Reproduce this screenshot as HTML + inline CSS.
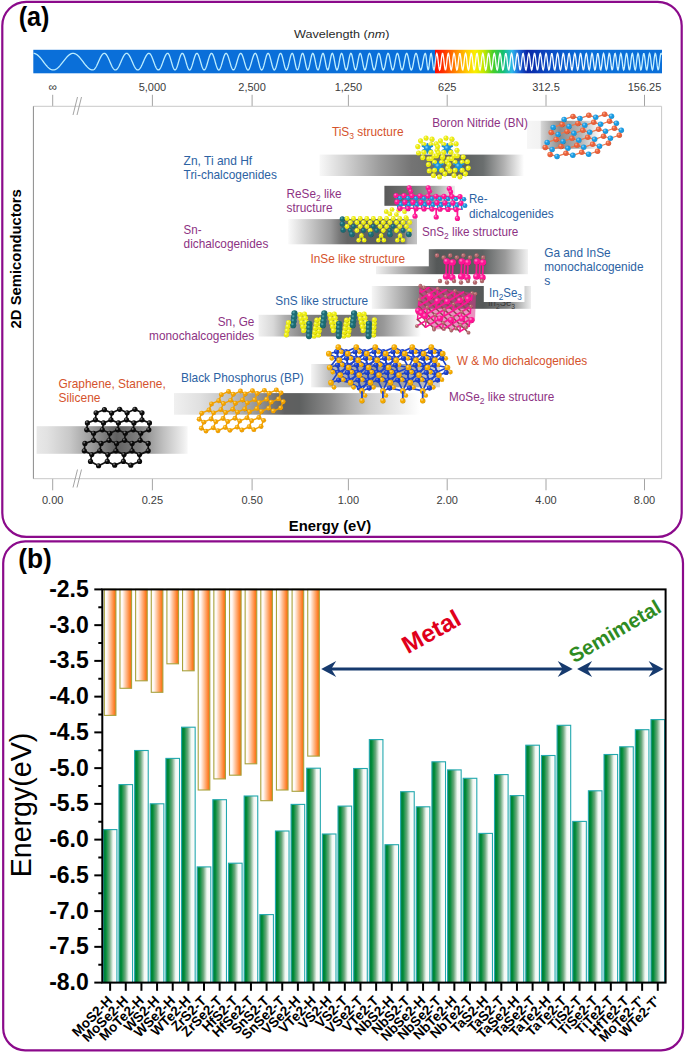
<!DOCTYPE html>
<html><head><meta charset="utf-8"><title>2D semiconductors</title>
<style>
html,body{margin:0;padding:0;background:#fff;}
body{width:685px;height:1053px;overflow:hidden;font-family:"Liberation Sans",sans-serif;}
svg{display:block;}
</style></head><body>
<svg width="685" height="1053" viewBox="0 0 685 1053" font-family="&quot;Liberation Sans&quot;, sans-serif"><defs><linearGradient id="spec" x1="33.3" y1="0" x2="662" y2="0" gradientUnits="userSpaceOnUse"><stop offset="0.0000" stop-color="#0a6fd9"/><stop offset="0.6388" stop-color="#0a6fd9"/><stop offset="0.6389" stop-color="#ff0800"/><stop offset="0.6548" stop-color="#ff3c00"/><stop offset="0.6755" stop-color="#ff9600"/><stop offset="0.6898" stop-color="#ffcc00"/><stop offset="0.7026" stop-color="#fbee00"/><stop offset="0.7169" stop-color="#c4e800"/><stop offset="0.7312" stop-color="#48d028"/><stop offset="0.7471" stop-color="#14c070"/><stop offset="0.7614" stop-color="#2cb8ea"/><stop offset="0.7725" stop-color="#1a64d8"/><stop offset="0.7853" stop-color="#0a26a6"/><stop offset="0.8059" stop-color="#0a3cb8"/><stop offset="0.8298" stop-color="#0a52c8"/><stop offset="0.8616" stop-color="#0a66d4"/><stop offset="0.8887" stop-color="#0a6fd9"/><stop offset="1.0000" stop-color="#0a6fd9"/></linearGradient><linearGradient id="wv" x1="33.3" y1="0" x2="662" y2="0" gradientUnits="userSpaceOnUse"><stop offset="0" stop-color="#b8ecff"/><stop offset="0.6400" stop-color="#c0eeff"/><stop offset="0.6410" stop-color="#ffffff"/><stop offset="0.86" stop-color="#f4fbff"/><stop offset="0.95" stop-color="#c8f0ff"/><stop offset="1" stop-color="#c0eeff"/></linearGradient><linearGradient id="bBN" x1="0" y1="0" x2="1" y2="0"><stop offset="0" stop-color="#f6f6f6"/><stop offset="0.18" stop-color="#f2f2f2"/><stop offset="0.2" stop-color="#d4d4d4"/><stop offset="0.45" stop-color="#8c8c8c"/><stop offset="0.75" stop-color="#b8b8b8"/><stop offset="1" stop-color="#ffffff"/></linearGradient><linearGradient id="bTi" x1="0" y1="0" x2="1" y2="0"><stop offset="0" stop-color="#f8f8f8"/><stop offset="0.12" stop-color="#d4d4d4"/><stop offset="0.3" stop-color="#9a9a9a"/><stop offset="0.45" stop-color="#747474"/><stop offset="0.72" stop-color="#5e6262"/><stop offset="0.8" stop-color="#6a6e6e"/><stop offset="0.9" stop-color="#b0b0b0"/><stop offset="1" stop-color="#ffffff"/></linearGradient><linearGradient id="bRe" x1="0" y1="0" x2="1" y2="0"><stop offset="0" stop-color="#5a5a5a"/><stop offset="0.35" stop-color="#707070"/><stop offset="0.7" stop-color="#a0a0a0"/><stop offset="1" stop-color="#eeeeee"/></linearGradient><linearGradient id="bSn2" x1="0" y1="0" x2="1" y2="0"><stop offset="0" stop-color="#fafafa"/><stop offset="0.09" stop-color="#e0e0e0"/><stop offset="0.2" stop-color="#c0c0c0"/><stop offset="0.33" stop-color="#9a9a9a"/><stop offset="0.4" stop-color="#777777"/><stop offset="0.46" stop-color="#666666"/><stop offset="0.7" stop-color="#5a5e5e"/><stop offset="0.9" stop-color="#6e7272"/><stop offset="0.93" stop-color="#a8a8a8"/><stop offset="1" stop-color="#c4c4c4"/></linearGradient><linearGradient id="bInSe" x1="0" y1="0" x2="1" y2="0"><stop offset="0" stop-color="#f0f0f0"/><stop offset="0.3" stop-color="#808080"/><stop offset="0.4" stop-color="#555858"/><stop offset="0.7" stop-color="#5e6262"/><stop offset="0.85" stop-color="#9a9a9a"/><stop offset="1" stop-color="#f2f2f2"/></linearGradient><linearGradient id="bIn2" x1="0" y1="0" x2="1" y2="0"><stop offset="0" stop-color="#f6f6f6"/><stop offset="0.2" stop-color="#a8a8a8"/><stop offset="0.35" stop-color="#6a6a6a"/><stop offset="0.7" stop-color="#555858"/><stop offset="0.85" stop-color="#7a7c7c"/><stop offset="1" stop-color="#eeeeee"/></linearGradient><linearGradient id="bSnS" x1="0" y1="0" x2="1" y2="0"><stop offset="0" stop-color="#f0f0f0"/><stop offset="0.09" stop-color="#d8d8d8"/><stop offset="0.16" stop-color="#b0b0b0"/><stop offset="0.27" stop-color="#888888"/><stop offset="0.38" stop-color="#777777"/><stop offset="0.63" stop-color="#747474"/><stop offset="0.77" stop-color="#999999"/><stop offset="0.88" stop-color="#c8c8c8"/><stop offset="0.95" stop-color="#e8e8e8"/><stop offset="1" stop-color="#ffffff"/></linearGradient><linearGradient id="bMo" x1="0" y1="0" x2="1" y2="0"><stop offset="0" stop-color="#f4f4f4"/><stop offset="0.15" stop-color="#bbbbbb"/><stop offset="0.5" stop-color="#959595"/><stop offset="0.8" stop-color="#aaaaaa"/><stop offset="1" stop-color="#d8d8d8"/></linearGradient><linearGradient id="bBP" x1="0" y1="0" x2="1" y2="0"><stop offset="0" stop-color="#f0f0f0"/><stop offset="0.106" stop-color="#e0e0e0"/><stop offset="0.23" stop-color="#c0c0c0"/><stop offset="0.35" stop-color="#909090"/><stop offset="0.45" stop-color="#606060"/><stop offset="0.51" stop-color="#5e6060"/><stop offset="0.634" stop-color="#8a8a8a"/><stop offset="0.715" stop-color="#b0b0b0"/><stop offset="0.8" stop-color="#d0d0d0"/><stop offset="0.88" stop-color="#e4e4e4"/><stop offset="1" stop-color="#ffffff"/></linearGradient><linearGradient id="bGr" x1="0" y1="0" x2="1" y2="0"><stop offset="0" stop-color="#e8e8e8"/><stop offset="0.07" stop-color="#e2e2e2"/><stop offset="0.22" stop-color="#c8c8c8"/><stop offset="0.37" stop-color="#999999"/><stop offset="0.53" stop-color="#606060"/><stop offset="0.68" stop-color="#808080"/><stop offset="0.84" stop-color="#c0c0c0"/><stop offset="0.97" stop-color="#ececec"/><stop offset="1" stop-color="#f8f8f8"/></linearGradient><radialGradient id="sp0" cx="0.36" cy="0.33" r="0.72"><stop offset="0" stop-color="#8a8a8a"/><stop offset="0.4" stop-color="#0a0a0a"/><stop offset="0.85" stop-color="#0a0a0a"/><stop offset="1" stop-color="#070707"/></radialGradient><radialGradient id="sp1" cx="0.36" cy="0.33" r="0.72"><stop offset="0" stop-color="#ffe070"/><stop offset="0.4" stop-color="#f2a000"/><stop offset="0.85" stop-color="#f2a000"/><stop offset="1" stop-color="#ae7300"/></radialGradient><radialGradient id="sp2" cx="0.36" cy="0.33" r="0.72"><stop offset="0" stop-color="#6a8af0"/><stop offset="0.4" stop-color="#1c3fc8"/><stop offset="0.85" stop-color="#1c3fc8"/><stop offset="1" stop-color="#142d90"/></radialGradient><radialGradient id="sp3" cx="0.36" cy="0.33" r="0.72"><stop offset="0" stop-color="#ffe080"/><stop offset="0.4" stop-color="#f2a800"/><stop offset="0.85" stop-color="#f2a800"/><stop offset="1" stop-color="#ae7800"/></radialGradient><radialGradient id="sp4" cx="0.36" cy="0.33" r="0.72"><stop offset="0" stop-color="#ffff9a"/><stop offset="0.4" stop-color="#eaea10"/><stop offset="0.85" stop-color="#eaea10"/><stop offset="1" stop-color="#a8a80b"/></radialGradient><radialGradient id="sp5" cx="0.36" cy="0.33" r="0.72"><stop offset="0" stop-color="#5fb0b8"/><stop offset="0.4" stop-color="#1c6a72"/><stop offset="0.85" stop-color="#1c6a72"/><stop offset="1" stop-color="#144c52"/></radialGradient><radialGradient id="sp6" cx="0.36" cy="0.33" r="0.72"><stop offset="0" stop-color="#e0a8a8"/><stop offset="0.4" stop-color="#b0646a"/><stop offset="0.85" stop-color="#b0646a"/><stop offset="1" stop-color="#7e484c"/></radialGradient><radialGradient id="sp7" cx="0.36" cy="0.33" r="0.72"><stop offset="0" stop-color="#ff9ad0"/><stop offset="0.4" stop-color="#ff1493"/><stop offset="0.85" stop-color="#ff1493"/><stop offset="1" stop-color="#b70e69"/></radialGradient><radialGradient id="sp8" cx="0.36" cy="0.33" r="0.72"><stop offset="0" stop-color="#80d0ff"/><stop offset="0.4" stop-color="#1a90d8"/><stop offset="0.85" stop-color="#1a90d8"/><stop offset="1" stop-color="#12679b"/></radialGradient><radialGradient id="sp9" cx="0.36" cy="0.33" r="0.72"><stop offset="0" stop-color="#ffb090"/><stop offset="0.4" stop-color="#e8603a"/><stop offset="0.85" stop-color="#e8603a"/><stop offset="1" stop-color="#a74529"/></radialGradient><radialGradient id="sp10" cx="0.36" cy="0.33" r="0.72"><stop offset="0" stop-color="#90d8ff"/><stop offset="0.4" stop-color="#1a9ae0"/><stop offset="0.85" stop-color="#1a9ae0"/><stop offset="1" stop-color="#126ea1"/></radialGradient><linearGradient id="wbx" x1="0" y1="0" x2="1" y2="0"><stop offset="0" stop-color="#fff"/><stop offset="0.8" stop-color="#fff"/><stop offset="1" stop-color="#fff" stop-opacity="0"/></linearGradient><linearGradient id="gOr" x1="0" y1="0" x2="1" y2="0">
<stop offset="0" stop-color="#ffffff"/><stop offset="0.22" stop-color="#fff8f4"/>
<stop offset="0.55" stop-color="#ffb889"/><stop offset="0.85" stop-color="#ff7f2a"/><stop offset="1" stop-color="#f07010"/></linearGradient><linearGradient id="gGr" x1="0" y1="0" x2="1" y2="0">
<stop offset="0" stop-color="#007a3a"/><stop offset="0.18" stop-color="#008c38"/>
<stop offset="0.45" stop-color="#6aa87c"/><stop offset="0.72" stop-color="#f2f8f4"/><stop offset="1" stop-color="#ffffff"/></linearGradient></defs><rect x="2.3" y="1.8" width="679.4" height="535.1" rx="24" ry="24" fill="none" stroke="#8b0a8b" stroke-width="2.2"/>
<text x="18.70" y="25.90" font-size="28" fill="#000" font-weight="bold" textLength="30.80" lengthAdjust="spacingAndGlyphs">(a)</text>
<text x="294.00" y="38.40" font-size="11.8" fill="#2a2a2a" textLength="95.50" lengthAdjust="spacingAndGlyphs">Wavelength (<tspan font-style="italic">nm</tspan>)</text>
<rect x="33.3" y="49.8" width="628.7" height="23.5" fill="url(#spec)"/>
<path d="M33.60,53.35 L34.00,53.39 L34.40,53.45 L34.80,53.55 L35.20,53.68 L35.60,53.85 L36.00,54.04 L36.40,54.27 L36.80,54.52 L37.20,54.81 L37.60,55.12 L38.00,55.45 L38.40,55.82 L38.80,56.20 L39.20,56.61 L39.60,57.04 L40.00,57.48 L40.40,57.94 L40.80,58.42 L41.20,58.91 L41.60,59.41 L42.00,59.92 L42.40,60.44 L42.80,60.96 L43.20,61.49 L43.60,62.01 L44.00,62.54 L44.40,63.06 L44.80,63.57 L45.20,64.08 L45.60,64.57 L46.00,65.06 L46.40,65.53 L46.80,65.99 L47.20,66.43 L47.60,66.85 L48.00,67.25 L48.40,67.62 L48.80,67.98 L49.20,68.30 L49.60,68.60 L50.00,68.88 L50.40,69.12 L50.80,69.33 L51.20,69.52 L51.60,69.67 L52.00,69.79 L52.40,69.88 L52.80,69.93 L53.20,69.95 L53.60,69.94 L54.00,69.89 L54.40,69.81 L54.80,69.70 L55.20,69.56 L55.60,69.38 L56.00,69.18 L56.40,68.94 L56.80,68.67 L57.20,68.38 L57.60,68.06 L58.00,67.71 L58.40,67.34 L58.80,66.95 L59.20,66.53 L59.60,66.10 L60.00,65.65 L60.40,65.18 L60.80,64.70 L61.20,64.20 L61.60,63.70 L62.00,63.18 L62.40,62.67 L62.80,62.14 L63.20,61.62 L63.60,61.09 L64.00,60.57 L64.40,60.05 L64.80,59.54 L65.20,59.04 L65.60,58.54 L66.00,58.06 L66.40,57.60 L66.80,57.15 L67.20,56.71 L67.60,56.30 L68.00,55.91 L68.40,55.54 L68.80,55.20 L69.20,54.88 L69.60,54.59 L70.00,54.33 L70.40,54.10 L70.80,53.89 L71.20,53.72 L71.60,53.58 L72.00,53.48 L72.40,53.40 L72.80,53.36 L73.20,53.35 L73.60,53.38 L74.00,53.44 L74.40,53.53 L74.80,53.65 L75.20,53.81 L75.60,54.00 L76.00,54.22 L76.40,54.47 L76.80,54.75 L77.20,55.06 L77.60,55.40 L78.00,55.76 L78.40,56.14 L78.80,56.55 L79.20,56.98 L79.60,57.42 L80.00,57.89 L80.40,58.37 L80.80,58.86 L81.20,59.36 L81.60,59.88 L82.00,60.40 L82.40,60.92 L82.80,61.45 L83.20,61.98 L83.60,62.51 L84.00,63.03 L84.40,63.55 L84.80,64.06 L85.20,64.56 L85.60,65.05 L86.00,65.53 L86.40,65.99 L86.80,66.43 L87.20,66.85 L87.60,67.26 L88.00,67.63 L88.40,67.99 L88.80,68.32 L89.20,68.62 L89.60,68.89 L90.00,69.14 L90.40,69.35 L90.80,69.53 L91.20,69.68 L91.60,69.80 L92.00,69.88 L92.40,69.93 L92.80,69.95 L93.20,69.90 L93.60,69.75 L94.00,69.51 L94.40,69.17 L94.80,68.74 L95.20,68.23 L95.60,67.64 L96.00,66.98 L96.40,66.25 L96.80,65.47 L97.20,64.64 L97.60,63.78 L98.00,62.89 L98.40,61.99 L98.80,61.08 L99.20,60.18 L99.60,59.30 L100.00,58.45 L100.40,57.63 L100.80,56.86 L101.20,56.15 L101.60,55.51 L102.00,54.94 L102.40,54.44 L102.80,54.04 L103.20,53.72 L103.60,53.50 L104.00,53.38 L104.40,53.35 L104.80,53.43 L105.20,53.62 L105.60,53.90 L106.00,54.28 L106.40,54.76 L106.80,55.33 L107.20,55.97 L107.60,56.69 L108.00,57.47 L108.40,58.30 L108.80,59.17 L109.20,60.08 L109.60,61.01 L110.00,61.94 L110.40,62.87 L110.80,63.79 L111.20,64.68 L111.60,65.53 L112.00,66.33 L112.40,67.07 L112.80,67.74 L113.20,68.34 L113.60,68.85 L114.00,69.27 L114.40,69.59 L114.80,69.81 L115.20,69.93 L115.60,69.94 L116.00,69.85 L116.40,69.65 L116.80,69.36 L117.20,68.96 L117.60,68.47 L118.00,67.90 L118.40,67.24 L118.80,66.52 L119.20,65.73 L119.60,64.89 L120.00,64.01 L120.40,63.10 L120.80,62.18 L121.20,61.24 L121.60,60.31 L122.00,59.40 L122.40,58.51 L122.80,57.67 L123.20,56.88 L123.60,56.14 L124.00,55.48 L124.40,54.89 L124.80,54.39 L125.20,53.99 L125.60,53.68 L126.00,53.47 L126.40,53.36 L126.80,53.36 L127.20,53.47 L127.60,53.67 L128.00,53.98 L128.40,54.39 L128.80,54.88 L129.20,55.46 L129.60,56.12 L130.00,56.85 L130.40,57.64 L130.80,58.47 L131.20,59.35 L131.60,60.26 L132.00,61.18 L132.40,62.12 L132.80,63.04 L133.20,63.95 L133.60,64.83 L134.00,65.66 L134.40,66.45 L134.80,67.18 L135.20,67.84 L135.60,68.42 L136.00,68.91 L136.40,69.32 L136.80,69.63 L137.20,69.83 L137.60,69.94 L138.00,69.94 L138.40,69.83 L138.80,69.63 L139.20,69.32 L139.60,68.91 L140.00,68.42 L140.40,67.84 L140.80,67.18 L141.20,66.45 L141.60,65.66 L142.00,64.83 L142.40,63.95 L142.80,63.04 L143.20,62.12 L143.60,61.18 L144.00,60.26 L144.40,59.35 L144.80,58.47 L145.20,57.64 L145.60,56.85 L146.00,56.12 L146.40,55.46 L146.80,54.88 L147.20,54.39 L147.60,53.98 L148.00,53.67 L148.40,53.47 L148.80,53.36 L149.20,53.37 L149.60,53.52 L150.00,53.81 L150.40,54.25 L150.80,54.82 L151.20,55.52 L151.60,56.32 L152.00,57.22 L152.40,58.20 L152.80,59.24 L153.20,60.33 L153.60,61.44 L154.00,62.55 L154.40,63.65 L154.80,64.71 L155.20,65.72 L155.60,66.65 L156.00,67.49 L156.40,68.23 L156.80,68.85 L157.20,69.34 L157.60,69.69 L158.00,69.89 L158.40,69.95 L158.80,69.86 L159.20,69.61 L159.60,69.23 L160.00,68.71 L160.40,68.06 L160.80,67.29 L161.20,66.43 L161.60,65.47 L162.00,64.45 L162.40,63.38 L162.80,62.28 L163.20,61.16 L163.60,60.06 L164.00,58.98 L164.40,57.95 L164.80,56.99 L165.20,56.11 L165.60,55.33 L166.00,54.67 L166.40,54.13 L166.80,53.73 L167.20,53.47 L167.60,53.35 L168.00,53.42 L168.40,53.72 L168.80,54.26 L169.20,55.02 L169.60,55.97 L170.00,57.09 L170.40,58.35 L170.80,59.70 L171.20,61.11 L171.60,62.54 L172.00,63.94 L172.40,65.27 L172.80,66.50 L173.20,67.58 L173.60,68.49 L174.00,69.19 L174.40,69.67 L174.80,69.92 L175.20,69.92 L175.60,69.67 L176.00,69.19 L176.40,68.49 L176.80,67.58 L177.20,66.50 L177.60,65.27 L178.00,63.94 L178.40,62.54 L178.80,61.11 L179.20,59.70 L179.60,58.35 L180.00,57.09 L180.40,55.97 L180.80,55.02 L181.20,54.26 L181.60,53.72 L182.00,53.42 L182.40,53.36 L182.80,53.54 L183.20,53.96 L183.60,54.62 L184.00,55.47 L184.40,56.52 L184.80,57.71 L185.20,59.02 L185.60,60.40 L186.00,61.83 L186.40,63.25 L186.80,64.62 L187.20,65.90 L187.60,67.06 L188.00,68.06 L188.40,68.87 L188.80,69.46 L189.20,69.83 L189.60,69.95 L190.00,69.83 L190.40,69.46 L190.80,68.87 L191.20,68.06 L191.60,67.06 L192.00,65.90 L192.40,64.62 L192.80,63.25 L193.20,61.83 L193.60,60.40 L194.00,59.02 L194.40,57.71 L194.80,56.52 L195.20,55.47 L195.60,54.62 L196.00,53.96 L196.40,53.54 L196.80,53.36 L197.20,53.42 L197.60,53.72 L198.00,54.26 L198.40,55.02 L198.80,55.97 L199.20,57.09 L199.60,58.35 L200.00,59.70 L200.40,61.11 L200.80,62.54 L201.20,63.94 L201.60,65.27 L202.00,66.50 L202.40,67.58 L202.80,68.49 L203.20,69.19 L203.60,69.67 L204.00,69.92 L204.40,69.92 L204.80,69.67 L205.20,69.19 L205.60,68.49 L206.00,67.58 L206.40,66.50 L206.80,65.27 L207.20,63.94 L207.60,62.54 L208.00,61.11 L208.40,59.70 L208.80,58.35 L209.20,57.09 L209.60,55.97 L210.00,55.02 L210.40,54.26 L210.80,53.72 L211.20,53.42 L211.60,53.36 L212.00,53.54 L212.40,53.96 L212.80,54.62 L213.20,55.47 L213.60,56.52 L214.00,57.71 L214.40,59.02 L214.80,60.40 L215.20,61.83 L215.60,63.25 L216.00,64.62 L216.40,65.90 L216.80,67.06 L217.20,68.06 L217.60,68.87 L218.00,69.46 L218.40,69.83 L218.80,69.95 L219.20,69.83 L219.60,69.46 L220.00,68.87 L220.40,68.06 L220.80,67.06 L221.20,65.90 L221.60,64.62 L222.00,63.25 L222.40,61.83 L222.80,60.40 L223.20,59.02 L223.60,57.71 L224.00,56.52 L224.40,55.47 L224.80,54.62 L225.20,53.96 L225.60,53.54 L226.00,53.36 L226.40,53.42 L226.80,53.72 L227.20,54.26 L227.60,55.02 L228.00,55.97 L228.40,57.09 L228.80,58.35 L229.20,59.70 L229.60,61.11 L230.00,62.54 L230.40,63.94 L230.80,65.27 L231.20,66.50 L231.60,67.58 L232.00,68.49 L232.40,69.19 L232.80,69.67 L233.20,69.92 L233.60,69.92 L234.00,69.67 L234.40,69.19 L234.80,68.49 L235.20,67.58 L235.60,66.50 L236.00,65.27 L236.40,63.94 L236.80,62.54 L237.20,61.11 L237.60,59.70 L238.00,58.35 L238.40,57.09 L238.80,55.97 L239.20,55.02 L239.60,54.26 L240.00,53.72 L240.40,53.42 L240.80,53.36 L241.20,53.54 L241.60,53.96 L242.00,54.62 L242.40,55.47 L242.80,56.52 L243.20,57.71 L243.60,59.02 L244.00,60.40 L244.40,61.83 L244.80,63.25 L245.20,64.62 L245.60,65.90 L246.00,67.06 L246.40,68.06 L246.80,68.87 L247.20,69.46 L247.60,69.83 L248.00,69.95 L248.40,69.83 L248.80,69.46 L249.20,68.87 L249.60,68.06 L250.00,67.06 L250.40,65.90 L250.80,64.62 L251.20,63.25 L251.60,61.83 L252.00,60.40 L252.40,59.02 L252.80,57.71 L253.20,56.52 L253.60,55.47 L254.00,54.62 L254.40,53.96 L254.80,53.54 L255.20,53.36 L255.60,53.44 L256.00,53.84 L256.40,54.53 L256.80,55.50 L257.20,56.71 L257.60,58.10 L258.00,59.63 L258.40,61.24 L258.80,62.87 L259.20,64.45 L259.60,65.92 L260.00,67.22 L260.40,68.32 L260.80,69.15 L261.20,69.70 L261.60,69.94 L262.00,69.86 L262.40,69.46 L262.80,68.77 L263.20,67.80 L263.60,66.59 L264.00,65.20 L264.40,63.67 L264.80,62.06 L265.20,60.43 L265.60,58.85 L266.00,57.38 L266.40,56.08 L266.80,54.98 L267.20,54.15 L267.60,53.60 L268.00,53.36 L268.40,53.44 L268.80,53.86 L269.20,54.59 L269.60,55.60 L270.00,56.86 L270.40,58.31 L270.80,59.89 L271.20,61.55 L271.60,63.21 L272.00,64.80 L272.40,66.27 L272.80,67.56 L273.20,68.60 L273.60,69.37 L274.00,69.82 L274.40,69.95 L274.80,69.74 L275.20,69.20 L275.60,68.36 L276.00,67.26 L276.40,65.92 L276.80,64.41 L277.20,62.79 L277.60,61.13 L278.00,59.49 L278.40,57.93 L278.80,56.52 L279.20,55.32 L279.60,54.38 L280.00,53.72 L280.40,53.39 L280.80,53.40 L281.20,53.78 L281.60,54.54 L282.00,55.62 L282.40,56.99 L282.80,58.58 L283.20,60.31 L283.60,62.10 L284.00,63.87 L284.40,65.54 L284.80,67.02 L285.20,68.26 L285.60,69.18 L286.00,69.76 L286.40,69.95 L286.80,69.76 L287.20,69.18 L287.60,68.26 L288.00,67.02 L288.40,65.54 L288.80,63.87 L289.20,62.10 L289.60,60.31 L290.00,58.58 L290.40,56.99 L290.80,55.62 L291.20,54.54 L291.60,53.78 L292.00,53.40 L292.40,53.41 L292.80,53.89 L293.20,54.82 L293.60,56.15 L294.00,57.79 L294.40,59.66 L294.80,61.65 L295.20,63.64 L295.60,65.51 L296.00,67.15 L296.40,68.48 L296.80,69.41 L297.20,69.89 L297.60,69.89 L298.00,69.41 L298.40,68.48 L298.80,67.15 L299.20,65.51 L299.60,63.64 L300.00,61.65 L300.40,59.66 L300.80,57.79 L301.20,56.15 L301.60,54.82 L302.00,53.89 L302.40,53.41 L302.80,53.41 L303.20,53.91 L303.60,54.88 L304.00,56.25 L304.40,57.95 L304.80,59.87 L305.20,61.91 L305.60,63.92 L306.00,65.80 L306.40,67.43 L306.80,68.71 L307.20,69.56 L307.60,69.93 L308.00,69.81 L308.40,69.19 L308.80,68.12 L309.20,66.65 L309.60,64.89 L310.00,62.92 L310.40,60.88 L310.80,58.89 L311.20,57.07 L311.60,55.52 L312.00,54.34 L312.40,53.60 L312.80,53.35 L313.20,53.60 L313.60,54.34 L314.00,55.52 L314.40,57.07 L314.80,58.89 L315.20,60.88 L315.60,62.92 L316.00,64.89 L316.40,66.65 L316.80,68.12 L317.20,69.19 L317.60,69.81 L318.00,69.93 L318.40,69.56 L318.80,68.71 L319.20,67.43 L319.60,65.80 L320.00,63.92 L320.40,61.91 L320.80,59.87 L321.20,57.95 L321.60,56.25 L322.00,54.88 L322.40,53.91 L322.80,53.41 L323.20,53.43 L323.60,54.02 L324.00,55.17 L324.40,56.79 L324.80,58.77 L325.20,60.95 L325.60,63.18 L326.00,65.31 L326.40,67.16 L326.80,68.62 L327.20,69.57 L327.60,69.95 L328.00,69.72 L328.40,68.91 L328.80,67.57 L329.20,65.80 L329.60,63.73 L330.00,61.51 L330.40,59.30 L330.80,57.26 L331.20,55.54 L331.60,54.26 L332.00,53.52 L332.40,53.37 L332.80,53.82 L333.20,54.84 L333.60,56.35 L334.00,58.25 L334.40,60.39 L334.80,62.63 L335.20,64.79 L335.60,66.73 L336.00,68.30 L336.40,69.38 L336.80,69.91 L337.20,69.83 L337.60,69.16 L338.00,67.95 L338.40,66.28 L338.80,64.27 L339.20,62.07 L339.60,59.84 L340.00,57.75 L340.40,55.93 L340.80,54.53 L341.20,53.65 L341.60,53.35 L342.00,53.65 L342.40,54.53 L342.80,55.93 L343.20,57.75 L343.60,59.84 L344.00,62.07 L344.40,64.27 L344.80,66.28 L345.20,67.95 L345.60,69.16 L346.00,69.83 L346.40,69.91 L346.80,69.38 L347.20,68.30 L347.60,66.73 L348.00,64.79 L348.40,62.63 L348.80,60.39 L349.20,58.25 L349.60,56.35 L350.00,54.84 L350.40,53.82 L350.80,53.37 L351.20,53.52 L351.60,54.26 L352.00,55.54 L352.40,57.26 L352.80,59.30 L353.20,61.51 L353.60,63.73 L354.00,65.80 L354.40,67.57 L354.80,68.91 L355.20,69.72 L355.60,69.95 L356.00,69.57 L356.40,68.62 L356.80,67.16 L357.20,65.31 L357.60,63.18 L358.00,60.95 L358.40,58.77 L358.80,56.79 L359.20,55.17 L359.60,54.02 L360.00,53.43 L360.40,53.43 L360.80,54.02 L361.20,55.17 L361.60,56.79 L362.00,58.77 L362.40,60.95 L362.80,63.18 L363.20,65.31 L363.60,67.16 L364.00,68.62 L364.40,69.57 L364.80,69.95 L365.20,69.72 L365.60,68.91 L366.00,67.57 L366.40,65.80 L366.80,63.73 L367.20,61.51 L367.60,59.30 L368.00,57.26 L368.40,55.54 L368.80,54.26 L369.20,53.52 L369.60,53.37 L370.00,53.82 L370.40,54.84 L370.80,56.35 L371.20,58.25 L371.60,60.39 L372.00,62.63 L372.40,64.79 L372.80,66.73 L373.20,68.30 L373.60,69.38 L374.00,69.91 L374.40,69.83 L374.80,69.16 L375.20,67.95 L375.60,66.28 L376.00,64.27 L376.40,62.07 L376.80,59.84 L377.20,57.75 L377.60,55.93 L378.00,54.53 L378.40,53.65 L378.80,53.35 L379.20,53.65 L379.60,54.53 L380.00,55.93 L380.40,57.75 L380.80,59.84 L381.20,62.07 L381.60,64.27 L382.00,66.28 L382.40,67.95 L382.80,69.16 L383.20,69.83 L383.60,69.91 L384.00,69.38 L384.40,68.30 L384.80,66.73 L385.20,64.79 L385.60,62.63 L386.00,60.39 L386.40,58.25 L386.80,56.35 L387.20,54.84 L387.60,53.82 L388.00,53.37 L388.40,53.52 L388.80,54.26 L389.20,55.54 L389.60,57.26 L390.00,59.30 L390.40,61.51 L390.80,63.73 L391.20,65.80 L391.60,67.57 L392.00,68.91 L392.40,69.72 L392.80,69.95 L393.20,69.57 L393.60,68.62 L394.00,67.16 L394.40,65.31 L394.80,63.18 L395.20,60.95 L395.60,58.77 L396.00,56.79 L396.40,55.17 L396.80,54.02 L397.20,53.43 L397.60,53.43 L398.00,54.02 L398.40,55.17 L398.80,56.79 L399.20,58.77 L399.60,60.95 L400.00,63.18 L400.40,65.31 L400.80,67.16 L401.20,68.62 L401.60,69.57 L402.00,69.95 L402.40,69.72 L402.80,68.91 L403.20,67.57 L403.60,65.80 L404.00,63.73 L404.40,61.51 L404.80,59.30 L405.20,57.26 L405.60,55.54 L406.00,54.26 L406.40,53.52 L406.80,53.37 L407.20,53.82 L407.60,54.84 L408.00,56.35 L408.40,58.25 L408.80,60.39 L409.20,62.63 L409.60,64.79 L410.00,66.73 L410.40,68.30 L410.80,69.38 L411.20,69.91 L411.60,69.83 L412.00,69.16 L412.40,67.95 L412.80,66.28 L413.20,64.27 L413.60,62.07 L414.00,59.84 L414.40,57.75 L414.80,55.93 L415.20,54.53 L415.60,53.65 L416.00,53.35 L416.40,53.65 L416.80,54.53 L417.20,55.93 L417.60,57.75 L418.00,59.84 L418.40,62.07 L418.80,64.27 L419.20,66.28 L419.60,67.95 L420.00,69.16 L420.40,69.83 L420.80,69.91 L421.20,69.38 L421.60,68.30 L422.00,66.73 L422.40,64.79 L422.80,62.63 L423.20,60.39 L423.60,58.25 L424.00,56.35 L424.40,54.84 L424.80,53.82 L425.20,53.37 L425.60,53.79 L426.00,55.66 L426.40,58.66 L426.80,62.22 L427.20,65.67 L427.60,68.36 L428.00,69.80 L428.40,69.70 L428.80,68.09 L429.20,65.27 L429.60,61.76 L430.00,58.24 L430.40,55.36 L430.80,53.66 L431.20,53.46 L431.60,54.80 L432.00,57.43 L432.40,60.86 L432.80,64.43 L433.20,67.48 L433.60,69.43 L434.00,69.92 L434.40,68.86 L434.80,66.44 L435.20,63.12 L435.60,59.52 L436.00,56.32 L436.40,54.13 L436.80,53.35 L437.20,54.13 L437.60,56.32 L438.00,59.52 L438.40,63.12 L438.80,66.44 L439.20,68.86 L439.60,69.92 L440.00,69.43 L440.40,67.48 L440.80,64.43 L441.20,60.86 L441.60,57.43 L442.00,54.80 L442.40,53.46 L442.80,53.66 L443.20,55.36 L443.60,58.24 L444.00,61.76 L444.40,65.27 L444.80,68.09 L445.20,69.70 L445.60,69.80 L446.00,68.36 L446.40,65.67 L446.80,62.22 L447.20,58.66 L447.60,55.66 L448.00,53.79 L448.40,53.40 L448.80,54.56 L449.20,57.05 L449.60,60.41 L450.00,64.00 L450.40,67.15 L450.80,69.26 L451.20,69.95 L451.60,69.07 L452.00,66.80 L452.40,63.56 L452.80,59.96 L453.20,56.68 L453.60,54.33 L454.00,53.36 L454.40,53.95 L454.80,55.98 L455.20,59.09 L455.60,62.67 L456.00,66.06 L456.40,68.62 L456.80,69.87 L457.20,69.58 L457.60,67.79 L458.00,64.85 L458.40,61.31 L458.80,57.83 L459.20,55.07 L459.60,53.55 L460.00,53.55 L460.40,55.07 L460.80,57.83 L461.20,61.31 L461.60,64.85 L462.00,67.79 L462.40,69.58 L462.80,69.87 L463.20,68.62 L463.60,66.06 L464.00,62.67 L464.40,59.09 L464.80,55.98 L465.20,53.95 L465.60,53.36 L466.00,54.33 L466.40,56.68 L466.80,59.96 L467.20,63.56 L467.60,66.80 L468.00,69.07 L468.40,69.95 L468.80,69.26 L469.20,67.15 L469.60,64.00 L470.00,60.41 L470.40,57.05 L470.80,54.56 L471.20,53.40 L471.60,53.79 L472.00,55.66 L472.40,58.66 L472.80,62.22 L473.20,65.67 L473.60,68.36 L474.00,69.80 L474.40,69.70 L474.80,68.09 L475.20,65.27 L475.60,61.76 L476.00,58.24 L476.40,55.36 L476.80,53.66 L477.20,53.46 L477.60,54.80 L478.00,57.43 L478.40,60.86 L478.80,64.43 L479.20,67.48 L479.60,69.43 L480.00,69.92 L480.40,68.86 L480.80,66.44 L481.20,63.12 L481.60,59.52 L482.00,56.32 L482.40,54.13 L482.80,53.35 L483.20,54.13 L483.60,56.32 L484.00,59.52 L484.40,63.12 L484.80,66.44 L485.20,68.86 L485.60,69.92 L486.00,69.43 L486.40,67.48 L486.80,64.43 L487.20,60.86 L487.60,57.43 L488.00,54.80 L488.40,53.46 L488.80,53.66 L489.20,55.36 L489.60,58.24 L490.00,61.76 L490.40,65.27 L490.80,68.09 L491.20,69.70 L491.60,69.80 L492.00,68.36 L492.40,65.67 L492.80,62.22 L493.20,58.66 L493.60,55.66 L494.00,53.79 L494.40,53.40 L494.80,54.56 L495.20,57.05 L495.60,60.41 L496.00,64.00 L496.40,67.15 L496.80,69.26 L497.20,69.95 L497.60,69.07 L498.00,66.80 L498.40,63.56 L498.80,59.96 L499.20,56.68 L499.60,54.33 L500.00,53.36 L500.40,53.95 L500.80,55.98 L501.20,59.09 L501.60,62.67 L502.00,66.06 L502.40,68.62 L502.80,69.87 L503.20,69.58 L503.60,67.79 L504.00,64.85 L504.40,61.31 L504.80,57.83 L505.20,55.07 L505.60,53.55 L506.00,53.55 L506.40,55.07 L506.80,57.83 L507.20,61.31 L507.60,64.85 L508.00,67.79 L508.40,69.58 L508.80,69.87 L509.20,68.62 L509.60,66.06 L510.00,62.67 L510.40,59.09 L510.80,55.98 L511.20,53.95 L511.60,53.36 L512.00,54.33 L512.40,56.68 L512.80,59.96 L513.20,63.56 L513.60,66.80 L514.00,69.07 L514.40,69.95 L514.80,69.26 L515.20,67.15 L515.60,64.00 L516.00,60.41 L516.40,57.05 L516.80,54.56 L517.20,53.40 L517.60,53.79 L518.00,55.66 L518.40,58.66 L518.80,62.22 L519.20,65.67 L519.60,68.36 L520.00,69.80 L520.40,69.70 L520.80,68.09 L521.20,65.27 L521.60,61.76 L522.00,58.24 L522.40,55.36 L522.80,53.66 L523.20,53.46 L523.60,54.80 L524.00,57.43 L524.40,60.86 L524.80,64.43 L525.20,67.48 L525.60,69.43 L526.00,69.92 L526.40,68.86 L526.80,66.44 L527.20,63.12 L527.60,59.52 L528.00,56.32 L528.40,54.13 L528.80,53.35 L529.20,54.13 L529.60,56.32 L530.00,59.52 L530.40,63.12 L530.80,66.44 L531.20,68.86 L531.60,69.92 L532.00,69.43 L532.40,67.48 L532.80,64.43 L533.20,60.86 L533.60,57.43 L534.00,54.80 L534.40,53.46 L534.80,53.66 L535.20,55.36 L535.60,58.24 L536.00,61.76 L536.40,65.27 L536.80,68.09 L537.20,69.70 L537.60,69.80 L538.00,68.36 L538.40,65.67 L538.80,62.22 L539.20,58.66 L539.60,55.66 L540.00,53.79 L540.40,53.40 L540.80,54.56 L541.20,57.05 L541.60,60.41 L542.00,64.00 L542.40,67.15 L542.80,69.26 L543.20,69.95 L543.60,69.07 L544.00,66.80 L544.40,63.56 L544.80,59.96 L545.20,56.68 L545.60,54.33 L546.00,53.36 L546.40,53.95 L546.80,55.98 L547.20,59.09 L547.60,62.67 L548.00,66.06 L548.40,68.62 L548.80,69.87 L549.20,69.58 L549.60,67.79 L550.00,64.85 L550.40,61.31 L550.80,57.83 L551.20,55.07 L551.60,53.55 L552.00,53.55 L552.40,55.07 L552.80,57.83 L553.20,61.31 L553.60,64.85 L554.00,67.79 L554.40,69.58 L554.80,69.87 L555.20,68.62 L555.60,66.06 L556.00,62.67 L556.40,59.09 L556.80,55.98 L557.20,53.95 L557.60,53.36 L558.00,54.33 L558.40,56.68 L558.80,59.96 L559.20,63.56 L559.60,66.80 L560.00,69.07 L560.40,69.95 L560.80,69.26 L561.20,67.15 L561.60,64.00 L562.00,60.41 L562.40,57.05 L562.80,54.56 L563.20,53.40 L563.60,53.79 L564.00,55.66 L564.40,58.66 L564.80,62.22 L565.20,65.67 L565.60,68.36 L566.00,69.80 L566.40,69.70 L566.80,68.09 L567.20,65.27 L567.60,61.76 L568.00,58.24 L568.40,55.36 L568.80,53.66 L569.20,53.46 L569.60,54.80 L570.00,57.43 L570.40,60.86 L570.80,64.43 L571.20,67.48 L571.60,69.43 L572.00,69.92 L572.40,68.86 L572.80,66.44 L573.20,63.12 L573.60,59.52 L574.00,56.32 L574.40,54.13 L574.80,53.35 L575.20,54.13 L575.60,56.32 L576.00,59.52 L576.40,63.12 L576.80,66.44 L577.20,68.86 L577.60,69.92 L578.00,69.43 L578.40,67.48 L578.80,64.43 L579.20,60.86 L579.60,57.43 L580.00,54.80 L580.40,53.46 L580.80,53.66 L581.20,55.36 L581.60,58.24 L582.00,61.76 L582.40,65.27 L582.80,68.09 L583.20,69.70 L583.60,69.80 L584.00,68.36 L584.40,65.67 L584.80,62.22 L585.20,58.66 L585.60,55.66 L586.00,53.79 L586.40,53.40 L586.80,54.56 L587.20,57.05 L587.60,60.41 L588.00,64.00 L588.40,67.15 L588.80,69.26 L589.20,69.95 L589.60,69.07 L590.00,66.80 L590.40,63.56 L590.80,59.96 L591.20,56.68 L591.60,54.33 L592.00,53.36 L592.40,53.95 L592.80,55.98 L593.20,59.09 L593.60,62.67 L594.00,66.06 L594.40,68.62 L594.80,69.87 L595.20,69.58 L595.60,67.79 L596.00,64.85 L596.40,61.31 L596.80,57.83 L597.20,55.07 L597.60,53.55 L598.00,53.55 L598.40,55.07 L598.80,57.83 L599.20,61.31 L599.60,64.85 L600.00,67.79 L600.40,69.58 L600.80,69.87 L601.20,68.62 L601.60,66.06 L602.00,62.67 L602.40,59.09 L602.80,55.98 L603.20,53.95 L603.60,53.36 L604.00,54.33 L604.40,56.68 L604.80,59.96 L605.20,63.56 L605.60,66.80 L606.00,69.07 L606.40,69.95 L606.80,69.26 L607.20,67.15 L607.60,64.00 L608.00,60.41 L608.40,57.05 L608.80,54.56 L609.20,53.40 L609.60,53.79 L610.00,55.66 L610.40,58.66 L610.80,62.22 L611.20,65.67 L611.60,68.36 L612.00,69.80 L612.40,69.70 L612.80,68.09 L613.20,65.27 L613.60,61.76 L614.00,58.24 L614.40,55.36 L614.80,53.66 L615.20,53.46 L615.60,54.80 L616.00,57.43 L616.40,60.86 L616.80,64.43 L617.20,67.48 L617.60,69.43 L618.00,69.92 L618.40,68.86 L618.80,66.44 L619.20,63.12 L619.60,59.52 L620.00,56.32 L620.40,54.13 L620.80,53.35 L621.20,54.13 L621.60,56.32 L622.00,59.52 L622.40,63.12 L622.80,66.44 L623.20,68.86 L623.60,69.92 L624.00,69.43 L624.40,67.48 L624.80,64.43 L625.20,60.86 L625.60,57.43 L626.00,54.80 L626.40,53.46 L626.80,53.66 L627.20,55.36 L627.60,58.24 L628.00,61.76 L628.40,65.27 L628.80,68.09 L629.20,69.70 L629.60,69.80 L630.00,68.36 L630.40,65.67 L630.80,62.22 L631.20,58.66 L631.60,55.66 L632.00,53.79 L632.40,53.40 L632.80,54.56 L633.20,57.05 L633.60,60.41 L634.00,64.00 L634.40,67.15 L634.80,69.26 L635.20,69.95 L635.60,69.07 L636.00,66.80 L636.40,63.56 L636.80,59.96 L637.20,56.68 L637.60,54.33 L638.00,53.36 L638.40,53.95 L638.80,55.98 L639.20,59.09 L639.60,62.67 L640.00,66.06 L640.40,68.62 L640.80,69.87 L641.20,69.58 L641.60,67.79 L642.00,64.85 L642.40,61.31 L642.80,57.83 L643.20,55.07 L643.60,53.55 L644.00,53.55 L644.40,55.07 L644.80,57.83 L645.20,61.31 L645.60,64.85 L646.00,67.79 L646.40,69.58 L646.80,69.87 L647.20,68.62 L647.60,66.06 L648.00,62.67 L648.40,59.09 L648.80,55.98 L649.20,53.95 L649.60,53.36 L650.00,54.33 L650.40,56.68 L650.80,59.96 L651.20,63.56 L651.60,66.80 L652.00,69.07 L652.40,69.95 L652.80,69.26 L653.20,67.15 L653.60,64.00 L654.00,60.41 L654.40,57.05 L654.80,54.56 L655.20,53.40 L655.60,53.79 L656.00,55.66 L656.40,58.66 L656.80,62.22 L657.20,65.67 L657.60,68.36 L658.00,69.80 L658.40,69.70 L658.80,68.09 L659.20,65.27 L659.60,61.76 L660.00,58.24 L660.40,55.36 L660.80,53.66 L661.20,53.46 L661.60,54.80" fill="none" stroke="url(#wv)" stroke-width="1.3"/>
<line x1="52.7" y1="94.8" x2="52.7" y2="106.3" stroke="#9a9a9a" stroke-width="0.9"/>
<line x1="52.7" y1="478.7" x2="52.7" y2="490.3" stroke="#9a9a9a" stroke-width="0.9"/>
<text x="52.70" y="91.00" font-size="12" fill="#3c3c3c" text-anchor="middle">&#8734;</text>
<text x="52.70" y="504.00" font-size="11" fill="#3c3c3c" text-anchor="middle">0.00</text>
<line x1="152.4" y1="94.8" x2="152.4" y2="106.3" stroke="#9a9a9a" stroke-width="0.9"/>
<line x1="152.4" y1="478.7" x2="152.4" y2="490.3" stroke="#9a9a9a" stroke-width="0.9"/>
<text x="152.40" y="91.00" font-size="11" fill="#3c3c3c" text-anchor="middle">5,000</text>
<text x="152.40" y="504.00" font-size="11" fill="#3c3c3c" text-anchor="middle">0.25</text>
<line x1="252.1" y1="94.8" x2="252.1" y2="106.3" stroke="#9a9a9a" stroke-width="0.9"/>
<line x1="252.1" y1="478.7" x2="252.1" y2="490.3" stroke="#9a9a9a" stroke-width="0.9"/>
<text x="252.10" y="91.00" font-size="11" fill="#3c3c3c" text-anchor="middle">2,500</text>
<text x="252.10" y="504.00" font-size="11" fill="#3c3c3c" text-anchor="middle">0.50</text>
<line x1="348.4" y1="94.8" x2="348.4" y2="106.3" stroke="#9a9a9a" stroke-width="0.9"/>
<line x1="348.4" y1="478.7" x2="348.4" y2="490.3" stroke="#9a9a9a" stroke-width="0.9"/>
<text x="348.40" y="91.00" font-size="11" fill="#3c3c3c" text-anchor="middle">1,250</text>
<text x="348.40" y="504.00" font-size="11" fill="#3c3c3c" text-anchor="middle">1.00</text>
<line x1="447.2" y1="94.8" x2="447.2" y2="106.3" stroke="#9a9a9a" stroke-width="0.9"/>
<line x1="447.2" y1="478.7" x2="447.2" y2="490.3" stroke="#9a9a9a" stroke-width="0.9"/>
<text x="447.20" y="91.00" font-size="11" fill="#3c3c3c" text-anchor="middle">625</text>
<text x="447.20" y="504.00" font-size="11" fill="#3c3c3c" text-anchor="middle">2.00</text>
<line x1="546.0" y1="94.8" x2="546.0" y2="106.3" stroke="#9a9a9a" stroke-width="0.9"/>
<line x1="546.0" y1="478.7" x2="546.0" y2="490.3" stroke="#9a9a9a" stroke-width="0.9"/>
<text x="546.00" y="91.00" font-size="11" fill="#3c3c3c" text-anchor="middle">312.5</text>
<text x="546.00" y="504.00" font-size="11" fill="#3c3c3c" text-anchor="middle">4.00</text>
<line x1="644.5" y1="94.8" x2="644.5" y2="106.3" stroke="#9a9a9a" stroke-width="0.9"/>
<line x1="644.5" y1="478.7" x2="644.5" y2="490.3" stroke="#9a9a9a" stroke-width="0.9"/>
<text x="644.50" y="91.00" font-size="11" fill="#3c3c3c" text-anchor="middle">156.25</text>
<text x="644.50" y="504.00" font-size="11" fill="#3c3c3c" text-anchor="middle">8.00</text>
<line x1="33.4" y1="106.3" x2="661.6" y2="106.3" stroke="#c8c8c8" stroke-width="1"/>
<line x1="661.6" y1="106.3" x2="661.6" y2="478.7" stroke="#c8c8c8" stroke-width="1"/>
<line x1="33.4" y1="478.7" x2="661.6" y2="478.7" stroke="#c8c8c8" stroke-width="1"/>
<line x1="33.4" y1="106.3" x2="33.4" y2="478.7" stroke="#8a8a8a" stroke-width="1"/>
<line x1="73" y1="115" x2="77.5" y2="97" stroke="#9a9a9a" stroke-width="0.9"/>
<line x1="77" y1="115" x2="81.5" y2="97" stroke="#9a9a9a" stroke-width="0.9"/>
<line x1="73" y1="487.5" x2="77.5" y2="469.5" stroke="#9a9a9a" stroke-width="0.9"/>
<line x1="77" y1="487.5" x2="81.5" y2="469.5" stroke="#9a9a9a" stroke-width="0.9"/>
<text x="0" y="0" font-size="14.6" font-weight="bold" text-anchor="middle" transform="translate(20.6 258.8) rotate(-90)" textLength="139.3" lengthAdjust="spacingAndGlyphs">2D Semiconductors</text>
<text x="330.00" y="530.60" font-size="14.6" fill="#000" font-weight="bold" text-anchor="middle" textLength="82.30" lengthAdjust="spacingAndGlyphs">Energy (eV)</text>
<rect x="527" y="120.8" width="73" height="28.000000000000014" fill="url(#bBN)"/>
<rect x="319.6" y="154.6" width="204.39999999999998" height="21.400000000000006" fill="url(#bTi)"/>
<rect x="384.4" y="185.8" width="70.60000000000002" height="20.0" fill="url(#bRe)"/>
<rect x="288.2" y="219.1" width="128.8" height="25.200000000000017" fill="url(#bSn2)"/>
<rect x="376" y="249.2" width="152" height="25.0" fill="url(#bInSe)"/>
<rect x="300" y="245" width="128.8" height="21.3" fill="#fff"/>
<rect x="371.8" y="286.0" width="159.2" height="22.80000000000001" fill="url(#bIn2)"/>
<rect x="258.6" y="314.8" width="162.39999999999998" height="21.69999999999999" fill="url(#bSnS)"/>
<rect x="311.1" y="364.0" width="128.89999999999998" height="23.30000000000001" fill="url(#bMo)"/>
<rect x="174.0" y="393.1" width="246.0" height="21.599999999999966" fill="url(#bBP)"/>
<rect x="36.6" y="426.2" width="151.1" height="27.600000000000023" fill="url(#bGr)"/>
<line x1="96.09" y1="412.78" x2="104.41" y2="409.68" stroke="#111" stroke-width="1.7" stroke-linecap="round"/>
<line x1="96.09" y1="412.78" x2="95.47" y2="419.85" stroke="#111" stroke-width="1.7" stroke-linecap="round"/>
<line x1="104.41" y1="409.68" x2="111.61" y2="413.03" stroke="#111" stroke-width="1.7" stroke-linecap="round"/>
<line x1="111.61" y1="413.03" x2="119.67" y2="409.31" stroke="#111" stroke-width="1.7" stroke-linecap="round"/>
<line x1="111.61" y1="413.03" x2="110.98" y2="419.85" stroke="#111" stroke-width="1.7" stroke-linecap="round"/>
<line x1="119.67" y1="409.31" x2="127.12" y2="412.78" stroke="#111" stroke-width="1.7" stroke-linecap="round"/>
<line x1="127.12" y1="412.78" x2="134.93" y2="409.31" stroke="#111" stroke-width="1.7" stroke-linecap="round"/>
<line x1="127.12" y1="412.78" x2="126.50" y2="419.85" stroke="#111" stroke-width="1.7" stroke-linecap="round"/>
<line x1="134.93" y1="409.31" x2="142.01" y2="412.78" stroke="#111" stroke-width="1.7" stroke-linecap="round"/>
<line x1="142.01" y1="412.78" x2="142.01" y2="419.85" stroke="#111" stroke-width="1.7" stroke-linecap="round"/>
<line x1="87.41" y1="422.96" x2="95.47" y2="419.85" stroke="#111" stroke-width="1.7" stroke-linecap="round"/>
<line x1="87.41" y1="422.96" x2="86.79" y2="429.78" stroke="#111" stroke-width="1.7" stroke-linecap="round"/>
<line x1="95.47" y1="419.85" x2="103.54" y2="422.96" stroke="#111" stroke-width="1.7" stroke-linecap="round"/>
<line x1="103.54" y1="422.96" x2="110.98" y2="419.85" stroke="#111" stroke-width="1.7" stroke-linecap="round"/>
<line x1="103.54" y1="422.96" x2="102.30" y2="429.78" stroke="#111" stroke-width="1.7" stroke-linecap="round"/>
<line x1="110.98" y1="419.85" x2="118.43" y2="422.96" stroke="#111" stroke-width="1.7" stroke-linecap="round"/>
<line x1="118.43" y1="422.96" x2="126.50" y2="419.85" stroke="#111" stroke-width="1.7" stroke-linecap="round"/>
<line x1="118.43" y1="422.96" x2="117.81" y2="429.78" stroke="#111" stroke-width="1.7" stroke-linecap="round"/>
<line x1="126.50" y1="419.85" x2="133.94" y2="422.96" stroke="#111" stroke-width="1.7" stroke-linecap="round"/>
<line x1="133.94" y1="422.96" x2="142.01" y2="419.85" stroke="#111" stroke-width="1.7" stroke-linecap="round"/>
<line x1="133.94" y1="422.96" x2="133.32" y2="429.78" stroke="#111" stroke-width="1.7" stroke-linecap="round"/>
<line x1="142.01" y1="419.85" x2="149.45" y2="422.96" stroke="#111" stroke-width="1.7" stroke-linecap="round"/>
<line x1="149.45" y1="422.96" x2="148.83" y2="429.78" stroke="#111" stroke-width="1.7" stroke-linecap="round"/>
<line x1="86.79" y1="429.78" x2="93.61" y2="433.25" stroke="#111" stroke-width="1.7" stroke-linecap="round"/>
<line x1="93.61" y1="433.25" x2="102.30" y2="429.78" stroke="#111" stroke-width="1.7" stroke-linecap="round"/>
<line x1="93.61" y1="433.25" x2="93.61" y2="440.33" stroke="#111" stroke-width="1.7" stroke-linecap="round"/>
<line x1="102.30" y1="429.78" x2="109.74" y2="433.25" stroke="#111" stroke-width="1.7" stroke-linecap="round"/>
<line x1="109.74" y1="433.25" x2="117.81" y2="429.78" stroke="#111" stroke-width="1.7" stroke-linecap="round"/>
<line x1="109.74" y1="433.25" x2="109.12" y2="440.33" stroke="#111" stroke-width="1.7" stroke-linecap="round"/>
<line x1="117.81" y1="429.78" x2="125.25" y2="433.25" stroke="#111" stroke-width="1.7" stroke-linecap="round"/>
<line x1="125.25" y1="433.25" x2="133.32" y2="429.78" stroke="#111" stroke-width="1.7" stroke-linecap="round"/>
<line x1="125.25" y1="433.25" x2="124.63" y2="440.33" stroke="#111" stroke-width="1.7" stroke-linecap="round"/>
<line x1="133.32" y1="429.78" x2="140.76" y2="433.25" stroke="#111" stroke-width="1.7" stroke-linecap="round"/>
<line x1="140.76" y1="433.25" x2="148.83" y2="429.78" stroke="#111" stroke-width="1.7" stroke-linecap="round"/>
<line x1="140.76" y1="433.25" x2="140.14" y2="440.33" stroke="#111" stroke-width="1.7" stroke-linecap="round"/>
<line x1="84.93" y1="443.43" x2="93.61" y2="440.33" stroke="#111" stroke-width="1.7" stroke-linecap="round"/>
<line x1="84.93" y1="443.43" x2="84.31" y2="450.87" stroke="#111" stroke-width="1.7" stroke-linecap="round"/>
<line x1="93.61" y1="440.33" x2="101.06" y2="443.43" stroke="#111" stroke-width="1.7" stroke-linecap="round"/>
<line x1="101.06" y1="443.43" x2="109.12" y2="440.33" stroke="#111" stroke-width="1.7" stroke-linecap="round"/>
<line x1="101.06" y1="443.43" x2="99.82" y2="450.87" stroke="#111" stroke-width="1.7" stroke-linecap="round"/>
<line x1="109.12" y1="440.33" x2="116.57" y2="443.43" stroke="#111" stroke-width="1.7" stroke-linecap="round"/>
<line x1="116.57" y1="443.43" x2="124.63" y2="440.33" stroke="#111" stroke-width="1.7" stroke-linecap="round"/>
<line x1="116.57" y1="443.43" x2="115.95" y2="450.87" stroke="#111" stroke-width="1.7" stroke-linecap="round"/>
<line x1="124.63" y1="440.33" x2="132.08" y2="443.43" stroke="#111" stroke-width="1.7" stroke-linecap="round"/>
<line x1="132.08" y1="443.43" x2="140.14" y2="440.33" stroke="#111" stroke-width="1.7" stroke-linecap="round"/>
<line x1="132.08" y1="443.43" x2="132.08" y2="450.87" stroke="#111" stroke-width="1.7" stroke-linecap="round"/>
<line x1="140.14" y1="440.33" x2="148.21" y2="443.43" stroke="#111" stroke-width="1.7" stroke-linecap="round"/>
<line x1="148.21" y1="443.43" x2="148.21" y2="450.87" stroke="#111" stroke-width="1.7" stroke-linecap="round"/>
<line x1="84.31" y1="450.87" x2="91.75" y2="454.60" stroke="#111" stroke-width="1.7" stroke-linecap="round"/>
<line x1="91.75" y1="454.60" x2="99.82" y2="450.87" stroke="#111" stroke-width="1.7" stroke-linecap="round"/>
<line x1="91.75" y1="454.60" x2="90.51" y2="461.42" stroke="#111" stroke-width="1.7" stroke-linecap="round"/>
<line x1="99.82" y1="450.87" x2="107.88" y2="454.60" stroke="#111" stroke-width="1.7" stroke-linecap="round"/>
<line x1="107.88" y1="454.60" x2="115.95" y2="450.87" stroke="#111" stroke-width="1.7" stroke-linecap="round"/>
<line x1="107.88" y1="454.60" x2="107.26" y2="461.42" stroke="#111" stroke-width="1.7" stroke-linecap="round"/>
<line x1="115.95" y1="450.87" x2="124.01" y2="454.60" stroke="#111" stroke-width="1.7" stroke-linecap="round"/>
<line x1="124.01" y1="454.60" x2="132.08" y2="450.87" stroke="#111" stroke-width="1.7" stroke-linecap="round"/>
<line x1="124.01" y1="454.60" x2="123.39" y2="461.42" stroke="#111" stroke-width="1.7" stroke-linecap="round"/>
<line x1="132.08" y1="450.87" x2="139.52" y2="454.60" stroke="#111" stroke-width="1.7" stroke-linecap="round"/>
<line x1="139.52" y1="454.60" x2="148.21" y2="450.87" stroke="#111" stroke-width="1.7" stroke-linecap="round"/>
<line x1="139.52" y1="454.60" x2="139.52" y2="461.42" stroke="#111" stroke-width="1.7" stroke-linecap="round"/>
<line x1="90.51" y1="461.42" x2="98.58" y2="465.76" stroke="#111" stroke-width="1.7" stroke-linecap="round"/>
<line x1="98.58" y1="465.76" x2="107.26" y2="461.42" stroke="#111" stroke-width="1.7" stroke-linecap="round"/>
<line x1="107.26" y1="461.42" x2="114.71" y2="465.14" stroke="#111" stroke-width="1.7" stroke-linecap="round"/>
<line x1="114.71" y1="465.14" x2="123.39" y2="461.42" stroke="#111" stroke-width="1.7" stroke-linecap="round"/>
<line x1="123.39" y1="461.42" x2="130.84" y2="465.14" stroke="#111" stroke-width="1.7" stroke-linecap="round"/>
<line x1="130.84" y1="465.14" x2="139.52" y2="461.42" stroke="#111" stroke-width="1.7" stroke-linecap="round"/>
<circle cx="96.09" cy="412.78" r="2.6" fill="url(#sp0)"/>
<circle cx="104.41" cy="409.68" r="2.6" fill="url(#sp0)"/>
<circle cx="111.61" cy="413.03" r="2.6" fill="url(#sp0)"/>
<circle cx="119.67" cy="409.31" r="2.6" fill="url(#sp0)"/>
<circle cx="127.12" cy="412.78" r="2.6" fill="url(#sp0)"/>
<circle cx="134.93" cy="409.31" r="2.6" fill="url(#sp0)"/>
<circle cx="142.01" cy="412.78" r="2.6" fill="url(#sp0)"/>
<circle cx="87.41" cy="422.96" r="2.6" fill="url(#sp0)"/>
<circle cx="95.47" cy="419.85" r="2.6" fill="url(#sp0)"/>
<circle cx="103.54" cy="422.96" r="2.6" fill="url(#sp0)"/>
<circle cx="110.98" cy="419.85" r="2.6" fill="url(#sp0)"/>
<circle cx="118.43" cy="422.96" r="2.6" fill="url(#sp0)"/>
<circle cx="126.50" cy="419.85" r="2.6" fill="url(#sp0)"/>
<circle cx="133.94" cy="422.96" r="2.6" fill="url(#sp0)"/>
<circle cx="142.01" cy="419.85" r="2.6" fill="url(#sp0)"/>
<circle cx="149.45" cy="422.96" r="2.6" fill="url(#sp0)"/>
<circle cx="86.79" cy="429.78" r="2.6" fill="url(#sp0)"/>
<circle cx="93.61" cy="433.25" r="2.6" fill="url(#sp0)"/>
<circle cx="102.30" cy="429.78" r="2.6" fill="url(#sp0)"/>
<circle cx="109.74" cy="433.25" r="2.6" fill="url(#sp0)"/>
<circle cx="117.81" cy="429.78" r="2.6" fill="url(#sp0)"/>
<circle cx="125.25" cy="433.25" r="2.6" fill="url(#sp0)"/>
<circle cx="133.32" cy="429.78" r="2.6" fill="url(#sp0)"/>
<circle cx="140.76" cy="433.25" r="2.6" fill="url(#sp0)"/>
<circle cx="148.83" cy="429.78" r="2.6" fill="url(#sp0)"/>
<circle cx="84.93" cy="443.43" r="2.6" fill="url(#sp0)"/>
<circle cx="93.61" cy="440.33" r="2.6" fill="url(#sp0)"/>
<circle cx="101.06" cy="443.43" r="2.6" fill="url(#sp0)"/>
<circle cx="109.12" cy="440.33" r="2.6" fill="url(#sp0)"/>
<circle cx="116.57" cy="443.43" r="2.6" fill="url(#sp0)"/>
<circle cx="124.63" cy="440.33" r="2.6" fill="url(#sp0)"/>
<circle cx="132.08" cy="443.43" r="2.6" fill="url(#sp0)"/>
<circle cx="140.14" cy="440.33" r="2.6" fill="url(#sp0)"/>
<circle cx="148.21" cy="443.43" r="2.6" fill="url(#sp0)"/>
<circle cx="84.31" cy="450.87" r="2.6" fill="url(#sp0)"/>
<circle cx="91.75" cy="454.60" r="2.6" fill="url(#sp0)"/>
<circle cx="99.82" cy="450.87" r="2.6" fill="url(#sp0)"/>
<circle cx="107.88" cy="454.60" r="2.6" fill="url(#sp0)"/>
<circle cx="115.95" cy="450.87" r="2.6" fill="url(#sp0)"/>
<circle cx="124.01" cy="454.60" r="2.6" fill="url(#sp0)"/>
<circle cx="132.08" cy="450.87" r="2.6" fill="url(#sp0)"/>
<circle cx="139.52" cy="454.60" r="2.6" fill="url(#sp0)"/>
<circle cx="148.21" cy="450.87" r="2.6" fill="url(#sp0)"/>
<circle cx="90.51" cy="461.42" r="2.6" fill="url(#sp0)"/>
<circle cx="98.58" cy="465.76" r="2.6" fill="url(#sp0)"/>
<circle cx="107.26" cy="461.42" r="2.6" fill="url(#sp0)"/>
<circle cx="114.71" cy="465.14" r="2.6" fill="url(#sp0)"/>
<circle cx="123.39" cy="461.42" r="2.6" fill="url(#sp0)"/>
<circle cx="130.84" cy="465.14" r="2.6" fill="url(#sp0)"/>
<circle cx="139.52" cy="461.42" r="2.6" fill="url(#sp0)"/>
<line x1="247.35" y1="402.86" x2="254.60" y2="399.64" stroke="#f0a000" stroke-width="1.4" stroke-linecap="round"/>
<line x1="215.80" y1="421.79" x2="223.05" y2="418.57" stroke="#f0a000" stroke-width="1.4" stroke-linecap="round"/>
<line x1="227.75" y1="421.43" x2="235.00" y2="418.21" stroke="#f0a000" stroke-width="1.4" stroke-linecap="round"/>
<line x1="229.90" y1="430.36" x2="237.15" y2="427.14" stroke="#f0a000" stroke-width="1.4" stroke-linecap="round"/>
<line x1="273.40" y1="411.07" x2="280.66" y2="407.85" stroke="#f0a000" stroke-width="1.4" stroke-linecap="round"/>
<line x1="225.60" y1="412.50" x2="223.05" y2="418.57" stroke="#f0a000" stroke-width="1.4" stroke-linecap="round"/>
<line x1="213.25" y1="427.86" x2="217.95" y2="430.72" stroke="#f0a000" stroke-width="1.4" stroke-linecap="round"/>
<line x1="235.00" y1="418.21" x2="239.70" y2="421.07" stroke="#f0a000" stroke-width="1.4" stroke-linecap="round"/>
<line x1="281.06" y1="392.85" x2="278.50" y2="398.92" stroke="#f0a000" stroke-width="1.4" stroke-linecap="round"/>
<line x1="218.74" y1="400.72" x2="223.45" y2="403.57" stroke="#f0a000" stroke-width="1.4" stroke-linecap="round"/>
<line x1="211.09" y1="418.93" x2="215.80" y2="421.79" stroke="#f0a000" stroke-width="1.4" stroke-linecap="round"/>
<line x1="271.25" y1="402.14" x2="278.50" y2="398.92" stroke="#f0a000" stroke-width="1.4" stroke-linecap="round"/>
<line x1="253.80" y1="429.64" x2="261.05" y2="426.43" stroke="#f0a000" stroke-width="1.4" stroke-linecap="round"/>
<line x1="257.16" y1="393.57" x2="264.40" y2="390.35" stroke="#f0a000" stroke-width="1.4" stroke-linecap="round"/>
<line x1="213.64" y1="412.86" x2="211.09" y2="418.93" stroke="#f0a000" stroke-width="1.4" stroke-linecap="round"/>
<line x1="257.16" y1="393.57" x2="254.60" y2="399.64" stroke="#f0a000" stroke-width="1.4" stroke-linecap="round"/>
<line x1="266.55" y1="399.28" x2="271.25" y2="402.14" stroke="#f0a000" stroke-width="1.4" stroke-linecap="round"/>
<line x1="268.70" y1="408.21" x2="273.40" y2="411.07" stroke="#f0a000" stroke-width="1.4" stroke-linecap="round"/>
<line x1="278.50" y1="398.92" x2="283.21" y2="401.78" stroke="#f0a000" stroke-width="1.4" stroke-linecap="round"/>
<line x1="247.35" y1="402.86" x2="244.80" y2="408.93" stroke="#f0a000" stroke-width="1.4" stroke-linecap="round"/>
<line x1="217.95" y1="430.72" x2="225.20" y2="427.50" stroke="#f0a000" stroke-width="1.4" stroke-linecap="round"/>
<line x1="269.11" y1="393.21" x2="276.35" y2="389.99" stroke="#f0a000" stroke-width="1.4" stroke-linecap="round"/>
<line x1="264.40" y1="390.35" x2="269.11" y2="393.21" stroke="#f0a000" stroke-width="1.4" stroke-linecap="round"/>
<line x1="233.26" y1="394.28" x2="240.50" y2="391.07" stroke="#f0a000" stroke-width="1.4" stroke-linecap="round"/>
<line x1="201.30" y1="428.22" x2="205.99" y2="431.08" stroke="#f0a000" stroke-width="1.4" stroke-linecap="round"/>
<line x1="254.60" y1="399.64" x2="259.30" y2="402.50" stroke="#f0a000" stroke-width="1.4" stroke-linecap="round"/>
<line x1="259.30" y1="402.50" x2="266.55" y2="399.28" stroke="#f0a000" stroke-width="1.4" stroke-linecap="round"/>
<line x1="258.90" y1="417.50" x2="263.60" y2="420.35" stroke="#f0a000" stroke-width="1.4" stroke-linecap="round"/>
<line x1="232.85" y1="409.29" x2="237.55" y2="412.14" stroke="#f0a000" stroke-width="1.4" stroke-linecap="round"/>
<line x1="263.60" y1="420.35" x2="261.05" y2="426.43" stroke="#f0a000" stroke-width="1.4" stroke-linecap="round"/>
<line x1="276.35" y1="389.99" x2="281.06" y2="392.85" stroke="#f0a000" stroke-width="1.4" stroke-linecap="round"/>
<line x1="251.65" y1="420.71" x2="249.10" y2="426.78" stroke="#f0a000" stroke-width="1.4" stroke-linecap="round"/>
<line x1="199.14" y1="419.29" x2="203.85" y2="422.15" stroke="#f0a000" stroke-width="1.4" stroke-linecap="round"/>
<line x1="223.45" y1="403.57" x2="230.70" y2="400.36" stroke="#f0a000" stroke-width="1.4" stroke-linecap="round"/>
<line x1="245.21" y1="393.93" x2="252.45" y2="390.71" stroke="#f0a000" stroke-width="1.4" stroke-linecap="round"/>
<line x1="223.05" y1="418.57" x2="227.75" y2="421.43" stroke="#f0a000" stroke-width="1.4" stroke-linecap="round"/>
<line x1="239.70" y1="421.07" x2="237.15" y2="427.14" stroke="#f0a000" stroke-width="1.4" stroke-linecap="round"/>
<line x1="201.69" y1="413.22" x2="199.14" y2="419.29" stroke="#f0a000" stroke-width="1.4" stroke-linecap="round"/>
<line x1="227.75" y1="421.43" x2="225.20" y2="427.50" stroke="#f0a000" stroke-width="1.4" stroke-linecap="round"/>
<line x1="235.40" y1="403.21" x2="242.65" y2="400.00" stroke="#f0a000" stroke-width="1.4" stroke-linecap="round"/>
<line x1="213.64" y1="412.86" x2="220.90" y2="409.64" stroke="#f0a000" stroke-width="1.4" stroke-linecap="round"/>
<line x1="237.55" y1="412.14" x2="244.80" y2="408.93" stroke="#f0a000" stroke-width="1.4" stroke-linecap="round"/>
<line x1="249.10" y1="426.78" x2="253.80" y2="429.64" stroke="#f0a000" stroke-width="1.4" stroke-linecap="round"/>
<line x1="261.45" y1="411.43" x2="268.70" y2="408.21" stroke="#f0a000" stroke-width="1.4" stroke-linecap="round"/>
<line x1="211.50" y1="403.93" x2="218.74" y2="400.72" stroke="#f0a000" stroke-width="1.4" stroke-linecap="round"/>
<line x1="240.50" y1="391.07" x2="245.21" y2="393.93" stroke="#f0a000" stroke-width="1.4" stroke-linecap="round"/>
<line x1="203.85" y1="422.15" x2="211.09" y2="418.93" stroke="#f0a000" stroke-width="1.4" stroke-linecap="round"/>
<line x1="225.20" y1="427.50" x2="229.90" y2="430.36" stroke="#f0a000" stroke-width="1.4" stroke-linecap="round"/>
<line x1="271.25" y1="402.14" x2="268.70" y2="408.21" stroke="#f0a000" stroke-width="1.4" stroke-linecap="round"/>
<line x1="245.21" y1="393.93" x2="242.65" y2="400.00" stroke="#f0a000" stroke-width="1.4" stroke-linecap="round"/>
<line x1="251.65" y1="420.71" x2="258.90" y2="417.50" stroke="#f0a000" stroke-width="1.4" stroke-linecap="round"/>
<line x1="249.50" y1="411.78" x2="246.95" y2="417.86" stroke="#f0a000" stroke-width="1.4" stroke-linecap="round"/>
<line x1="246.95" y1="417.86" x2="251.65" y2="420.71" stroke="#f0a000" stroke-width="1.4" stroke-linecap="round"/>
<line x1="225.60" y1="412.50" x2="232.85" y2="409.29" stroke="#f0a000" stroke-width="1.4" stroke-linecap="round"/>
<line x1="252.45" y1="390.71" x2="257.16" y2="393.57" stroke="#f0a000" stroke-width="1.4" stroke-linecap="round"/>
<line x1="228.55" y1="391.43" x2="233.26" y2="394.28" stroke="#f0a000" stroke-width="1.4" stroke-linecap="round"/>
<line x1="249.50" y1="411.78" x2="256.75" y2="408.57" stroke="#f0a000" stroke-width="1.4" stroke-linecap="round"/>
<line x1="237.55" y1="412.14" x2="235.00" y2="418.21" stroke="#f0a000" stroke-width="1.4" stroke-linecap="round"/>
<line x1="233.26" y1="394.28" x2="230.70" y2="400.36" stroke="#f0a000" stroke-width="1.4" stroke-linecap="round"/>
<line x1="237.15" y1="427.14" x2="241.85" y2="430.00" stroke="#f0a000" stroke-width="1.4" stroke-linecap="round"/>
<line x1="205.99" y1="431.08" x2="213.25" y2="427.86" stroke="#f0a000" stroke-width="1.4" stroke-linecap="round"/>
<line x1="201.69" y1="413.22" x2="208.95" y2="410.00" stroke="#f0a000" stroke-width="1.4" stroke-linecap="round"/>
<line x1="230.70" y1="400.36" x2="235.40" y2="403.21" stroke="#f0a000" stroke-width="1.4" stroke-linecap="round"/>
<line x1="244.80" y1="408.93" x2="249.50" y2="411.78" stroke="#f0a000" stroke-width="1.4" stroke-linecap="round"/>
<line x1="256.75" y1="408.57" x2="261.45" y2="411.43" stroke="#f0a000" stroke-width="1.4" stroke-linecap="round"/>
<line x1="235.40" y1="403.21" x2="232.85" y2="409.29" stroke="#f0a000" stroke-width="1.4" stroke-linecap="round"/>
<line x1="239.70" y1="421.07" x2="246.95" y2="417.86" stroke="#f0a000" stroke-width="1.4" stroke-linecap="round"/>
<line x1="223.45" y1="403.57" x2="220.90" y2="409.64" stroke="#f0a000" stroke-width="1.4" stroke-linecap="round"/>
<line x1="221.30" y1="394.64" x2="228.55" y2="391.43" stroke="#f0a000" stroke-width="1.4" stroke-linecap="round"/>
<line x1="259.30" y1="402.50" x2="256.75" y2="408.57" stroke="#f0a000" stroke-width="1.4" stroke-linecap="round"/>
<line x1="220.90" y1="409.64" x2="225.60" y2="412.50" stroke="#f0a000" stroke-width="1.4" stroke-linecap="round"/>
<line x1="269.11" y1="393.21" x2="266.55" y2="399.28" stroke="#f0a000" stroke-width="1.4" stroke-linecap="round"/>
<line x1="241.85" y1="430.00" x2="249.10" y2="426.78" stroke="#f0a000" stroke-width="1.4" stroke-linecap="round"/>
<line x1="215.80" y1="421.79" x2="213.25" y2="427.86" stroke="#f0a000" stroke-width="1.4" stroke-linecap="round"/>
<line x1="211.50" y1="403.93" x2="208.95" y2="410.00" stroke="#f0a000" stroke-width="1.4" stroke-linecap="round"/>
<line x1="208.95" y1="410.00" x2="213.64" y2="412.86" stroke="#f0a000" stroke-width="1.4" stroke-linecap="round"/>
<line x1="261.45" y1="411.43" x2="258.90" y2="417.50" stroke="#f0a000" stroke-width="1.4" stroke-linecap="round"/>
<line x1="221.30" y1="394.64" x2="218.74" y2="400.72" stroke="#f0a000" stroke-width="1.4" stroke-linecap="round"/>
<line x1="242.65" y1="400.00" x2="247.35" y2="402.86" stroke="#f0a000" stroke-width="1.4" stroke-linecap="round"/>
<line x1="203.85" y1="422.15" x2="201.30" y2="428.22" stroke="#f0a000" stroke-width="1.4" stroke-linecap="round"/>
<line x1="283.21" y1="401.78" x2="280.66" y2="407.85" stroke="#f0a000" stroke-width="1.4" stroke-linecap="round"/>
<circle cx="276.35" cy="389.99" r="2.45" fill="url(#sp1)"/>
<circle cx="264.40" cy="390.35" r="2.45" fill="url(#sp1)"/>
<circle cx="252.45" cy="390.71" r="2.45" fill="url(#sp1)"/>
<circle cx="240.50" cy="391.07" r="2.45" fill="url(#sp1)"/>
<circle cx="228.55" cy="391.43" r="2.45" fill="url(#sp1)"/>
<circle cx="281.06" cy="392.85" r="2.45" fill="url(#sp1)"/>
<circle cx="269.11" cy="393.21" r="2.45" fill="url(#sp1)"/>
<circle cx="257.16" cy="393.57" r="2.45" fill="url(#sp1)"/>
<circle cx="245.21" cy="393.93" r="2.45" fill="url(#sp1)"/>
<circle cx="233.26" cy="394.28" r="2.45" fill="url(#sp1)"/>
<circle cx="221.30" cy="394.64" r="2.45" fill="url(#sp1)"/>
<circle cx="278.50" cy="398.92" r="2.45" fill="url(#sp1)"/>
<circle cx="266.55" cy="399.28" r="2.45" fill="url(#sp1)"/>
<circle cx="254.60" cy="399.64" r="2.45" fill="url(#sp1)"/>
<circle cx="242.65" cy="400.00" r="2.45" fill="url(#sp1)"/>
<circle cx="230.70" cy="400.36" r="2.45" fill="url(#sp1)"/>
<circle cx="218.74" cy="400.72" r="2.45" fill="url(#sp1)"/>
<circle cx="283.21" cy="401.78" r="2.45" fill="url(#sp1)"/>
<circle cx="271.25" cy="402.14" r="2.45" fill="url(#sp1)"/>
<circle cx="259.30" cy="402.50" r="2.45" fill="url(#sp1)"/>
<circle cx="247.35" cy="402.86" r="2.45" fill="url(#sp1)"/>
<circle cx="235.40" cy="403.21" r="2.45" fill="url(#sp1)"/>
<circle cx="223.45" cy="403.57" r="2.45" fill="url(#sp1)"/>
<circle cx="211.50" cy="403.93" r="2.45" fill="url(#sp1)"/>
<circle cx="280.66" cy="407.85" r="2.45" fill="url(#sp1)"/>
<circle cx="268.70" cy="408.21" r="2.45" fill="url(#sp1)"/>
<circle cx="256.75" cy="408.57" r="2.45" fill="url(#sp1)"/>
<circle cx="244.80" cy="408.93" r="2.45" fill="url(#sp1)"/>
<circle cx="232.85" cy="409.29" r="2.45" fill="url(#sp1)"/>
<circle cx="220.90" cy="409.64" r="2.45" fill="url(#sp1)"/>
<circle cx="208.95" cy="410.00" r="2.45" fill="url(#sp1)"/>
<circle cx="273.40" cy="411.07" r="2.45" fill="url(#sp1)"/>
<circle cx="261.45" cy="411.43" r="2.45" fill="url(#sp1)"/>
<circle cx="249.50" cy="411.78" r="2.45" fill="url(#sp1)"/>
<circle cx="237.55" cy="412.14" r="2.45" fill="url(#sp1)"/>
<circle cx="225.60" cy="412.50" r="2.45" fill="url(#sp1)"/>
<circle cx="213.64" cy="412.86" r="2.45" fill="url(#sp1)"/>
<circle cx="201.69" cy="413.22" r="2.45" fill="url(#sp1)"/>
<circle cx="258.90" cy="417.50" r="2.45" fill="url(#sp1)"/>
<circle cx="246.95" cy="417.86" r="2.45" fill="url(#sp1)"/>
<circle cx="235.00" cy="418.21" r="2.45" fill="url(#sp1)"/>
<circle cx="223.05" cy="418.57" r="2.45" fill="url(#sp1)"/>
<circle cx="211.09" cy="418.93" r="2.45" fill="url(#sp1)"/>
<circle cx="199.14" cy="419.29" r="2.45" fill="url(#sp1)"/>
<circle cx="263.60" cy="420.35" r="2.45" fill="url(#sp1)"/>
<circle cx="251.65" cy="420.71" r="2.45" fill="url(#sp1)"/>
<circle cx="239.70" cy="421.07" r="2.45" fill="url(#sp1)"/>
<circle cx="227.75" cy="421.43" r="2.45" fill="url(#sp1)"/>
<circle cx="215.80" cy="421.79" r="2.45" fill="url(#sp1)"/>
<circle cx="203.85" cy="422.15" r="2.45" fill="url(#sp1)"/>
<circle cx="261.05" cy="426.43" r="2.45" fill="url(#sp1)"/>
<circle cx="249.10" cy="426.78" r="2.45" fill="url(#sp1)"/>
<circle cx="237.15" cy="427.14" r="2.45" fill="url(#sp1)"/>
<circle cx="225.20" cy="427.50" r="2.45" fill="url(#sp1)"/>
<circle cx="213.25" cy="427.86" r="2.45" fill="url(#sp1)"/>
<circle cx="201.30" cy="428.22" r="2.45" fill="url(#sp1)"/>
<circle cx="253.80" cy="429.64" r="2.45" fill="url(#sp1)"/>
<circle cx="241.85" cy="430.00" r="2.45" fill="url(#sp1)"/>
<circle cx="229.90" cy="430.36" r="2.45" fill="url(#sp1)"/>
<circle cx="217.95" cy="430.72" r="2.45" fill="url(#sp1)"/>
<circle cx="205.99" cy="431.08" r="2.45" fill="url(#sp1)"/>
<line x1="336.55" y1="351.65" x2="338.30" y2="347.20" stroke="#1f45cc" stroke-width="1.6" stroke-linecap="round"/>
<line x1="336.55" y1="351.65" x2="328.80" y2="353.70" stroke="#1f45cc" stroke-width="1.6" stroke-linecap="round"/>
<line x1="336.55" y1="351.65" x2="347.80" y2="353.70" stroke="#1f45cc" stroke-width="1.6" stroke-linecap="round"/>
<line x1="336.55" y1="351.65" x2="339.20" y2="360.20" stroke="#1f45cc" stroke-width="1.6" stroke-linecap="round"/>
<line x1="346.05" y1="351.65" x2="338.30" y2="347.20" stroke="#1f45cc" stroke-width="1.6" stroke-linecap="round"/>
<line x1="346.05" y1="351.65" x2="356.30" y2="347.20" stroke="#1f45cc" stroke-width="1.6" stroke-linecap="round"/>
<line x1="346.05" y1="351.65" x2="347.80" y2="353.70" stroke="#1f45cc" stroke-width="1.6" stroke-linecap="round"/>
<line x1="346.05" y1="351.65" x2="339.20" y2="360.20" stroke="#1f45cc" stroke-width="1.6" stroke-linecap="round"/>
<line x1="355.05" y1="351.65" x2="356.30" y2="347.20" stroke="#1f45cc" stroke-width="1.6" stroke-linecap="round"/>
<line x1="355.05" y1="351.65" x2="347.80" y2="353.70" stroke="#1f45cc" stroke-width="1.6" stroke-linecap="round"/>
<line x1="355.05" y1="351.65" x2="366.80" y2="353.70" stroke="#1f45cc" stroke-width="1.6" stroke-linecap="round"/>
<line x1="355.05" y1="351.65" x2="358.20" y2="360.20" stroke="#1f45cc" stroke-width="1.6" stroke-linecap="round"/>
<line x1="364.55" y1="351.65" x2="356.30" y2="347.20" stroke="#1f45cc" stroke-width="1.6" stroke-linecap="round"/>
<line x1="364.55" y1="351.65" x2="375.30" y2="347.20" stroke="#1f45cc" stroke-width="1.6" stroke-linecap="round"/>
<line x1="364.55" y1="351.65" x2="366.80" y2="353.70" stroke="#1f45cc" stroke-width="1.6" stroke-linecap="round"/>
<line x1="364.55" y1="351.65" x2="358.20" y2="360.20" stroke="#1f45cc" stroke-width="1.6" stroke-linecap="round"/>
<line x1="374.05" y1="351.65" x2="375.30" y2="347.20" stroke="#1f45cc" stroke-width="1.6" stroke-linecap="round"/>
<line x1="374.05" y1="351.65" x2="366.80" y2="353.70" stroke="#1f45cc" stroke-width="1.6" stroke-linecap="round"/>
<line x1="374.05" y1="351.65" x2="385.70" y2="353.70" stroke="#1f45cc" stroke-width="1.6" stroke-linecap="round"/>
<line x1="374.05" y1="351.65" x2="377.20" y2="360.20" stroke="#1f45cc" stroke-width="1.6" stroke-linecap="round"/>
<line x1="383.50" y1="351.65" x2="375.30" y2="347.20" stroke="#1f45cc" stroke-width="1.6" stroke-linecap="round"/>
<line x1="383.50" y1="351.65" x2="394.30" y2="347.20" stroke="#1f45cc" stroke-width="1.6" stroke-linecap="round"/>
<line x1="383.50" y1="351.65" x2="385.70" y2="353.70" stroke="#1f45cc" stroke-width="1.6" stroke-linecap="round"/>
<line x1="383.50" y1="351.65" x2="377.20" y2="360.20" stroke="#1f45cc" stroke-width="1.6" stroke-linecap="round"/>
<line x1="393.00" y1="351.65" x2="394.30" y2="347.20" stroke="#1f45cc" stroke-width="1.6" stroke-linecap="round"/>
<line x1="393.00" y1="351.65" x2="385.70" y2="353.70" stroke="#1f45cc" stroke-width="1.6" stroke-linecap="round"/>
<line x1="393.00" y1="351.65" x2="404.70" y2="353.70" stroke="#1f45cc" stroke-width="1.6" stroke-linecap="round"/>
<line x1="393.00" y1="351.65" x2="396.20" y2="360.20" stroke="#1f45cc" stroke-width="1.6" stroke-linecap="round"/>
<line x1="402.50" y1="351.65" x2="394.30" y2="347.20" stroke="#1f45cc" stroke-width="1.6" stroke-linecap="round"/>
<line x1="402.50" y1="351.65" x2="412.30" y2="347.20" stroke="#1f45cc" stroke-width="1.6" stroke-linecap="round"/>
<line x1="402.50" y1="351.65" x2="404.70" y2="353.70" stroke="#1f45cc" stroke-width="1.6" stroke-linecap="round"/>
<line x1="402.50" y1="351.65" x2="396.20" y2="360.20" stroke="#1f45cc" stroke-width="1.6" stroke-linecap="round"/>
<line x1="411.50" y1="351.65" x2="412.30" y2="347.20" stroke="#1f45cc" stroke-width="1.6" stroke-linecap="round"/>
<line x1="411.50" y1="351.65" x2="404.70" y2="353.70" stroke="#1f45cc" stroke-width="1.6" stroke-linecap="round"/>
<line x1="411.50" y1="351.65" x2="423.70" y2="353.70" stroke="#1f45cc" stroke-width="1.6" stroke-linecap="round"/>
<line x1="411.50" y1="351.65" x2="416.00" y2="360.20" stroke="#1f45cc" stroke-width="1.6" stroke-linecap="round"/>
<line x1="421.00" y1="351.65" x2="412.30" y2="347.20" stroke="#1f45cc" stroke-width="1.6" stroke-linecap="round"/>
<line x1="421.00" y1="351.65" x2="431.30" y2="347.20" stroke="#1f45cc" stroke-width="1.6" stroke-linecap="round"/>
<line x1="421.00" y1="351.65" x2="423.70" y2="353.70" stroke="#1f45cc" stroke-width="1.6" stroke-linecap="round"/>
<line x1="421.00" y1="351.65" x2="416.00" y2="360.20" stroke="#1f45cc" stroke-width="1.6" stroke-linecap="round"/>
<line x1="430.50" y1="351.65" x2="431.30" y2="347.20" stroke="#1f45cc" stroke-width="1.6" stroke-linecap="round"/>
<line x1="430.50" y1="351.65" x2="423.70" y2="353.70" stroke="#1f45cc" stroke-width="1.6" stroke-linecap="round"/>
<line x1="430.50" y1="351.65" x2="442.70" y2="353.70" stroke="#1f45cc" stroke-width="1.6" stroke-linecap="round"/>
<line x1="430.50" y1="351.65" x2="435.00" y2="360.20" stroke="#1f45cc" stroke-width="1.6" stroke-linecap="round"/>
<line x1="440.00" y1="351.65" x2="431.30" y2="347.20" stroke="#1f45cc" stroke-width="1.6" stroke-linecap="round"/>
<line x1="440.00" y1="351.65" x2="442.70" y2="353.70" stroke="#1f45cc" stroke-width="1.6" stroke-linecap="round"/>
<line x1="440.00" y1="351.65" x2="435.00" y2="360.20" stroke="#1f45cc" stroke-width="1.6" stroke-linecap="round"/>
<line x1="337.00" y1="358.15" x2="338.30" y2="347.20" stroke="#1f45cc" stroke-width="1.6" stroke-linecap="round"/>
<line x1="337.00" y1="358.15" x2="328.80" y2="353.70" stroke="#1f45cc" stroke-width="1.6" stroke-linecap="round"/>
<line x1="337.00" y1="358.15" x2="347.80" y2="353.70" stroke="#1f45cc" stroke-width="1.6" stroke-linecap="round"/>
<line x1="337.00" y1="358.15" x2="339.20" y2="360.20" stroke="#1f45cc" stroke-width="1.6" stroke-linecap="round"/>
<line x1="337.00" y1="358.15" x2="329.70" y2="367.50" stroke="#1f45cc" stroke-width="1.6" stroke-linecap="round"/>
<line x1="346.50" y1="358.15" x2="347.80" y2="353.70" stroke="#1f45cc" stroke-width="1.6" stroke-linecap="round"/>
<line x1="346.50" y1="358.15" x2="339.20" y2="360.20" stroke="#1f45cc" stroke-width="1.6" stroke-linecap="round"/>
<line x1="346.50" y1="358.15" x2="358.20" y2="360.20" stroke="#1f45cc" stroke-width="1.6" stroke-linecap="round"/>
<line x1="346.50" y1="358.15" x2="348.70" y2="367.50" stroke="#1f45cc" stroke-width="1.6" stroke-linecap="round"/>
<line x1="356.00" y1="358.15" x2="356.30" y2="347.20" stroke="#1f45cc" stroke-width="1.6" stroke-linecap="round"/>
<line x1="356.00" y1="358.15" x2="347.80" y2="353.70" stroke="#1f45cc" stroke-width="1.6" stroke-linecap="round"/>
<line x1="356.00" y1="358.15" x2="366.80" y2="353.70" stroke="#1f45cc" stroke-width="1.6" stroke-linecap="round"/>
<line x1="356.00" y1="358.15" x2="358.20" y2="360.20" stroke="#1f45cc" stroke-width="1.6" stroke-linecap="round"/>
<line x1="356.00" y1="358.15" x2="348.70" y2="367.50" stroke="#1f45cc" stroke-width="1.6" stroke-linecap="round"/>
<line x1="365.50" y1="358.15" x2="366.80" y2="353.70" stroke="#1f45cc" stroke-width="1.6" stroke-linecap="round"/>
<line x1="365.50" y1="358.15" x2="358.20" y2="360.20" stroke="#1f45cc" stroke-width="1.6" stroke-linecap="round"/>
<line x1="365.50" y1="358.15" x2="377.20" y2="360.20" stroke="#1f45cc" stroke-width="1.6" stroke-linecap="round"/>
<line x1="365.50" y1="358.15" x2="368.70" y2="367.50" stroke="#1f45cc" stroke-width="1.6" stroke-linecap="round"/>
<line x1="375.00" y1="358.15" x2="375.30" y2="347.20" stroke="#1f45cc" stroke-width="1.6" stroke-linecap="round"/>
<line x1="375.00" y1="358.15" x2="366.80" y2="353.70" stroke="#1f45cc" stroke-width="1.6" stroke-linecap="round"/>
<line x1="375.00" y1="358.15" x2="385.70" y2="353.70" stroke="#1f45cc" stroke-width="1.6" stroke-linecap="round"/>
<line x1="375.00" y1="358.15" x2="377.20" y2="360.20" stroke="#1f45cc" stroke-width="1.6" stroke-linecap="round"/>
<line x1="375.00" y1="358.15" x2="368.70" y2="367.50" stroke="#1f45cc" stroke-width="1.6" stroke-linecap="round"/>
<line x1="384.45" y1="358.15" x2="385.70" y2="353.70" stroke="#1f45cc" stroke-width="1.6" stroke-linecap="round"/>
<line x1="384.45" y1="358.15" x2="377.20" y2="360.20" stroke="#1f45cc" stroke-width="1.6" stroke-linecap="round"/>
<line x1="384.45" y1="358.15" x2="396.20" y2="360.20" stroke="#1f45cc" stroke-width="1.6" stroke-linecap="round"/>
<line x1="384.45" y1="358.15" x2="388.60" y2="367.50" stroke="#1f45cc" stroke-width="1.6" stroke-linecap="round"/>
<line x1="393.95" y1="358.15" x2="394.30" y2="347.20" stroke="#1f45cc" stroke-width="1.6" stroke-linecap="round"/>
<line x1="393.95" y1="358.15" x2="385.70" y2="353.70" stroke="#1f45cc" stroke-width="1.6" stroke-linecap="round"/>
<line x1="393.95" y1="358.15" x2="404.70" y2="353.70" stroke="#1f45cc" stroke-width="1.6" stroke-linecap="round"/>
<line x1="393.95" y1="358.15" x2="396.20" y2="360.20" stroke="#1f45cc" stroke-width="1.6" stroke-linecap="round"/>
<line x1="393.95" y1="358.15" x2="388.60" y2="367.50" stroke="#1f45cc" stroke-width="1.6" stroke-linecap="round"/>
<line x1="403.45" y1="358.15" x2="404.70" y2="353.70" stroke="#1f45cc" stroke-width="1.6" stroke-linecap="round"/>
<line x1="403.45" y1="358.15" x2="396.20" y2="360.20" stroke="#1f45cc" stroke-width="1.6" stroke-linecap="round"/>
<line x1="403.45" y1="358.15" x2="416.00" y2="360.20" stroke="#1f45cc" stroke-width="1.6" stroke-linecap="round"/>
<line x1="403.45" y1="358.15" x2="408.50" y2="367.50" stroke="#1f45cc" stroke-width="1.6" stroke-linecap="round"/>
<line x1="413.35" y1="358.15" x2="412.30" y2="347.20" stroke="#1f45cc" stroke-width="1.6" stroke-linecap="round"/>
<line x1="413.35" y1="358.15" x2="404.70" y2="353.70" stroke="#1f45cc" stroke-width="1.6" stroke-linecap="round"/>
<line x1="413.35" y1="358.15" x2="423.70" y2="353.70" stroke="#1f45cc" stroke-width="1.6" stroke-linecap="round"/>
<line x1="413.35" y1="358.15" x2="416.00" y2="360.20" stroke="#1f45cc" stroke-width="1.6" stroke-linecap="round"/>
<line x1="413.35" y1="358.15" x2="408.50" y2="367.50" stroke="#1f45cc" stroke-width="1.6" stroke-linecap="round"/>
<line x1="422.85" y1="358.15" x2="423.70" y2="353.70" stroke="#1f45cc" stroke-width="1.6" stroke-linecap="round"/>
<line x1="422.85" y1="358.15" x2="416.00" y2="360.20" stroke="#1f45cc" stroke-width="1.6" stroke-linecap="round"/>
<line x1="422.85" y1="358.15" x2="435.00" y2="360.20" stroke="#1f45cc" stroke-width="1.6" stroke-linecap="round"/>
<line x1="422.85" y1="358.15" x2="427.50" y2="367.50" stroke="#1f45cc" stroke-width="1.6" stroke-linecap="round"/>
<line x1="432.35" y1="358.15" x2="431.30" y2="347.20" stroke="#1f45cc" stroke-width="1.6" stroke-linecap="round"/>
<line x1="432.35" y1="358.15" x2="423.70" y2="353.70" stroke="#1f45cc" stroke-width="1.6" stroke-linecap="round"/>
<line x1="432.35" y1="358.15" x2="442.70" y2="353.70" stroke="#1f45cc" stroke-width="1.6" stroke-linecap="round"/>
<line x1="432.35" y1="358.15" x2="435.00" y2="360.20" stroke="#1f45cc" stroke-width="1.6" stroke-linecap="round"/>
<line x1="432.35" y1="358.15" x2="427.50" y2="367.50" stroke="#1f45cc" stroke-width="1.6" stroke-linecap="round"/>
<line x1="441.85" y1="358.15" x2="442.70" y2="353.70" stroke="#1f45cc" stroke-width="1.6" stroke-linecap="round"/>
<line x1="441.85" y1="358.15" x2="435.00" y2="360.20" stroke="#1f45cc" stroke-width="1.6" stroke-linecap="round"/>
<line x1="441.85" y1="358.15" x2="447.40" y2="367.50" stroke="#1f45cc" stroke-width="1.6" stroke-linecap="round"/>
<line x1="337.45" y1="365.05" x2="339.20" y2="360.20" stroke="#1f45cc" stroke-width="1.6" stroke-linecap="round"/>
<line x1="337.45" y1="365.05" x2="329.70" y2="367.50" stroke="#1f45cc" stroke-width="1.6" stroke-linecap="round"/>
<line x1="337.45" y1="365.05" x2="348.70" y2="367.50" stroke="#1f45cc" stroke-width="1.6" stroke-linecap="round"/>
<line x1="337.45" y1="365.05" x2="340.20" y2="375.10" stroke="#1f45cc" stroke-width="1.6" stroke-linecap="round"/>
<line x1="346.95" y1="365.05" x2="347.80" y2="353.70" stroke="#1f45cc" stroke-width="1.6" stroke-linecap="round"/>
<line x1="346.95" y1="365.05" x2="339.20" y2="360.20" stroke="#1f45cc" stroke-width="1.6" stroke-linecap="round"/>
<line x1="346.95" y1="365.05" x2="358.20" y2="360.20" stroke="#1f45cc" stroke-width="1.6" stroke-linecap="round"/>
<line x1="346.95" y1="365.05" x2="348.70" y2="367.50" stroke="#1f45cc" stroke-width="1.6" stroke-linecap="round"/>
<line x1="346.95" y1="365.05" x2="340.20" y2="375.10" stroke="#1f45cc" stroke-width="1.6" stroke-linecap="round"/>
<line x1="356.45" y1="365.05" x2="358.20" y2="360.20" stroke="#1f45cc" stroke-width="1.6" stroke-linecap="round"/>
<line x1="356.45" y1="365.05" x2="348.70" y2="367.50" stroke="#1f45cc" stroke-width="1.6" stroke-linecap="round"/>
<line x1="356.45" y1="365.05" x2="368.70" y2="367.50" stroke="#1f45cc" stroke-width="1.6" stroke-linecap="round"/>
<line x1="356.45" y1="365.05" x2="359.20" y2="375.10" stroke="#1f45cc" stroke-width="1.6" stroke-linecap="round"/>
<line x1="366.45" y1="365.05" x2="366.80" y2="353.70" stroke="#1f45cc" stroke-width="1.6" stroke-linecap="round"/>
<line x1="366.45" y1="365.05" x2="358.20" y2="360.20" stroke="#1f45cc" stroke-width="1.6" stroke-linecap="round"/>
<line x1="366.45" y1="365.05" x2="377.20" y2="360.20" stroke="#1f45cc" stroke-width="1.6" stroke-linecap="round"/>
<line x1="366.45" y1="365.05" x2="368.70" y2="367.50" stroke="#1f45cc" stroke-width="1.6" stroke-linecap="round"/>
<line x1="366.45" y1="365.05" x2="359.20" y2="375.10" stroke="#1f45cc" stroke-width="1.6" stroke-linecap="round"/>
<line x1="375.95" y1="365.05" x2="377.20" y2="360.20" stroke="#1f45cc" stroke-width="1.6" stroke-linecap="round"/>
<line x1="375.95" y1="365.05" x2="368.70" y2="367.50" stroke="#1f45cc" stroke-width="1.6" stroke-linecap="round"/>
<line x1="375.95" y1="365.05" x2="388.60" y2="367.50" stroke="#1f45cc" stroke-width="1.6" stroke-linecap="round"/>
<line x1="375.95" y1="365.05" x2="379.00" y2="375.10" stroke="#1f45cc" stroke-width="1.6" stroke-linecap="round"/>
<line x1="385.90" y1="365.05" x2="385.70" y2="353.70" stroke="#1f45cc" stroke-width="1.6" stroke-linecap="round"/>
<line x1="385.90" y1="365.05" x2="377.20" y2="360.20" stroke="#1f45cc" stroke-width="1.6" stroke-linecap="round"/>
<line x1="385.90" y1="365.05" x2="396.20" y2="360.20" stroke="#1f45cc" stroke-width="1.6" stroke-linecap="round"/>
<line x1="385.90" y1="365.05" x2="388.60" y2="367.50" stroke="#1f45cc" stroke-width="1.6" stroke-linecap="round"/>
<line x1="385.90" y1="365.05" x2="379.00" y2="375.10" stroke="#1f45cc" stroke-width="1.6" stroke-linecap="round"/>
<line x1="395.40" y1="365.05" x2="396.20" y2="360.20" stroke="#1f45cc" stroke-width="1.6" stroke-linecap="round"/>
<line x1="395.40" y1="365.05" x2="388.60" y2="367.50" stroke="#1f45cc" stroke-width="1.6" stroke-linecap="round"/>
<line x1="395.40" y1="365.05" x2="408.50" y2="367.50" stroke="#1f45cc" stroke-width="1.6" stroke-linecap="round"/>
<line x1="395.40" y1="365.05" x2="399.00" y2="375.10" stroke="#1f45cc" stroke-width="1.6" stroke-linecap="round"/>
<line x1="415.25" y1="365.05" x2="416.00" y2="360.20" stroke="#1f45cc" stroke-width="1.6" stroke-linecap="round"/>
<line x1="415.25" y1="365.05" x2="408.50" y2="367.50" stroke="#1f45cc" stroke-width="1.6" stroke-linecap="round"/>
<line x1="415.25" y1="365.05" x2="427.50" y2="367.50" stroke="#1f45cc" stroke-width="1.6" stroke-linecap="round"/>
<line x1="415.25" y1="365.05" x2="419.00" y2="375.10" stroke="#1f45cc" stroke-width="1.6" stroke-linecap="round"/>
<line x1="424.75" y1="365.05" x2="423.70" y2="353.70" stroke="#1f45cc" stroke-width="1.6" stroke-linecap="round"/>
<line x1="424.75" y1="365.05" x2="416.00" y2="360.20" stroke="#1f45cc" stroke-width="1.6" stroke-linecap="round"/>
<line x1="424.75" y1="365.05" x2="435.00" y2="360.20" stroke="#1f45cc" stroke-width="1.6" stroke-linecap="round"/>
<line x1="424.75" y1="365.05" x2="427.50" y2="367.50" stroke="#1f45cc" stroke-width="1.6" stroke-linecap="round"/>
<line x1="424.75" y1="365.05" x2="419.00" y2="375.10" stroke="#1f45cc" stroke-width="1.6" stroke-linecap="round"/>
<line x1="434.25" y1="365.05" x2="435.00" y2="360.20" stroke="#1f45cc" stroke-width="1.6" stroke-linecap="round"/>
<line x1="434.25" y1="365.05" x2="427.50" y2="367.50" stroke="#1f45cc" stroke-width="1.6" stroke-linecap="round"/>
<line x1="434.25" y1="365.05" x2="447.40" y2="367.50" stroke="#1f45cc" stroke-width="1.6" stroke-linecap="round"/>
<line x1="434.25" y1="365.05" x2="438.90" y2="375.10" stroke="#1f45cc" stroke-width="1.6" stroke-linecap="round"/>
<line x1="337.95" y1="372.50" x2="339.20" y2="360.20" stroke="#1f45cc" stroke-width="1.6" stroke-linecap="round"/>
<line x1="337.95" y1="372.50" x2="329.70" y2="367.50" stroke="#1f45cc" stroke-width="1.6" stroke-linecap="round"/>
<line x1="337.95" y1="372.50" x2="348.70" y2="367.50" stroke="#1f45cc" stroke-width="1.6" stroke-linecap="round"/>
<line x1="337.95" y1="372.50" x2="340.20" y2="375.10" stroke="#1f45cc" stroke-width="1.6" stroke-linecap="round"/>
<line x1="337.95" y1="372.50" x2="331.00" y2="382.70" stroke="#1f45cc" stroke-width="1.6" stroke-linecap="round"/>
<line x1="347.45" y1="372.50" x2="348.70" y2="367.50" stroke="#1f45cc" stroke-width="1.6" stroke-linecap="round"/>
<line x1="347.45" y1="372.50" x2="340.20" y2="375.10" stroke="#1f45cc" stroke-width="1.6" stroke-linecap="round"/>
<line x1="347.45" y1="372.50" x2="359.20" y2="375.10" stroke="#1f45cc" stroke-width="1.6" stroke-linecap="round"/>
<line x1="347.45" y1="372.50" x2="350.60" y2="382.70" stroke="#1f45cc" stroke-width="1.6" stroke-linecap="round"/>
<line x1="356.95" y1="372.50" x2="358.20" y2="360.20" stroke="#1f45cc" stroke-width="1.6" stroke-linecap="round"/>
<line x1="356.95" y1="372.50" x2="348.70" y2="367.50" stroke="#1f45cc" stroke-width="1.6" stroke-linecap="round"/>
<line x1="356.95" y1="372.50" x2="368.70" y2="367.50" stroke="#1f45cc" stroke-width="1.6" stroke-linecap="round"/>
<line x1="356.95" y1="372.50" x2="359.20" y2="375.10" stroke="#1f45cc" stroke-width="1.6" stroke-linecap="round"/>
<line x1="356.95" y1="372.50" x2="350.60" y2="382.70" stroke="#1f45cc" stroke-width="1.6" stroke-linecap="round"/>
<line x1="366.95" y1="372.50" x2="368.70" y2="367.50" stroke="#1f45cc" stroke-width="1.6" stroke-linecap="round"/>
<line x1="366.95" y1="372.50" x2="359.20" y2="375.10" stroke="#1f45cc" stroke-width="1.6" stroke-linecap="round"/>
<line x1="366.95" y1="372.50" x2="379.00" y2="375.10" stroke="#1f45cc" stroke-width="1.6" stroke-linecap="round"/>
<line x1="366.95" y1="372.50" x2="370.50" y2="382.70" stroke="#1f45cc" stroke-width="1.6" stroke-linecap="round"/>
<line x1="376.85" y1="372.50" x2="377.20" y2="360.20" stroke="#1f45cc" stroke-width="1.6" stroke-linecap="round"/>
<line x1="376.85" y1="372.50" x2="368.70" y2="367.50" stroke="#1f45cc" stroke-width="1.6" stroke-linecap="round"/>
<line x1="376.85" y1="372.50" x2="388.60" y2="367.50" stroke="#1f45cc" stroke-width="1.6" stroke-linecap="round"/>
<line x1="376.85" y1="372.50" x2="379.00" y2="375.10" stroke="#1f45cc" stroke-width="1.6" stroke-linecap="round"/>
<line x1="376.85" y1="372.50" x2="370.50" y2="382.70" stroke="#1f45cc" stroke-width="1.6" stroke-linecap="round"/>
<line x1="386.80" y1="372.50" x2="388.60" y2="367.50" stroke="#1f45cc" stroke-width="1.6" stroke-linecap="round"/>
<line x1="386.80" y1="372.50" x2="379.00" y2="375.10" stroke="#1f45cc" stroke-width="1.6" stroke-linecap="round"/>
<line x1="386.80" y1="372.50" x2="399.00" y2="375.10" stroke="#1f45cc" stroke-width="1.6" stroke-linecap="round"/>
<line x1="386.80" y1="372.50" x2="390.50" y2="382.70" stroke="#1f45cc" stroke-width="1.6" stroke-linecap="round"/>
<line x1="396.80" y1="372.50" x2="396.20" y2="360.20" stroke="#1f45cc" stroke-width="1.6" stroke-linecap="round"/>
<line x1="396.80" y1="372.50" x2="388.60" y2="367.50" stroke="#1f45cc" stroke-width="1.6" stroke-linecap="round"/>
<line x1="396.80" y1="372.50" x2="408.50" y2="367.50" stroke="#1f45cc" stroke-width="1.6" stroke-linecap="round"/>
<line x1="396.80" y1="372.50" x2="399.00" y2="375.10" stroke="#1f45cc" stroke-width="1.6" stroke-linecap="round"/>
<line x1="396.80" y1="372.50" x2="390.50" y2="382.70" stroke="#1f45cc" stroke-width="1.6" stroke-linecap="round"/>
<line x1="406.75" y1="372.50" x2="408.50" y2="367.50" stroke="#1f45cc" stroke-width="1.6" stroke-linecap="round"/>
<line x1="406.75" y1="372.50" x2="399.00" y2="375.10" stroke="#1f45cc" stroke-width="1.6" stroke-linecap="round"/>
<line x1="406.75" y1="372.50" x2="419.00" y2="375.10" stroke="#1f45cc" stroke-width="1.6" stroke-linecap="round"/>
<line x1="406.75" y1="372.50" x2="410.40" y2="382.70" stroke="#1f45cc" stroke-width="1.6" stroke-linecap="round"/>
<line x1="416.75" y1="372.50" x2="416.00" y2="360.20" stroke="#1f45cc" stroke-width="1.6" stroke-linecap="round"/>
<line x1="416.75" y1="372.50" x2="408.50" y2="367.50" stroke="#1f45cc" stroke-width="1.6" stroke-linecap="round"/>
<line x1="416.75" y1="372.50" x2="427.50" y2="367.50" stroke="#1f45cc" stroke-width="1.6" stroke-linecap="round"/>
<line x1="416.75" y1="372.50" x2="419.00" y2="375.10" stroke="#1f45cc" stroke-width="1.6" stroke-linecap="round"/>
<line x1="416.75" y1="372.50" x2="410.40" y2="382.70" stroke="#1f45cc" stroke-width="1.6" stroke-linecap="round"/>
<line x1="426.25" y1="372.50" x2="427.50" y2="367.50" stroke="#1f45cc" stroke-width="1.6" stroke-linecap="round"/>
<line x1="426.25" y1="372.50" x2="419.00" y2="375.10" stroke="#1f45cc" stroke-width="1.6" stroke-linecap="round"/>
<line x1="426.25" y1="372.50" x2="438.90" y2="375.10" stroke="#1f45cc" stroke-width="1.6" stroke-linecap="round"/>
<line x1="426.25" y1="372.50" x2="430.30" y2="382.70" stroke="#1f45cc" stroke-width="1.6" stroke-linecap="round"/>
<line x1="436.20" y1="372.50" x2="435.00" y2="360.20" stroke="#1f45cc" stroke-width="1.6" stroke-linecap="round"/>
<line x1="436.20" y1="372.50" x2="427.50" y2="367.50" stroke="#1f45cc" stroke-width="1.6" stroke-linecap="round"/>
<line x1="436.20" y1="372.50" x2="447.40" y2="367.50" stroke="#1f45cc" stroke-width="1.6" stroke-linecap="round"/>
<line x1="436.20" y1="372.50" x2="438.90" y2="375.10" stroke="#1f45cc" stroke-width="1.6" stroke-linecap="round"/>
<line x1="436.20" y1="372.50" x2="430.30" y2="382.70" stroke="#1f45cc" stroke-width="1.6" stroke-linecap="round"/>
<line x1="446.15" y1="372.50" x2="447.40" y2="367.50" stroke="#1f45cc" stroke-width="1.6" stroke-linecap="round"/>
<line x1="446.15" y1="372.50" x2="438.90" y2="375.10" stroke="#1f45cc" stroke-width="1.6" stroke-linecap="round"/>
<line x1="338.60" y1="380.10" x2="340.20" y2="375.10" stroke="#1f45cc" stroke-width="1.6" stroke-linecap="round"/>
<line x1="338.60" y1="380.10" x2="331.00" y2="382.70" stroke="#1f45cc" stroke-width="1.6" stroke-linecap="round"/>
<line x1="338.60" y1="380.10" x2="350.60" y2="382.70" stroke="#1f45cc" stroke-width="1.6" stroke-linecap="round"/>
<line x1="348.40" y1="380.10" x2="348.70" y2="367.50" stroke="#1f45cc" stroke-width="1.6" stroke-linecap="round"/>
<line x1="348.40" y1="380.10" x2="340.20" y2="375.10" stroke="#1f45cc" stroke-width="1.6" stroke-linecap="round"/>
<line x1="348.40" y1="380.10" x2="359.20" y2="375.10" stroke="#1f45cc" stroke-width="1.6" stroke-linecap="round"/>
<line x1="348.40" y1="380.10" x2="350.60" y2="382.70" stroke="#1f45cc" stroke-width="1.6" stroke-linecap="round"/>
<line x1="357.90" y1="380.10" x2="359.20" y2="375.10" stroke="#1f45cc" stroke-width="1.6" stroke-linecap="round"/>
<line x1="357.90" y1="380.10" x2="350.60" y2="382.70" stroke="#1f45cc" stroke-width="1.6" stroke-linecap="round"/>
<line x1="357.90" y1="380.10" x2="370.50" y2="382.70" stroke="#1f45cc" stroke-width="1.6" stroke-linecap="round"/>
<line x1="357.90" y1="380.10" x2="362.00" y2="390.90" stroke="#1f45cc" stroke-width="1.6" stroke-linecap="round"/>
<line x1="367.85" y1="380.10" x2="368.70" y2="367.50" stroke="#1f45cc" stroke-width="1.6" stroke-linecap="round"/>
<line x1="367.85" y1="380.10" x2="359.20" y2="375.10" stroke="#1f45cc" stroke-width="1.6" stroke-linecap="round"/>
<line x1="367.85" y1="380.10" x2="379.00" y2="375.10" stroke="#1f45cc" stroke-width="1.6" stroke-linecap="round"/>
<line x1="367.85" y1="380.10" x2="370.50" y2="382.70" stroke="#1f45cc" stroke-width="1.6" stroke-linecap="round"/>
<line x1="367.85" y1="380.10" x2="362.00" y2="390.90" stroke="#1f45cc" stroke-width="1.6" stroke-linecap="round"/>
<line x1="377.75" y1="380.10" x2="379.00" y2="375.10" stroke="#1f45cc" stroke-width="1.6" stroke-linecap="round"/>
<line x1="377.75" y1="380.10" x2="370.50" y2="382.70" stroke="#1f45cc" stroke-width="1.6" stroke-linecap="round"/>
<line x1="377.75" y1="380.10" x2="390.50" y2="382.70" stroke="#1f45cc" stroke-width="1.6" stroke-linecap="round"/>
<line x1="377.75" y1="380.10" x2="382.90" y2="390.90" stroke="#1f45cc" stroke-width="1.6" stroke-linecap="round"/>
<line x1="387.75" y1="380.10" x2="388.60" y2="367.50" stroke="#1f45cc" stroke-width="1.6" stroke-linecap="round"/>
<line x1="387.75" y1="380.10" x2="379.00" y2="375.10" stroke="#1f45cc" stroke-width="1.6" stroke-linecap="round"/>
<line x1="387.75" y1="380.10" x2="399.00" y2="375.10" stroke="#1f45cc" stroke-width="1.6" stroke-linecap="round"/>
<line x1="387.75" y1="380.10" x2="390.50" y2="382.70" stroke="#1f45cc" stroke-width="1.6" stroke-linecap="round"/>
<line x1="387.75" y1="380.10" x2="382.90" y2="390.90" stroke="#1f45cc" stroke-width="1.6" stroke-linecap="round"/>
<line x1="397.75" y1="380.10" x2="399.00" y2="375.10" stroke="#1f45cc" stroke-width="1.6" stroke-linecap="round"/>
<line x1="397.75" y1="380.10" x2="390.50" y2="382.70" stroke="#1f45cc" stroke-width="1.6" stroke-linecap="round"/>
<line x1="397.75" y1="380.10" x2="410.40" y2="382.70" stroke="#1f45cc" stroke-width="1.6" stroke-linecap="round"/>
<line x1="397.75" y1="380.10" x2="402.80" y2="390.90" stroke="#1f45cc" stroke-width="1.6" stroke-linecap="round"/>
<line x1="407.70" y1="380.10" x2="408.50" y2="367.50" stroke="#1f45cc" stroke-width="1.6" stroke-linecap="round"/>
<line x1="407.70" y1="380.10" x2="399.00" y2="375.10" stroke="#1f45cc" stroke-width="1.6" stroke-linecap="round"/>
<line x1="407.70" y1="380.10" x2="419.00" y2="375.10" stroke="#1f45cc" stroke-width="1.6" stroke-linecap="round"/>
<line x1="407.70" y1="380.10" x2="410.40" y2="382.70" stroke="#1f45cc" stroke-width="1.6" stroke-linecap="round"/>
<line x1="407.70" y1="380.10" x2="402.80" y2="390.90" stroke="#1f45cc" stroke-width="1.6" stroke-linecap="round"/>
<line x1="417.70" y1="380.10" x2="419.00" y2="375.10" stroke="#1f45cc" stroke-width="1.6" stroke-linecap="round"/>
<line x1="417.70" y1="380.10" x2="410.40" y2="382.70" stroke="#1f45cc" stroke-width="1.6" stroke-linecap="round"/>
<line x1="417.70" y1="380.10" x2="430.30" y2="382.70" stroke="#1f45cc" stroke-width="1.6" stroke-linecap="round"/>
<line x1="417.70" y1="380.10" x2="422.70" y2="390.90" stroke="#1f45cc" stroke-width="1.6" stroke-linecap="round"/>
<line x1="427.65" y1="380.10" x2="427.50" y2="367.50" stroke="#1f45cc" stroke-width="1.6" stroke-linecap="round"/>
<line x1="427.65" y1="380.10" x2="419.00" y2="375.10" stroke="#1f45cc" stroke-width="1.6" stroke-linecap="round"/>
<line x1="427.65" y1="380.10" x2="438.90" y2="375.10" stroke="#1f45cc" stroke-width="1.6" stroke-linecap="round"/>
<line x1="427.65" y1="380.10" x2="430.30" y2="382.70" stroke="#1f45cc" stroke-width="1.6" stroke-linecap="round"/>
<line x1="427.65" y1="380.10" x2="422.70" y2="390.90" stroke="#1f45cc" stroke-width="1.6" stroke-linecap="round"/>
<line x1="437.60" y1="380.10" x2="438.90" y2="375.10" stroke="#1f45cc" stroke-width="1.6" stroke-linecap="round"/>
<line x1="437.60" y1="380.10" x2="430.30" y2="382.70" stroke="#1f45cc" stroke-width="1.6" stroke-linecap="round"/>
<line x1="359.30" y1="388.00" x2="359.20" y2="375.10" stroke="#1f45cc" stroke-width="1.6" stroke-linecap="round"/>
<line x1="359.30" y1="388.00" x2="350.60" y2="382.70" stroke="#1f45cc" stroke-width="1.6" stroke-linecap="round"/>
<line x1="359.30" y1="388.00" x2="370.50" y2="382.70" stroke="#1f45cc" stroke-width="1.6" stroke-linecap="round"/>
<line x1="359.30" y1="388.00" x2="362.00" y2="390.90" stroke="#1f45cc" stroke-width="1.6" stroke-linecap="round"/>
<line x1="369.25" y1="388.00" x2="370.50" y2="382.70" stroke="#1f45cc" stroke-width="1.6" stroke-linecap="round"/>
<line x1="369.25" y1="388.00" x2="362.00" y2="390.90" stroke="#1f45cc" stroke-width="1.6" stroke-linecap="round"/>
<line x1="389.70" y1="388.00" x2="390.50" y2="382.70" stroke="#1f45cc" stroke-width="1.6" stroke-linecap="round"/>
<line x1="389.70" y1="388.00" x2="382.90" y2="390.90" stroke="#1f45cc" stroke-width="1.6" stroke-linecap="round"/>
<line x1="389.70" y1="388.00" x2="402.80" y2="390.90" stroke="#1f45cc" stroke-width="1.6" stroke-linecap="round"/>
<line x1="409.60" y1="388.00" x2="410.40" y2="382.70" stroke="#1f45cc" stroke-width="1.6" stroke-linecap="round"/>
<line x1="409.60" y1="388.00" x2="402.80" y2="390.90" stroke="#1f45cc" stroke-width="1.6" stroke-linecap="round"/>
<line x1="409.60" y1="388.00" x2="422.70" y2="390.90" stroke="#1f45cc" stroke-width="1.6" stroke-linecap="round"/>
<line x1="429.50" y1="388.00" x2="430.30" y2="382.70" stroke="#1f45cc" stroke-width="1.6" stroke-linecap="round"/>
<line x1="429.50" y1="388.00" x2="422.70" y2="390.90" stroke="#1f45cc" stroke-width="1.6" stroke-linecap="round"/>
<circle cx="336.55" cy="351.65" r="2.4" fill="url(#sp2)"/>
<circle cx="346.05" cy="351.65" r="2.4" fill="url(#sp2)"/>
<circle cx="355.05" cy="351.65" r="2.4" fill="url(#sp2)"/>
<circle cx="364.55" cy="351.65" r="2.4" fill="url(#sp2)"/>
<circle cx="374.05" cy="351.65" r="2.4" fill="url(#sp2)"/>
<circle cx="383.50" cy="351.65" r="2.4" fill="url(#sp2)"/>
<circle cx="393.00" cy="351.65" r="2.4" fill="url(#sp2)"/>
<circle cx="402.50" cy="351.65" r="2.4" fill="url(#sp2)"/>
<circle cx="411.50" cy="351.65" r="2.4" fill="url(#sp2)"/>
<circle cx="421.00" cy="351.65" r="2.4" fill="url(#sp2)"/>
<circle cx="430.50" cy="351.65" r="2.4" fill="url(#sp2)"/>
<circle cx="440.00" cy="351.65" r="2.4" fill="url(#sp2)"/>
<circle cx="337.00" cy="358.15" r="2.4" fill="url(#sp2)"/>
<circle cx="346.50" cy="358.15" r="2.4" fill="url(#sp2)"/>
<circle cx="356.00" cy="358.15" r="2.4" fill="url(#sp2)"/>
<circle cx="365.50" cy="358.15" r="2.4" fill="url(#sp2)"/>
<circle cx="375.00" cy="358.15" r="2.4" fill="url(#sp2)"/>
<circle cx="384.45" cy="358.15" r="2.4" fill="url(#sp2)"/>
<circle cx="393.95" cy="358.15" r="2.4" fill="url(#sp2)"/>
<circle cx="403.45" cy="358.15" r="2.4" fill="url(#sp2)"/>
<circle cx="413.35" cy="358.15" r="2.4" fill="url(#sp2)"/>
<circle cx="422.85" cy="358.15" r="2.4" fill="url(#sp2)"/>
<circle cx="432.35" cy="358.15" r="2.4" fill="url(#sp2)"/>
<circle cx="441.85" cy="358.15" r="2.4" fill="url(#sp2)"/>
<circle cx="337.45" cy="365.05" r="2.4" fill="url(#sp2)"/>
<circle cx="346.95" cy="365.05" r="2.4" fill="url(#sp2)"/>
<circle cx="356.45" cy="365.05" r="2.4" fill="url(#sp2)"/>
<circle cx="366.45" cy="365.05" r="2.4" fill="url(#sp2)"/>
<circle cx="375.95" cy="365.05" r="2.4" fill="url(#sp2)"/>
<circle cx="385.90" cy="365.05" r="2.4" fill="url(#sp2)"/>
<circle cx="395.40" cy="365.05" r="2.4" fill="url(#sp2)"/>
<circle cx="415.25" cy="365.05" r="2.4" fill="url(#sp2)"/>
<circle cx="424.75" cy="365.05" r="2.4" fill="url(#sp2)"/>
<circle cx="434.25" cy="365.05" r="2.4" fill="url(#sp2)"/>
<circle cx="337.95" cy="372.50" r="2.4" fill="url(#sp2)"/>
<circle cx="347.45" cy="372.50" r="2.4" fill="url(#sp2)"/>
<circle cx="356.95" cy="372.50" r="2.4" fill="url(#sp2)"/>
<circle cx="366.95" cy="372.50" r="2.4" fill="url(#sp2)"/>
<circle cx="376.85" cy="372.50" r="2.4" fill="url(#sp2)"/>
<circle cx="386.80" cy="372.50" r="2.4" fill="url(#sp2)"/>
<circle cx="396.80" cy="372.50" r="2.4" fill="url(#sp2)"/>
<circle cx="406.75" cy="372.50" r="2.4" fill="url(#sp2)"/>
<circle cx="416.75" cy="372.50" r="2.4" fill="url(#sp2)"/>
<circle cx="426.25" cy="372.50" r="2.4" fill="url(#sp2)"/>
<circle cx="436.20" cy="372.50" r="2.4" fill="url(#sp2)"/>
<circle cx="446.15" cy="372.50" r="2.4" fill="url(#sp2)"/>
<circle cx="338.60" cy="380.10" r="2.4" fill="url(#sp2)"/>
<circle cx="348.40" cy="380.10" r="2.4" fill="url(#sp2)"/>
<circle cx="357.90" cy="380.10" r="2.4" fill="url(#sp2)"/>
<circle cx="367.85" cy="380.10" r="2.4" fill="url(#sp2)"/>
<circle cx="377.75" cy="380.10" r="2.4" fill="url(#sp2)"/>
<circle cx="387.75" cy="380.10" r="2.4" fill="url(#sp2)"/>
<circle cx="397.75" cy="380.10" r="2.4" fill="url(#sp2)"/>
<circle cx="407.70" cy="380.10" r="2.4" fill="url(#sp2)"/>
<circle cx="417.70" cy="380.10" r="2.4" fill="url(#sp2)"/>
<circle cx="427.65" cy="380.10" r="2.4" fill="url(#sp2)"/>
<circle cx="437.60" cy="380.10" r="2.4" fill="url(#sp2)"/>
<circle cx="359.30" cy="388.00" r="2.4" fill="url(#sp2)"/>
<circle cx="369.25" cy="388.00" r="2.4" fill="url(#sp2)"/>
<circle cx="389.70" cy="388.00" r="2.4" fill="url(#sp2)"/>
<circle cx="409.60" cy="388.00" r="2.4" fill="url(#sp2)"/>
<circle cx="429.50" cy="388.00" r="2.4" fill="url(#sp2)"/>
<circle cx="341.30" cy="351.80" r="2.35" fill="url(#sp3)"/>
<circle cx="359.30" cy="351.80" r="2.35" fill="url(#sp3)"/>
<circle cx="378.30" cy="351.80" r="2.35" fill="url(#sp3)"/>
<circle cx="397.30" cy="351.80" r="2.35" fill="url(#sp3)"/>
<circle cx="415.30" cy="351.80" r="2.35" fill="url(#sp3)"/>
<circle cx="434.30" cy="351.80" r="2.35" fill="url(#sp3)"/>
<circle cx="331.80" cy="358.30" r="2.35" fill="url(#sp3)"/>
<circle cx="350.80" cy="358.30" r="2.35" fill="url(#sp3)"/>
<circle cx="369.80" cy="358.30" r="2.35" fill="url(#sp3)"/>
<circle cx="388.70" cy="358.30" r="2.35" fill="url(#sp3)"/>
<circle cx="407.70" cy="358.30" r="2.35" fill="url(#sp3)"/>
<circle cx="426.70" cy="358.30" r="2.35" fill="url(#sp3)"/>
<circle cx="445.70" cy="358.30" r="2.35" fill="url(#sp3)"/>
<circle cx="342.20" cy="364.80" r="2.35" fill="url(#sp3)"/>
<circle cx="361.20" cy="364.80" r="2.35" fill="url(#sp3)"/>
<circle cx="380.20" cy="364.80" r="2.35" fill="url(#sp3)"/>
<circle cx="399.20" cy="364.80" r="2.35" fill="url(#sp3)"/>
<circle cx="419.00" cy="364.80" r="2.35" fill="url(#sp3)"/>
<circle cx="438.00" cy="364.80" r="2.35" fill="url(#sp3)"/>
<circle cx="332.70" cy="372.10" r="2.35" fill="url(#sp3)"/>
<circle cx="351.70" cy="372.10" r="2.35" fill="url(#sp3)"/>
<circle cx="371.70" cy="372.10" r="2.35" fill="url(#sp3)"/>
<circle cx="391.60" cy="372.10" r="2.35" fill="url(#sp3)"/>
<circle cx="411.50" cy="372.10" r="2.35" fill="url(#sp3)"/>
<circle cx="430.50" cy="372.10" r="2.35" fill="url(#sp3)"/>
<circle cx="450.40" cy="372.10" r="2.35" fill="url(#sp3)"/>
<circle cx="343.20" cy="379.70" r="2.35" fill="url(#sp3)"/>
<circle cx="362.20" cy="379.70" r="2.35" fill="url(#sp3)"/>
<circle cx="382.00" cy="379.70" r="2.35" fill="url(#sp3)"/>
<circle cx="402.00" cy="379.70" r="2.35" fill="url(#sp3)"/>
<circle cx="422.00" cy="379.70" r="2.35" fill="url(#sp3)"/>
<circle cx="441.90" cy="379.70" r="2.35" fill="url(#sp3)"/>
<circle cx="334.00" cy="387.30" r="2.35" fill="url(#sp3)"/>
<circle cx="353.60" cy="387.30" r="2.35" fill="url(#sp3)"/>
<circle cx="373.50" cy="387.30" r="2.35" fill="url(#sp3)"/>
<circle cx="393.50" cy="387.30" r="2.35" fill="url(#sp3)"/>
<circle cx="413.40" cy="387.30" r="2.35" fill="url(#sp3)"/>
<circle cx="433.30" cy="387.30" r="2.35" fill="url(#sp3)"/>
<circle cx="365.00" cy="395.50" r="2.35" fill="url(#sp3)"/>
<circle cx="385.90" cy="395.50" r="2.35" fill="url(#sp3)"/>
<circle cx="405.80" cy="395.50" r="2.35" fill="url(#sp3)"/>
<circle cx="425.70" cy="395.50" r="2.35" fill="url(#sp3)"/>
<circle cx="336.55" cy="351.65" r="2.5" fill="url(#sp2)"/>
<circle cx="346.05" cy="351.65" r="2.5" fill="url(#sp2)"/>
<circle cx="355.05" cy="351.65" r="2.5" fill="url(#sp2)"/>
<circle cx="364.55" cy="351.65" r="2.5" fill="url(#sp2)"/>
<circle cx="374.05" cy="351.65" r="2.5" fill="url(#sp2)"/>
<circle cx="383.50" cy="351.65" r="2.5" fill="url(#sp2)"/>
<circle cx="393.00" cy="351.65" r="2.5" fill="url(#sp2)"/>
<circle cx="402.50" cy="351.65" r="2.5" fill="url(#sp2)"/>
<circle cx="411.50" cy="351.65" r="2.5" fill="url(#sp2)"/>
<circle cx="421.00" cy="351.65" r="2.5" fill="url(#sp2)"/>
<circle cx="430.50" cy="351.65" r="2.5" fill="url(#sp2)"/>
<circle cx="440.00" cy="351.65" r="2.5" fill="url(#sp2)"/>
<circle cx="337.00" cy="358.15" r="2.5" fill="url(#sp2)"/>
<circle cx="346.50" cy="358.15" r="2.5" fill="url(#sp2)"/>
<circle cx="356.00" cy="358.15" r="2.5" fill="url(#sp2)"/>
<circle cx="365.50" cy="358.15" r="2.5" fill="url(#sp2)"/>
<circle cx="375.00" cy="358.15" r="2.5" fill="url(#sp2)"/>
<circle cx="384.45" cy="358.15" r="2.5" fill="url(#sp2)"/>
<circle cx="393.95" cy="358.15" r="2.5" fill="url(#sp2)"/>
<circle cx="403.45" cy="358.15" r="2.5" fill="url(#sp2)"/>
<circle cx="413.35" cy="358.15" r="2.5" fill="url(#sp2)"/>
<circle cx="422.85" cy="358.15" r="2.5" fill="url(#sp2)"/>
<circle cx="432.35" cy="358.15" r="2.5" fill="url(#sp2)"/>
<circle cx="441.85" cy="358.15" r="2.5" fill="url(#sp2)"/>
<circle cx="337.45" cy="365.05" r="2.5" fill="url(#sp2)"/>
<circle cx="346.95" cy="365.05" r="2.5" fill="url(#sp2)"/>
<circle cx="356.45" cy="365.05" r="2.5" fill="url(#sp2)"/>
<circle cx="366.45" cy="365.05" r="2.5" fill="url(#sp2)"/>
<circle cx="375.95" cy="365.05" r="2.5" fill="url(#sp2)"/>
<circle cx="385.90" cy="365.05" r="2.5" fill="url(#sp2)"/>
<circle cx="395.40" cy="365.05" r="2.5" fill="url(#sp2)"/>
<circle cx="415.25" cy="365.05" r="2.5" fill="url(#sp2)"/>
<circle cx="424.75" cy="365.05" r="2.5" fill="url(#sp2)"/>
<circle cx="434.25" cy="365.05" r="2.5" fill="url(#sp2)"/>
<circle cx="337.95" cy="372.50" r="2.5" fill="url(#sp2)"/>
<circle cx="347.45" cy="372.50" r="2.5" fill="url(#sp2)"/>
<circle cx="356.95" cy="372.50" r="2.5" fill="url(#sp2)"/>
<circle cx="366.95" cy="372.50" r="2.5" fill="url(#sp2)"/>
<circle cx="376.85" cy="372.50" r="2.5" fill="url(#sp2)"/>
<circle cx="386.80" cy="372.50" r="2.5" fill="url(#sp2)"/>
<circle cx="396.80" cy="372.50" r="2.5" fill="url(#sp2)"/>
<circle cx="406.75" cy="372.50" r="2.5" fill="url(#sp2)"/>
<circle cx="416.75" cy="372.50" r="2.5" fill="url(#sp2)"/>
<circle cx="426.25" cy="372.50" r="2.5" fill="url(#sp2)"/>
<circle cx="436.20" cy="372.50" r="2.5" fill="url(#sp2)"/>
<circle cx="446.15" cy="372.50" r="2.5" fill="url(#sp2)"/>
<circle cx="338.60" cy="380.10" r="2.5" fill="url(#sp2)"/>
<circle cx="348.40" cy="380.10" r="2.5" fill="url(#sp2)"/>
<circle cx="357.90" cy="380.10" r="2.5" fill="url(#sp2)"/>
<circle cx="367.85" cy="380.10" r="2.5" fill="url(#sp2)"/>
<circle cx="377.75" cy="380.10" r="2.5" fill="url(#sp2)"/>
<circle cx="387.75" cy="380.10" r="2.5" fill="url(#sp2)"/>
<circle cx="397.75" cy="380.10" r="2.5" fill="url(#sp2)"/>
<circle cx="407.70" cy="380.10" r="2.5" fill="url(#sp2)"/>
<circle cx="417.70" cy="380.10" r="2.5" fill="url(#sp2)"/>
<circle cx="427.65" cy="380.10" r="2.5" fill="url(#sp2)"/>
<circle cx="437.60" cy="380.10" r="2.5" fill="url(#sp2)"/>
<circle cx="359.30" cy="388.00" r="2.5" fill="url(#sp2)"/>
<circle cx="369.25" cy="388.00" r="2.5" fill="url(#sp2)"/>
<circle cx="389.70" cy="388.00" r="2.5" fill="url(#sp2)"/>
<circle cx="409.60" cy="388.00" r="2.5" fill="url(#sp2)"/>
<circle cx="429.50" cy="388.00" r="2.5" fill="url(#sp2)"/>
<circle cx="338.30" cy="347.20" r="2.85" fill="url(#sp3)"/>
<circle cx="356.30" cy="347.20" r="2.85" fill="url(#sp3)"/>
<circle cx="375.30" cy="347.20" r="2.85" fill="url(#sp3)"/>
<circle cx="394.30" cy="347.20" r="2.85" fill="url(#sp3)"/>
<circle cx="412.30" cy="347.20" r="2.85" fill="url(#sp3)"/>
<circle cx="431.30" cy="347.20" r="2.85" fill="url(#sp3)"/>
<circle cx="328.80" cy="353.70" r="2.85" fill="url(#sp3)"/>
<circle cx="347.80" cy="353.70" r="2.85" fill="url(#sp3)"/>
<circle cx="366.80" cy="353.70" r="2.85" fill="url(#sp3)"/>
<circle cx="385.70" cy="353.70" r="2.85" fill="url(#sp3)"/>
<circle cx="404.70" cy="353.70" r="2.85" fill="url(#sp3)"/>
<circle cx="423.70" cy="353.70" r="2.85" fill="url(#sp3)"/>
<circle cx="442.70" cy="353.70" r="2.85" fill="url(#sp3)"/>
<circle cx="339.20" cy="360.20" r="2.85" fill="url(#sp3)"/>
<circle cx="358.20" cy="360.20" r="2.85" fill="url(#sp3)"/>
<circle cx="377.20" cy="360.20" r="2.85" fill="url(#sp3)"/>
<circle cx="396.20" cy="360.20" r="2.85" fill="url(#sp3)"/>
<circle cx="416.00" cy="360.20" r="2.85" fill="url(#sp3)"/>
<circle cx="435.00" cy="360.20" r="2.85" fill="url(#sp3)"/>
<circle cx="329.70" cy="367.50" r="2.85" fill="url(#sp3)"/>
<circle cx="348.70" cy="367.50" r="2.85" fill="url(#sp3)"/>
<circle cx="368.70" cy="367.50" r="2.85" fill="url(#sp3)"/>
<circle cx="388.60" cy="367.50" r="2.85" fill="url(#sp3)"/>
<circle cx="408.50" cy="367.50" r="2.85" fill="url(#sp3)"/>
<circle cx="427.50" cy="367.50" r="2.85" fill="url(#sp3)"/>
<circle cx="447.40" cy="367.50" r="2.85" fill="url(#sp3)"/>
<circle cx="340.20" cy="375.10" r="2.85" fill="url(#sp3)"/>
<circle cx="359.20" cy="375.10" r="2.85" fill="url(#sp3)"/>
<circle cx="379.00" cy="375.10" r="2.85" fill="url(#sp3)"/>
<circle cx="399.00" cy="375.10" r="2.85" fill="url(#sp3)"/>
<circle cx="419.00" cy="375.10" r="2.85" fill="url(#sp3)"/>
<circle cx="438.90" cy="375.10" r="2.85" fill="url(#sp3)"/>
<circle cx="331.00" cy="382.70" r="2.85" fill="url(#sp3)"/>
<circle cx="350.60" cy="382.70" r="2.85" fill="url(#sp3)"/>
<circle cx="370.50" cy="382.70" r="2.85" fill="url(#sp3)"/>
<circle cx="390.50" cy="382.70" r="2.85" fill="url(#sp3)"/>
<circle cx="410.40" cy="382.70" r="2.85" fill="url(#sp3)"/>
<circle cx="430.30" cy="382.70" r="2.85" fill="url(#sp3)"/>
<circle cx="362.00" cy="390.90" r="2.85" fill="url(#sp3)"/>
<circle cx="382.90" cy="390.90" r="2.85" fill="url(#sp3)"/>
<circle cx="402.80" cy="390.90" r="2.85" fill="url(#sp3)"/>
<circle cx="422.70" cy="390.90" r="2.85" fill="url(#sp3)"/>
<line x1="362.00" y1="392.00" x2="362.00" y2="400.50" stroke="#1f45cc" stroke-width="1.8" stroke-linecap="round"/>
<circle cx="362.00" cy="400.70" r="2.7" fill="url(#sp3)"/>
<line x1="382.90" y1="392.00" x2="382.90" y2="400.50" stroke="#1f45cc" stroke-width="1.8" stroke-linecap="round"/>
<circle cx="382.90" cy="400.70" r="2.7" fill="url(#sp3)"/>
<line x1="402.80" y1="392.00" x2="402.80" y2="400.50" stroke="#1f45cc" stroke-width="1.8" stroke-linecap="round"/>
<circle cx="402.80" cy="400.70" r="2.7" fill="url(#sp3)"/>
<line x1="422.70" y1="392.00" x2="422.70" y2="400.50" stroke="#1f45cc" stroke-width="1.8" stroke-linecap="round"/>
<circle cx="422.70" cy="400.70" r="2.7" fill="url(#sp3)"/>
<circle cx="300.00" cy="314.50" r="2.6" fill="url(#sp4)"/>
<circle cx="304.50" cy="314.00" r="2.6" fill="url(#sp4)"/>
<circle cx="300.90" cy="318.50" r="2.6" fill="url(#sp4)"/>
<circle cx="305.40" cy="318.00" r="2.6" fill="url(#sp4)"/>
<circle cx="301.80" cy="322.50" r="2.6" fill="url(#sp4)"/>
<circle cx="306.30" cy="322.00" r="2.6" fill="url(#sp4)"/>
<circle cx="302.70" cy="326.50" r="2.6" fill="url(#sp4)"/>
<circle cx="307.20" cy="326.00" r="2.6" fill="url(#sp4)"/>
<circle cx="303.60" cy="330.50" r="2.6" fill="url(#sp4)"/>
<circle cx="308.10" cy="330.00" r="2.6" fill="url(#sp4)"/>
<circle cx="314.00" cy="336.00" r="2.6" fill="url(#sp4)"/>
<circle cx="318.50" cy="335.00" r="2.6" fill="url(#sp4)"/>
<circle cx="314.70" cy="332.00" r="2.6" fill="url(#sp4)"/>
<circle cx="319.20" cy="331.00" r="2.6" fill="url(#sp4)"/>
<circle cx="315.40" cy="328.00" r="2.6" fill="url(#sp4)"/>
<circle cx="319.90" cy="327.00" r="2.6" fill="url(#sp4)"/>
<circle cx="316.10" cy="324.00" r="2.6" fill="url(#sp4)"/>
<circle cx="320.60" cy="323.00" r="2.6" fill="url(#sp4)"/>
<circle cx="316.80" cy="320.00" r="2.6" fill="url(#sp4)"/>
<circle cx="321.30" cy="319.00" r="2.6" fill="url(#sp4)"/>
<circle cx="294.50" cy="313.30" r="3.1" fill="url(#sp5)"/>
<circle cx="294.05" cy="317.25" r="3.1" fill="url(#sp5)"/>
<circle cx="293.60" cy="321.20" r="3.1" fill="url(#sp5)"/>
<circle cx="293.15" cy="325.15" r="3.1" fill="url(#sp5)"/>
<circle cx="309.30" cy="323.80" r="3.1" fill="url(#sp5)"/>
<circle cx="309.20" cy="327.90" r="3.1" fill="url(#sp5)"/>
<circle cx="309.10" cy="332.00" r="3.1" fill="url(#sp5)"/>
<circle cx="309.00" cy="336.10" r="3.1" fill="url(#sp5)"/>
<circle cx="329.80" cy="314.50" r="2.6" fill="url(#sp4)"/>
<circle cx="334.30" cy="314.00" r="2.6" fill="url(#sp4)"/>
<circle cx="330.70" cy="318.50" r="2.6" fill="url(#sp4)"/>
<circle cx="335.20" cy="318.00" r="2.6" fill="url(#sp4)"/>
<circle cx="331.60" cy="322.50" r="2.6" fill="url(#sp4)"/>
<circle cx="336.10" cy="322.00" r="2.6" fill="url(#sp4)"/>
<circle cx="332.50" cy="326.50" r="2.6" fill="url(#sp4)"/>
<circle cx="337.00" cy="326.00" r="2.6" fill="url(#sp4)"/>
<circle cx="333.40" cy="330.50" r="2.6" fill="url(#sp4)"/>
<circle cx="337.90" cy="330.00" r="2.6" fill="url(#sp4)"/>
<circle cx="343.80" cy="336.00" r="2.6" fill="url(#sp4)"/>
<circle cx="348.30" cy="335.00" r="2.6" fill="url(#sp4)"/>
<circle cx="344.50" cy="332.00" r="2.6" fill="url(#sp4)"/>
<circle cx="349.00" cy="331.00" r="2.6" fill="url(#sp4)"/>
<circle cx="345.20" cy="328.00" r="2.6" fill="url(#sp4)"/>
<circle cx="349.70" cy="327.00" r="2.6" fill="url(#sp4)"/>
<circle cx="345.90" cy="324.00" r="2.6" fill="url(#sp4)"/>
<circle cx="350.40" cy="323.00" r="2.6" fill="url(#sp4)"/>
<circle cx="346.60" cy="320.00" r="2.6" fill="url(#sp4)"/>
<circle cx="351.10" cy="319.00" r="2.6" fill="url(#sp4)"/>
<circle cx="324.30" cy="313.30" r="3.1" fill="url(#sp5)"/>
<circle cx="323.85" cy="317.25" r="3.1" fill="url(#sp5)"/>
<circle cx="323.40" cy="321.20" r="3.1" fill="url(#sp5)"/>
<circle cx="322.95" cy="325.15" r="3.1" fill="url(#sp5)"/>
<circle cx="339.10" cy="323.80" r="3.1" fill="url(#sp5)"/>
<circle cx="339.00" cy="327.90" r="3.1" fill="url(#sp5)"/>
<circle cx="338.90" cy="332.00" r="3.1" fill="url(#sp5)"/>
<circle cx="338.80" cy="336.10" r="3.1" fill="url(#sp5)"/>
<circle cx="359.60" cy="314.50" r="2.6" fill="url(#sp4)"/>
<circle cx="364.10" cy="314.00" r="2.6" fill="url(#sp4)"/>
<circle cx="360.50" cy="318.50" r="2.6" fill="url(#sp4)"/>
<circle cx="365.00" cy="318.00" r="2.6" fill="url(#sp4)"/>
<circle cx="361.40" cy="322.50" r="2.6" fill="url(#sp4)"/>
<circle cx="365.90" cy="322.00" r="2.6" fill="url(#sp4)"/>
<circle cx="362.30" cy="326.50" r="2.6" fill="url(#sp4)"/>
<circle cx="366.80" cy="326.00" r="2.6" fill="url(#sp4)"/>
<circle cx="363.20" cy="330.50" r="2.6" fill="url(#sp4)"/>
<circle cx="367.70" cy="330.00" r="2.6" fill="url(#sp4)"/>
<circle cx="373.60" cy="335.00" r="2.6" fill="url(#sp4)"/>
<circle cx="373.80" cy="331.20" r="2.6" fill="url(#sp4)"/>
<circle cx="374.00" cy="327.40" r="2.6" fill="url(#sp4)"/>
<circle cx="374.20" cy="323.60" r="2.6" fill="url(#sp4)"/>
<circle cx="374.40" cy="319.80" r="2.6" fill="url(#sp4)"/>
<circle cx="354.10" cy="313.30" r="3.1" fill="url(#sp5)"/>
<circle cx="353.65" cy="317.25" r="3.1" fill="url(#sp5)"/>
<circle cx="353.20" cy="321.20" r="3.1" fill="url(#sp5)"/>
<circle cx="352.75" cy="325.15" r="3.1" fill="url(#sp5)"/>
<circle cx="368.90" cy="323.80" r="3.1" fill="url(#sp5)"/>
<circle cx="368.80" cy="327.90" r="3.1" fill="url(#sp5)"/>
<circle cx="368.70" cy="332.00" r="3.1" fill="url(#sp5)"/>
<circle cx="368.60" cy="336.10" r="3.1" fill="url(#sp5)"/>
<circle cx="288.50" cy="322.50" r="2.6" fill="url(#sp4)"/>
<circle cx="287.80" cy="326.60" r="2.6" fill="url(#sp4)"/>
<circle cx="287.10" cy="330.70" r="2.6" fill="url(#sp4)"/>
<circle cx="286.40" cy="334.80" r="2.6" fill="url(#sp4)"/>
<path d="M420.4 285.7 L476 293.5 L475 320.5 L467 328 L434 329.5 L416.6 311 Z" fill="#d83a8c" fill-opacity="0.55"/>
<line x1="420.50" y1="286.50" x2="428.50" y2="294.20" stroke="#8e4a52" stroke-width="1.5" stroke-linecap="round"/>
<line x1="420.50" y1="286.50" x2="419.90" y2="293.10" stroke="#ff1493" stroke-width="1.5" stroke-linecap="round"/>
<line x1="429.10" y1="287.60" x2="437.10" y2="295.30" stroke="#8e4a52" stroke-width="1.5" stroke-linecap="round"/>
<line x1="429.10" y1="287.60" x2="419.90" y2="293.10" stroke="#ff1493" stroke-width="1.7" stroke-linecap="round"/>
<line x1="437.70" y1="288.70" x2="445.70" y2="296.40" stroke="#8e4a52" stroke-width="1.5" stroke-linecap="round"/>
<line x1="437.70" y1="288.70" x2="428.50" y2="294.20" stroke="#ff1493" stroke-width="1.7" stroke-linecap="round"/>
<line x1="437.70" y1="288.70" x2="437.10" y2="295.30" stroke="#ff1493" stroke-width="1.5" stroke-linecap="round"/>
<line x1="446.30" y1="289.80" x2="454.30" y2="297.50" stroke="#8e4a52" stroke-width="1.5" stroke-linecap="round"/>
<line x1="446.30" y1="289.80" x2="437.10" y2="295.30" stroke="#ff1493" stroke-width="1.7" stroke-linecap="round"/>
<line x1="454.90" y1="290.90" x2="462.90" y2="298.60" stroke="#8e4a52" stroke-width="1.5" stroke-linecap="round"/>
<line x1="454.90" y1="290.90" x2="445.70" y2="296.40" stroke="#ff1493" stroke-width="1.7" stroke-linecap="round"/>
<line x1="454.90" y1="290.90" x2="454.30" y2="297.50" stroke="#ff1493" stroke-width="1.5" stroke-linecap="round"/>
<line x1="463.50" y1="292.00" x2="471.50" y2="299.70" stroke="#8e4a52" stroke-width="1.5" stroke-linecap="round"/>
<line x1="463.50" y1="292.00" x2="454.30" y2="297.50" stroke="#ff1493" stroke-width="1.7" stroke-linecap="round"/>
<line x1="472.10" y1="293.10" x2="462.90" y2="298.60" stroke="#ff1493" stroke-width="1.7" stroke-linecap="round"/>
<line x1="472.10" y1="293.10" x2="471.50" y2="299.70" stroke="#ff1493" stroke-width="1.5" stroke-linecap="round"/>
<line x1="419.90" y1="293.10" x2="427.90" y2="300.80" stroke="#8e4a52" stroke-width="1.5" stroke-linecap="round"/>
<line x1="428.50" y1="294.20" x2="436.50" y2="301.90" stroke="#8e4a52" stroke-width="1.5" stroke-linecap="round"/>
<line x1="428.50" y1="294.20" x2="419.30" y2="299.70" stroke="#ff1493" stroke-width="1.7" stroke-linecap="round"/>
<line x1="428.50" y1="294.20" x2="427.90" y2="300.80" stroke="#ff1493" stroke-width="1.5" stroke-linecap="round"/>
<line x1="437.10" y1="295.30" x2="445.10" y2="303.00" stroke="#8e4a52" stroke-width="1.5" stroke-linecap="round"/>
<line x1="437.10" y1="295.30" x2="427.90" y2="300.80" stroke="#ff1493" stroke-width="1.7" stroke-linecap="round"/>
<line x1="445.70" y1="296.40" x2="453.70" y2="304.10" stroke="#8e4a52" stroke-width="1.5" stroke-linecap="round"/>
<line x1="445.70" y1="296.40" x2="436.50" y2="301.90" stroke="#ff1493" stroke-width="1.7" stroke-linecap="round"/>
<line x1="445.70" y1="296.40" x2="445.10" y2="303.00" stroke="#ff1493" stroke-width="1.5" stroke-linecap="round"/>
<line x1="454.30" y1="297.50" x2="462.30" y2="305.20" stroke="#8e4a52" stroke-width="1.5" stroke-linecap="round"/>
<line x1="454.30" y1="297.50" x2="445.10" y2="303.00" stroke="#ff1493" stroke-width="1.7" stroke-linecap="round"/>
<line x1="462.90" y1="298.60" x2="470.90" y2="306.30" stroke="#8e4a52" stroke-width="1.5" stroke-linecap="round"/>
<line x1="462.90" y1="298.60" x2="453.70" y2="304.10" stroke="#ff1493" stroke-width="1.7" stroke-linecap="round"/>
<line x1="462.90" y1="298.60" x2="462.30" y2="305.20" stroke="#ff1493" stroke-width="1.5" stroke-linecap="round"/>
<line x1="471.50" y1="299.70" x2="462.30" y2="305.20" stroke="#ff1493" stroke-width="1.7" stroke-linecap="round"/>
<line x1="419.30" y1="299.70" x2="427.30" y2="307.40" stroke="#8e4a52" stroke-width="1.5" stroke-linecap="round"/>
<line x1="419.30" y1="299.70" x2="418.70" y2="306.30" stroke="#ff1493" stroke-width="1.5" stroke-linecap="round"/>
<line x1="427.90" y1="300.80" x2="435.90" y2="308.50" stroke="#8e4a52" stroke-width="1.5" stroke-linecap="round"/>
<line x1="427.90" y1="300.80" x2="418.70" y2="306.30" stroke="#ff1493" stroke-width="1.7" stroke-linecap="round"/>
<line x1="436.50" y1="301.90" x2="444.50" y2="309.60" stroke="#8e4a52" stroke-width="1.5" stroke-linecap="round"/>
<line x1="436.50" y1="301.90" x2="427.30" y2="307.40" stroke="#ff1493" stroke-width="1.7" stroke-linecap="round"/>
<line x1="436.50" y1="301.90" x2="435.90" y2="308.50" stroke="#ff1493" stroke-width="1.5" stroke-linecap="round"/>
<line x1="445.10" y1="303.00" x2="453.10" y2="310.70" stroke="#8e4a52" stroke-width="1.5" stroke-linecap="round"/>
<line x1="445.10" y1="303.00" x2="435.90" y2="308.50" stroke="#ff1493" stroke-width="1.7" stroke-linecap="round"/>
<line x1="453.70" y1="304.10" x2="461.70" y2="311.80" stroke="#8e4a52" stroke-width="1.5" stroke-linecap="round"/>
<line x1="453.70" y1="304.10" x2="444.50" y2="309.60" stroke="#ff1493" stroke-width="1.7" stroke-linecap="round"/>
<line x1="453.70" y1="304.10" x2="453.10" y2="310.70" stroke="#ff1493" stroke-width="1.5" stroke-linecap="round"/>
<line x1="462.30" y1="305.20" x2="470.30" y2="312.90" stroke="#8e4a52" stroke-width="1.5" stroke-linecap="round"/>
<line x1="462.30" y1="305.20" x2="453.10" y2="310.70" stroke="#ff1493" stroke-width="1.7" stroke-linecap="round"/>
<line x1="470.90" y1="306.30" x2="461.70" y2="311.80" stroke="#ff1493" stroke-width="1.7" stroke-linecap="round"/>
<line x1="470.90" y1="306.30" x2="470.30" y2="312.90" stroke="#ff1493" stroke-width="1.5" stroke-linecap="round"/>
<line x1="418.70" y1="306.30" x2="426.70" y2="314.00" stroke="#8e4a52" stroke-width="1.5" stroke-linecap="round"/>
<line x1="427.30" y1="307.40" x2="435.30" y2="315.10" stroke="#8e4a52" stroke-width="1.5" stroke-linecap="round"/>
<line x1="427.30" y1="307.40" x2="418.10" y2="312.90" stroke="#ff1493" stroke-width="1.7" stroke-linecap="round"/>
<line x1="427.30" y1="307.40" x2="426.70" y2="314.00" stroke="#ff1493" stroke-width="1.5" stroke-linecap="round"/>
<line x1="435.90" y1="308.50" x2="443.90" y2="316.20" stroke="#8e4a52" stroke-width="1.5" stroke-linecap="round"/>
<line x1="435.90" y1="308.50" x2="426.70" y2="314.00" stroke="#ff1493" stroke-width="1.7" stroke-linecap="round"/>
<line x1="444.50" y1="309.60" x2="452.50" y2="317.30" stroke="#8e4a52" stroke-width="1.5" stroke-linecap="round"/>
<line x1="444.50" y1="309.60" x2="435.30" y2="315.10" stroke="#ff1493" stroke-width="1.7" stroke-linecap="round"/>
<line x1="444.50" y1="309.60" x2="443.90" y2="316.20" stroke="#ff1493" stroke-width="1.5" stroke-linecap="round"/>
<line x1="453.10" y1="310.70" x2="461.10" y2="318.40" stroke="#8e4a52" stroke-width="1.5" stroke-linecap="round"/>
<line x1="453.10" y1="310.70" x2="443.90" y2="316.20" stroke="#ff1493" stroke-width="1.7" stroke-linecap="round"/>
<line x1="461.70" y1="311.80" x2="469.70" y2="319.50" stroke="#8e4a52" stroke-width="1.5" stroke-linecap="round"/>
<line x1="461.70" y1="311.80" x2="452.50" y2="317.30" stroke="#ff1493" stroke-width="1.7" stroke-linecap="round"/>
<line x1="461.70" y1="311.80" x2="461.10" y2="318.40" stroke="#ff1493" stroke-width="1.5" stroke-linecap="round"/>
<line x1="470.30" y1="312.90" x2="461.10" y2="318.40" stroke="#ff1493" stroke-width="1.7" stroke-linecap="round"/>
<line x1="418.10" y1="312.90" x2="426.10" y2="320.60" stroke="#8e4a52" stroke-width="1.5" stroke-linecap="round"/>
<line x1="418.10" y1="312.90" x2="417.50" y2="319.50" stroke="#ff1493" stroke-width="1.5" stroke-linecap="round"/>
<line x1="426.70" y1="314.00" x2="434.70" y2="321.70" stroke="#8e4a52" stroke-width="1.5" stroke-linecap="round"/>
<line x1="426.70" y1="314.00" x2="417.50" y2="319.50" stroke="#ff1493" stroke-width="1.7" stroke-linecap="round"/>
<line x1="435.30" y1="315.10" x2="443.30" y2="322.80" stroke="#8e4a52" stroke-width="1.5" stroke-linecap="round"/>
<line x1="435.30" y1="315.10" x2="426.10" y2="320.60" stroke="#ff1493" stroke-width="1.7" stroke-linecap="round"/>
<line x1="435.30" y1="315.10" x2="434.70" y2="321.70" stroke="#ff1493" stroke-width="1.5" stroke-linecap="round"/>
<line x1="443.90" y1="316.20" x2="451.90" y2="323.90" stroke="#8e4a52" stroke-width="1.5" stroke-linecap="round"/>
<line x1="443.90" y1="316.20" x2="434.70" y2="321.70" stroke="#ff1493" stroke-width="1.7" stroke-linecap="round"/>
<line x1="452.50" y1="317.30" x2="460.50" y2="325.00" stroke="#8e4a52" stroke-width="1.5" stroke-linecap="round"/>
<line x1="452.50" y1="317.30" x2="443.30" y2="322.80" stroke="#ff1493" stroke-width="1.7" stroke-linecap="round"/>
<line x1="452.50" y1="317.30" x2="451.90" y2="323.90" stroke="#ff1493" stroke-width="1.5" stroke-linecap="round"/>
<line x1="461.10" y1="318.40" x2="469.10" y2="326.10" stroke="#8e4a52" stroke-width="1.5" stroke-linecap="round"/>
<line x1="461.10" y1="318.40" x2="451.90" y2="323.90" stroke="#ff1493" stroke-width="1.7" stroke-linecap="round"/>
<line x1="469.70" y1="319.50" x2="460.50" y2="325.00" stroke="#ff1493" stroke-width="1.7" stroke-linecap="round"/>
<line x1="469.70" y1="319.50" x2="469.10" y2="326.10" stroke="#ff1493" stroke-width="1.5" stroke-linecap="round"/>
<line x1="417.50" y1="319.50" x2="425.50" y2="327.20" stroke="#8e4a52" stroke-width="1.5" stroke-linecap="round"/>
<line x1="426.10" y1="320.60" x2="434.10" y2="328.30" stroke="#8e4a52" stroke-width="1.5" stroke-linecap="round"/>
<line x1="426.10" y1="320.60" x2="416.90" y2="326.10" stroke="#ff1493" stroke-width="1.7" stroke-linecap="round"/>
<line x1="426.10" y1="320.60" x2="425.50" y2="327.20" stroke="#ff1493" stroke-width="1.5" stroke-linecap="round"/>
<line x1="434.70" y1="321.70" x2="442.70" y2="329.40" stroke="#8e4a52" stroke-width="1.5" stroke-linecap="round"/>
<line x1="434.70" y1="321.70" x2="425.50" y2="327.20" stroke="#ff1493" stroke-width="1.7" stroke-linecap="round"/>
<line x1="443.30" y1="322.80" x2="451.30" y2="330.50" stroke="#8e4a52" stroke-width="1.5" stroke-linecap="round"/>
<line x1="443.30" y1="322.80" x2="434.10" y2="328.30" stroke="#ff1493" stroke-width="1.7" stroke-linecap="round"/>
<line x1="443.30" y1="322.80" x2="442.70" y2="329.40" stroke="#ff1493" stroke-width="1.5" stroke-linecap="round"/>
<line x1="451.90" y1="323.90" x2="459.90" y2="331.60" stroke="#8e4a52" stroke-width="1.5" stroke-linecap="round"/>
<line x1="451.90" y1="323.90" x2="442.70" y2="329.40" stroke="#ff1493" stroke-width="1.7" stroke-linecap="round"/>
<line x1="460.50" y1="325.00" x2="468.50" y2="332.70" stroke="#8e4a52" stroke-width="1.5" stroke-linecap="round"/>
<line x1="460.50" y1="325.00" x2="451.30" y2="330.50" stroke="#ff1493" stroke-width="1.7" stroke-linecap="round"/>
<line x1="460.50" y1="325.00" x2="459.90" y2="331.60" stroke="#ff1493" stroke-width="1.5" stroke-linecap="round"/>
<line x1="469.10" y1="326.10" x2="459.90" y2="331.60" stroke="#ff1493" stroke-width="1.7" stroke-linecap="round"/>
<circle cx="420.50" cy="286.50" r="1.9" fill="url(#sp6)"/>
<circle cx="437.70" cy="288.70" r="1.9" fill="url(#sp6)"/>
<circle cx="454.90" cy="290.90" r="1.9" fill="url(#sp6)"/>
<circle cx="472.10" cy="293.10" r="1.9" fill="url(#sp6)"/>
<circle cx="428.50" cy="294.20" r="1.9" fill="url(#sp6)"/>
<circle cx="445.70" cy="296.40" r="1.9" fill="url(#sp6)"/>
<circle cx="462.90" cy="298.60" r="1.9" fill="url(#sp6)"/>
<circle cx="419.30" cy="299.70" r="1.9" fill="url(#sp6)"/>
<circle cx="436.50" cy="301.90" r="1.9" fill="url(#sp6)"/>
<circle cx="453.70" cy="304.10" r="1.9" fill="url(#sp6)"/>
<circle cx="470.90" cy="306.30" r="1.9" fill="url(#sp6)"/>
<circle cx="427.30" cy="307.40" r="1.9" fill="url(#sp6)"/>
<circle cx="444.50" cy="309.60" r="1.9" fill="url(#sp6)"/>
<circle cx="461.70" cy="311.80" r="1.9" fill="url(#sp6)"/>
<circle cx="418.10" cy="312.90" r="1.9" fill="url(#sp6)"/>
<circle cx="435.30" cy="315.10" r="1.9" fill="url(#sp6)"/>
<circle cx="452.50" cy="317.30" r="1.9" fill="url(#sp6)"/>
<circle cx="469.70" cy="319.50" r="1.9" fill="url(#sp6)"/>
<circle cx="426.10" cy="320.60" r="1.9" fill="url(#sp6)"/>
<circle cx="443.30" cy="322.80" r="1.9" fill="url(#sp6)"/>
<circle cx="460.50" cy="325.00" r="1.9" fill="url(#sp6)"/>
<circle cx="416.90" cy="326.10" r="1.9" fill="url(#sp6)"/>
<circle cx="434.10" cy="328.30" r="1.9" fill="url(#sp6)"/>
<circle cx="451.30" cy="330.50" r="1.9" fill="url(#sp6)"/>
<circle cx="468.50" cy="332.70" r="1.9" fill="url(#sp6)"/>
<circle cx="437.40" cy="301.00" r="3.1" fill="url(#sp7)"/>
<circle cx="447.20" cy="301.50" r="3.1" fill="url(#sp7)"/>
<circle cx="459.80" cy="300.50" r="3.1" fill="url(#sp7)"/>
<circle cx="418.20" cy="310.80" r="3.1" fill="url(#sp7)"/>
<circle cx="421.50" cy="313.00" r="3.1" fill="url(#sp7)"/>
<circle cx="425.00" cy="316.00" r="3.1" fill="url(#sp7)"/>
<circle cx="440.00" cy="318.50" r="3.1" fill="url(#sp7)"/>
<circle cx="451.00" cy="320.00" r="3.1" fill="url(#sp7)"/>
<circle cx="462.00" cy="318.50" r="3.1" fill="url(#sp7)"/>
<circle cx="471.50" cy="320.00" r="3.1" fill="url(#sp7)"/>
<circle cx="430.00" cy="296.00" r="3.1" fill="url(#sp7)"/>
<circle cx="468.00" cy="299.00" r="3.1" fill="url(#sp7)"/>
<circle cx="434.00" cy="329.50" r="1.9" fill="url(#sp6)"/>
<circle cx="444.00" cy="329.00" r="1.9" fill="url(#sp6)"/>
<circle cx="456.00" cy="328.50" r="1.9" fill="url(#sp6)"/>
<circle cx="466.00" cy="327.50" r="1.9" fill="url(#sp6)"/>
<circle cx="420.40" cy="285.70" r="1.9" fill="url(#sp6)"/>
<circle cx="424.00" cy="287.50" r="1.9" fill="url(#sp6)"/>
<circle cx="475.50" cy="293.80" r="1.9" fill="url(#sp6)"/>
<line x1="446.50" y1="262.00" x2="446.00" y2="277.00" stroke="#ff1493" stroke-width="1.8" stroke-linecap="round"/>
<line x1="449.70" y1="262.00" x2="449.20" y2="277.00" stroke="#ff1493" stroke-width="1.8" stroke-linecap="round"/>
<line x1="452.90" y1="262.00" x2="452.40" y2="277.00" stroke="#ff1493" stroke-width="1.8" stroke-linecap="round"/>
<line x1="461.60" y1="262.00" x2="461.10" y2="277.00" stroke="#ff1493" stroke-width="1.8" stroke-linecap="round"/>
<line x1="464.80" y1="262.00" x2="464.30" y2="277.00" stroke="#ff1493" stroke-width="1.8" stroke-linecap="round"/>
<line x1="468.00" y1="262.00" x2="467.50" y2="277.00" stroke="#ff1493" stroke-width="1.8" stroke-linecap="round"/>
<line x1="476.70" y1="262.00" x2="476.20" y2="277.00" stroke="#ff1493" stroke-width="1.8" stroke-linecap="round"/>
<line x1="479.90" y1="262.00" x2="479.40" y2="277.00" stroke="#ff1493" stroke-width="1.8" stroke-linecap="round"/>
<line x1="483.10" y1="262.00" x2="482.60" y2="277.00" stroke="#ff1493" stroke-width="1.8" stroke-linecap="round"/>
<circle cx="437.00" cy="255.50" r="2.2" fill="url(#sp6)"/>
<circle cx="443.60" cy="257.50" r="2.2" fill="url(#sp6)"/>
<circle cx="450.20" cy="255.50" r="2.2" fill="url(#sp6)"/>
<circle cx="456.80" cy="257.50" r="2.2" fill="url(#sp6)"/>
<circle cx="463.40" cy="255.50" r="2.2" fill="url(#sp6)"/>
<circle cx="470.00" cy="257.50" r="2.2" fill="url(#sp6)"/>
<circle cx="476.60" cy="255.50" r="2.2" fill="url(#sp6)"/>
<circle cx="483.20" cy="257.50" r="2.2" fill="url(#sp6)"/>
<circle cx="446.70" cy="261.50" r="3.3" fill="url(#sp7)"/>
<circle cx="452.70" cy="262.50" r="3.3" fill="url(#sp7)"/>
<circle cx="446.20" cy="276.50" r="3.3" fill="url(#sp7)"/>
<circle cx="452.20" cy="277.50" r="3.3" fill="url(#sp7)"/>
<circle cx="461.80" cy="261.50" r="3.3" fill="url(#sp7)"/>
<circle cx="467.80" cy="262.50" r="3.3" fill="url(#sp7)"/>
<circle cx="461.30" cy="276.50" r="3.3" fill="url(#sp7)"/>
<circle cx="467.30" cy="277.50" r="3.3" fill="url(#sp7)"/>
<circle cx="476.90" cy="261.50" r="3.3" fill="url(#sp7)"/>
<circle cx="482.90" cy="262.50" r="3.3" fill="url(#sp7)"/>
<circle cx="476.40" cy="276.50" r="3.3" fill="url(#sp7)"/>
<circle cx="482.40" cy="277.50" r="3.3" fill="url(#sp7)"/>
<circle cx="440.00" cy="281.00" r="2.2" fill="url(#sp6)"/>
<circle cx="447.00" cy="282.50" r="2.2" fill="url(#sp6)"/>
<circle cx="454.00" cy="281.00" r="2.2" fill="url(#sp6)"/>
<circle cx="461.00" cy="282.50" r="2.2" fill="url(#sp6)"/>
<circle cx="468.00" cy="281.00" r="2.2" fill="url(#sp6)"/>
<circle cx="475.00" cy="282.50" r="2.2" fill="url(#sp6)"/>
<circle cx="482.00" cy="281.00" r="2.2" fill="url(#sp6)"/>
<circle cx="342.40" cy="219.00" r="2.7" fill="url(#sp5)"/>
<circle cx="342.40" cy="224.00" r="2.7" fill="url(#sp5)"/>
<circle cx="343.10" cy="230.00" r="2.7" fill="url(#sp5)"/>
<circle cx="347.00" cy="218.50" r="2.45" fill="url(#sp4)"/>
<circle cx="353.60" cy="218.50" r="2.45" fill="url(#sp4)"/>
<circle cx="360.20" cy="218.50" r="2.45" fill="url(#sp4)"/>
<circle cx="366.80" cy="218.50" r="2.45" fill="url(#sp4)"/>
<circle cx="373.40" cy="218.50" r="2.45" fill="url(#sp4)"/>
<circle cx="380.00" cy="218.50" r="2.45" fill="url(#sp4)"/>
<circle cx="386.60" cy="218.50" r="2.45" fill="url(#sp4)"/>
<circle cx="393.20" cy="218.50" r="2.45" fill="url(#sp4)"/>
<circle cx="399.80" cy="218.50" r="2.45" fill="url(#sp4)"/>
<circle cx="406.40" cy="218.50" r="2.45" fill="url(#sp4)"/>
<circle cx="350.30" cy="222.50" r="2.45" fill="url(#sp4)"/>
<circle cx="356.90" cy="222.50" r="2.45" fill="url(#sp4)"/>
<circle cx="363.50" cy="222.50" r="2.45" fill="url(#sp4)"/>
<circle cx="370.10" cy="222.50" r="2.45" fill="url(#sp4)"/>
<circle cx="376.70" cy="222.50" r="2.45" fill="url(#sp4)"/>
<circle cx="383.30" cy="222.50" r="2.45" fill="url(#sp4)"/>
<circle cx="389.90" cy="222.50" r="2.45" fill="url(#sp4)"/>
<circle cx="396.50" cy="222.50" r="2.45" fill="url(#sp4)"/>
<circle cx="403.10" cy="222.50" r="2.45" fill="url(#sp4)"/>
<circle cx="409.70" cy="222.50" r="2.45" fill="url(#sp4)"/>
<circle cx="347.00" cy="226.50" r="2.45" fill="url(#sp4)"/>
<circle cx="353.60" cy="226.50" r="2.45" fill="url(#sp5)"/>
<circle cx="360.20" cy="226.50" r="2.45" fill="url(#sp4)"/>
<circle cx="366.80" cy="226.50" r="2.45" fill="url(#sp4)"/>
<circle cx="373.40" cy="226.50" r="2.45" fill="url(#sp5)"/>
<circle cx="380.00" cy="226.50" r="2.45" fill="url(#sp4)"/>
<circle cx="386.60" cy="226.50" r="2.45" fill="url(#sp4)"/>
<circle cx="393.20" cy="226.50" r="2.45" fill="url(#sp5)"/>
<circle cx="399.80" cy="226.50" r="2.45" fill="url(#sp4)"/>
<circle cx="406.40" cy="226.50" r="2.45" fill="url(#sp4)"/>
<circle cx="350.30" cy="230.50" r="2.45" fill="url(#sp5)"/>
<circle cx="356.90" cy="230.50" r="2.45" fill="url(#sp4)"/>
<circle cx="363.50" cy="230.50" r="2.45" fill="url(#sp5)"/>
<circle cx="370.10" cy="230.50" r="2.45" fill="url(#sp4)"/>
<circle cx="376.70" cy="230.50" r="2.45" fill="url(#sp5)"/>
<circle cx="383.30" cy="230.50" r="2.45" fill="url(#sp4)"/>
<circle cx="389.90" cy="230.50" r="2.45" fill="url(#sp5)"/>
<circle cx="396.50" cy="230.50" r="2.45" fill="url(#sp4)"/>
<circle cx="403.10" cy="230.50" r="2.45" fill="url(#sp5)"/>
<circle cx="409.70" cy="230.50" r="2.45" fill="url(#sp4)"/>
<circle cx="386.20" cy="211.70" r="2.35" fill="url(#sp4)"/>
<circle cx="389.90" cy="213.90" r="2.35" fill="url(#sp4)"/>
<circle cx="396.40" cy="214.60" r="2.35" fill="url(#sp4)"/>
<circle cx="404.50" cy="211.70" r="2.35" fill="url(#sp4)"/>
<circle cx="405.90" cy="217.50" r="2.35" fill="url(#sp4)"/>
<circle cx="398.60" cy="210.20" r="2.35" fill="url(#sp4)"/>
<circle cx="392.00" cy="209.50" r="2.35" fill="url(#sp4)"/>
<circle cx="351.90" cy="234.30" r="2.9" fill="url(#sp5)"/>
<circle cx="370.90" cy="234.30" r="2.9" fill="url(#sp5)"/>
<circle cx="389.90" cy="234.30" r="2.9" fill="url(#sp5)"/>
<circle cx="408.80" cy="234.30" r="2.9" fill="url(#sp5)"/>
<line x1="361.40" y1="234.00" x2="358.90" y2="240.00" stroke="#e6e614" stroke-width="1.5" stroke-linecap="round"/>
<line x1="361.40" y1="234.00" x2="363.90" y2="240.00" stroke="#e6e614" stroke-width="1.5" stroke-linecap="round"/>
<circle cx="361.40" cy="235.50" r="2.3" fill="url(#sp4)"/>
<circle cx="358.60" cy="240.30" r="2.3" fill="url(#sp4)"/>
<circle cx="364.20" cy="240.30" r="2.3" fill="url(#sp4)"/>
<line x1="381.10" y1="234.00" x2="378.60" y2="240.00" stroke="#e6e614" stroke-width="1.5" stroke-linecap="round"/>
<line x1="381.10" y1="234.00" x2="383.60" y2="240.00" stroke="#e6e614" stroke-width="1.5" stroke-linecap="round"/>
<circle cx="381.10" cy="235.50" r="2.3" fill="url(#sp4)"/>
<circle cx="378.30" cy="240.30" r="2.3" fill="url(#sp4)"/>
<circle cx="383.90" cy="240.30" r="2.3" fill="url(#sp4)"/>
<line x1="400.10" y1="234.00" x2="397.60" y2="240.00" stroke="#e6e614" stroke-width="1.5" stroke-linecap="round"/>
<line x1="400.10" y1="234.00" x2="402.60" y2="240.00" stroke="#e6e614" stroke-width="1.5" stroke-linecap="round"/>
<circle cx="400.10" cy="235.50" r="2.3" fill="url(#sp4)"/>
<circle cx="397.30" cy="240.30" r="2.3" fill="url(#sp4)"/>
<circle cx="402.90" cy="240.30" r="2.3" fill="url(#sp4)"/>
<line x1="396.00" y1="195.50" x2="398.00" y2="208.00" stroke="#1a8fd6" stroke-width="1.6" stroke-linecap="round"/>
<line x1="396.00" y1="195.50" x2="404.00" y2="195.60" stroke="#ff1493" stroke-width="1.5" stroke-linecap="round"/>
<line x1="398.00" y1="208.00" x2="406.00" y2="208.10" stroke="#ff1493" stroke-width="1.5" stroke-linecap="round"/>
<line x1="397.00" y1="202.00" x2="405.00" y2="202.00" stroke="#1a8fd6" stroke-width="1.5" stroke-linecap="round"/>
<line x1="404.00" y1="195.65" x2="406.00" y2="208.15" stroke="#1a8fd6" stroke-width="1.6" stroke-linecap="round"/>
<line x1="404.00" y1="195.65" x2="412.00" y2="195.75" stroke="#ff1493" stroke-width="1.5" stroke-linecap="round"/>
<line x1="406.00" y1="208.15" x2="414.00" y2="208.25" stroke="#ff1493" stroke-width="1.5" stroke-linecap="round"/>
<line x1="405.00" y1="202.15" x2="413.00" y2="202.15" stroke="#1a8fd6" stroke-width="1.5" stroke-linecap="round"/>
<line x1="412.00" y1="195.80" x2="414.00" y2="208.30" stroke="#1a8fd6" stroke-width="1.6" stroke-linecap="round"/>
<line x1="412.00" y1="195.80" x2="420.00" y2="195.90" stroke="#ff1493" stroke-width="1.5" stroke-linecap="round"/>
<line x1="414.00" y1="208.30" x2="422.00" y2="208.40" stroke="#ff1493" stroke-width="1.5" stroke-linecap="round"/>
<line x1="413.00" y1="202.30" x2="421.00" y2="202.30" stroke="#1a8fd6" stroke-width="1.5" stroke-linecap="round"/>
<line x1="420.00" y1="195.95" x2="422.00" y2="208.45" stroke="#1a8fd6" stroke-width="1.6" stroke-linecap="round"/>
<line x1="420.00" y1="195.95" x2="428.00" y2="196.05" stroke="#ff1493" stroke-width="1.5" stroke-linecap="round"/>
<line x1="422.00" y1="208.45" x2="430.00" y2="208.55" stroke="#ff1493" stroke-width="1.5" stroke-linecap="round"/>
<line x1="421.00" y1="202.45" x2="429.00" y2="202.45" stroke="#1a8fd6" stroke-width="1.5" stroke-linecap="round"/>
<line x1="428.00" y1="196.10" x2="430.00" y2="208.60" stroke="#1a8fd6" stroke-width="1.6" stroke-linecap="round"/>
<line x1="428.00" y1="196.10" x2="436.00" y2="196.20" stroke="#ff1493" stroke-width="1.5" stroke-linecap="round"/>
<line x1="430.00" y1="208.60" x2="438.00" y2="208.70" stroke="#ff1493" stroke-width="1.5" stroke-linecap="round"/>
<line x1="429.00" y1="202.60" x2="437.00" y2="202.60" stroke="#1a8fd6" stroke-width="1.5" stroke-linecap="round"/>
<line x1="436.00" y1="196.25" x2="438.00" y2="208.75" stroke="#1a8fd6" stroke-width="1.6" stroke-linecap="round"/>
<line x1="436.00" y1="196.25" x2="444.00" y2="196.35" stroke="#ff1493" stroke-width="1.5" stroke-linecap="round"/>
<line x1="438.00" y1="208.75" x2="446.00" y2="208.85" stroke="#ff1493" stroke-width="1.5" stroke-linecap="round"/>
<line x1="437.00" y1="202.75" x2="445.00" y2="202.75" stroke="#1a8fd6" stroke-width="1.5" stroke-linecap="round"/>
<line x1="444.00" y1="196.40" x2="446.00" y2="208.90" stroke="#1a8fd6" stroke-width="1.6" stroke-linecap="round"/>
<line x1="444.00" y1="196.40" x2="452.00" y2="196.50" stroke="#ff1493" stroke-width="1.5" stroke-linecap="round"/>
<line x1="446.00" y1="208.90" x2="454.00" y2="209.00" stroke="#ff1493" stroke-width="1.5" stroke-linecap="round"/>
<line x1="445.00" y1="202.90" x2="453.00" y2="202.90" stroke="#1a8fd6" stroke-width="1.5" stroke-linecap="round"/>
<line x1="452.00" y1="196.55" x2="454.00" y2="209.05" stroke="#1a8fd6" stroke-width="1.6" stroke-linecap="round"/>
<line x1="452.00" y1="196.55" x2="460.00" y2="196.65" stroke="#ff1493" stroke-width="1.5" stroke-linecap="round"/>
<line x1="454.00" y1="209.05" x2="462.00" y2="209.15" stroke="#ff1493" stroke-width="1.5" stroke-linecap="round"/>
<line x1="453.00" y1="203.05" x2="461.00" y2="203.05" stroke="#1a8fd6" stroke-width="1.5" stroke-linecap="round"/>
<line x1="460.00" y1="196.70" x2="462.00" y2="209.20" stroke="#1a8fd6" stroke-width="1.6" stroke-linecap="round"/>
<line x1="409.20" y1="187.80" x2="410.20" y2="196.00" stroke="#ff1493" stroke-width="1.8" stroke-linecap="round"/>
<circle cx="409.20" cy="187.80" r="2.6" fill="url(#sp7)"/>
<circle cx="410.70" cy="191.30" r="2.4" fill="url(#sp7)"/>
<line x1="428.20" y1="187.80" x2="429.20" y2="196.00" stroke="#ff1493" stroke-width="1.8" stroke-linecap="round"/>
<circle cx="428.20" cy="187.80" r="2.6" fill="url(#sp7)"/>
<circle cx="429.70" cy="191.30" r="2.4" fill="url(#sp7)"/>
<line x1="449.30" y1="188.50" x2="450.30" y2="196.00" stroke="#ff1493" stroke-width="1.8" stroke-linecap="round"/>
<circle cx="449.30" cy="188.50" r="2.6" fill="url(#sp7)"/>
<circle cx="450.80" cy="192.00" r="2.4" fill="url(#sp7)"/>
<circle cx="396.00" cy="195.50" r="2.6" fill="url(#sp7)"/>
<circle cx="400.00" cy="198.00" r="2.3" fill="url(#sp8)"/>
<circle cx="404.00" cy="195.65" r="2.6" fill="url(#sp7)"/>
<circle cx="408.00" cy="198.15" r="2.3" fill="url(#sp8)"/>
<circle cx="412.00" cy="195.80" r="2.6" fill="url(#sp7)"/>
<circle cx="416.00" cy="198.30" r="2.3" fill="url(#sp8)"/>
<circle cx="420.00" cy="195.95" r="2.6" fill="url(#sp7)"/>
<circle cx="424.00" cy="198.45" r="2.3" fill="url(#sp8)"/>
<circle cx="428.00" cy="196.10" r="2.6" fill="url(#sp7)"/>
<circle cx="432.00" cy="198.60" r="2.3" fill="url(#sp8)"/>
<circle cx="436.00" cy="196.25" r="2.6" fill="url(#sp7)"/>
<circle cx="440.00" cy="198.75" r="2.3" fill="url(#sp8)"/>
<circle cx="444.00" cy="196.40" r="2.6" fill="url(#sp7)"/>
<circle cx="448.00" cy="198.90" r="2.3" fill="url(#sp8)"/>
<circle cx="452.00" cy="196.55" r="2.6" fill="url(#sp7)"/>
<circle cx="456.00" cy="199.05" r="2.3" fill="url(#sp8)"/>
<circle cx="460.00" cy="196.70" r="2.6" fill="url(#sp7)"/>
<circle cx="464.00" cy="199.20" r="2.3" fill="url(#sp8)"/>
<circle cx="397.00" cy="202.00" r="2.7" fill="url(#sp7)"/>
<circle cx="401.00" cy="204.50" r="2.4" fill="url(#sp8)"/>
<circle cx="405.00" cy="202.15" r="2.7" fill="url(#sp7)"/>
<circle cx="409.00" cy="204.65" r="2.4" fill="url(#sp8)"/>
<circle cx="413.00" cy="202.30" r="2.7" fill="url(#sp7)"/>
<circle cx="417.00" cy="204.80" r="2.4" fill="url(#sp8)"/>
<circle cx="421.00" cy="202.45" r="2.7" fill="url(#sp7)"/>
<circle cx="425.00" cy="204.95" r="2.4" fill="url(#sp8)"/>
<circle cx="429.00" cy="202.60" r="2.7" fill="url(#sp7)"/>
<circle cx="433.00" cy="205.10" r="2.4" fill="url(#sp8)"/>
<circle cx="437.00" cy="202.75" r="2.7" fill="url(#sp7)"/>
<circle cx="441.00" cy="205.25" r="2.4" fill="url(#sp8)"/>
<circle cx="445.00" cy="202.90" r="2.7" fill="url(#sp7)"/>
<circle cx="449.00" cy="205.40" r="2.4" fill="url(#sp8)"/>
<circle cx="453.00" cy="203.05" r="2.7" fill="url(#sp7)"/>
<circle cx="457.00" cy="205.55" r="2.4" fill="url(#sp8)"/>
<circle cx="461.00" cy="203.20" r="2.7" fill="url(#sp7)"/>
<circle cx="465.00" cy="205.70" r="2.4" fill="url(#sp8)"/>
<circle cx="400.00" cy="208.50" r="2.6" fill="url(#sp7)"/>
<circle cx="408.00" cy="208.65" r="2.6" fill="url(#sp7)"/>
<circle cx="416.00" cy="208.80" r="2.6" fill="url(#sp7)"/>
<circle cx="424.00" cy="208.95" r="2.6" fill="url(#sp7)"/>
<circle cx="432.00" cy="209.10" r="2.6" fill="url(#sp7)"/>
<circle cx="440.00" cy="209.25" r="2.6" fill="url(#sp7)"/>
<circle cx="448.00" cy="209.40" r="2.6" fill="url(#sp7)"/>
<circle cx="456.00" cy="209.55" r="2.6" fill="url(#sp7)"/>
<line x1="415.00" y1="209.00" x2="415.00" y2="216.20" stroke="#ff1493" stroke-width="1.8" stroke-linecap="round"/>
<circle cx="415.00" cy="216.20" r="2.6" fill="url(#sp7)"/>
<line x1="436.20" y1="209.00" x2="436.20" y2="217.00" stroke="#ff1493" stroke-width="1.8" stroke-linecap="round"/>
<circle cx="436.20" cy="217.00" r="2.6" fill="url(#sp7)"/>
<line x1="457.40" y1="209.00" x2="457.40" y2="218.40" stroke="#ff1493" stroke-width="1.8" stroke-linecap="round"/>
<circle cx="457.40" cy="218.40" r="2.6" fill="url(#sp7)"/>
<circle cx="426.04" cy="138.00" r="2.55" fill="url(#sp4)"/>
<circle cx="432.00" cy="139.13" r="2.55" fill="url(#sp4)"/>
<circle cx="420.59" cy="140.85" r="2.55" fill="url(#sp4)"/>
<circle cx="436.21" cy="143.80" r="2.55" fill="url(#sp4)"/>
<circle cx="423.86" cy="144.51" r="2.55" fill="url(#sp4)"/>
<circle cx="430.94" cy="144.51" r="2.55" fill="url(#sp4)"/>
<circle cx="417.75" cy="146.58" r="2.55" fill="url(#sp4)"/>
<line x1="427.40" y1="148.40" x2="432.16" y2="150.65" stroke="#1a8fd6" stroke-width="1.8" stroke-linecap="round"/>
<line x1="427.40" y1="148.40" x2="427.40" y2="152.90" stroke="#1a8fd6" stroke-width="1.8" stroke-linecap="round"/>
<line x1="427.40" y1="148.40" x2="422.64" y2="150.65" stroke="#1a8fd6" stroke-width="1.8" stroke-linecap="round"/>
<line x1="427.40" y1="148.40" x2="422.64" y2="146.15" stroke="#1a8fd6" stroke-width="1.8" stroke-linecap="round"/>
<line x1="427.40" y1="148.40" x2="427.40" y2="143.90" stroke="#1a8fd6" stroke-width="1.8" stroke-linecap="round"/>
<line x1="427.40" y1="148.40" x2="432.16" y2="146.15" stroke="#1a8fd6" stroke-width="1.8" stroke-linecap="round"/>
<circle cx="427.40" cy="148.40" r="3.4" fill="url(#sp8)"/>
<circle cx="437.05" cy="150.22" r="2.55" fill="url(#sp4)"/>
<circle cx="430.94" cy="152.29" r="2.55" fill="url(#sp4)"/>
<circle cx="423.86" cy="152.29" r="2.55" fill="url(#sp4)"/>
<circle cx="418.59" cy="153.00" r="2.55" fill="url(#sp4)"/>
<circle cx="434.21" cy="155.95" r="2.55" fill="url(#sp4)"/>
<circle cx="422.80" cy="157.67" r="2.55" fill="url(#sp4)"/>
<circle cx="428.76" cy="158.80" r="2.55" fill="url(#sp4)"/>
<circle cx="445.94" cy="138.00" r="2.55" fill="url(#sp4)"/>
<circle cx="451.90" cy="139.13" r="2.55" fill="url(#sp4)"/>
<circle cx="440.49" cy="140.85" r="2.55" fill="url(#sp4)"/>
<circle cx="456.11" cy="143.80" r="2.55" fill="url(#sp4)"/>
<circle cx="443.76" cy="144.51" r="2.55" fill="url(#sp4)"/>
<circle cx="450.84" cy="144.51" r="2.55" fill="url(#sp4)"/>
<circle cx="437.65" cy="146.58" r="2.55" fill="url(#sp4)"/>
<line x1="447.30" y1="148.40" x2="452.06" y2="150.65" stroke="#1a8fd6" stroke-width="1.8" stroke-linecap="round"/>
<line x1="447.30" y1="148.40" x2="447.30" y2="152.90" stroke="#1a8fd6" stroke-width="1.8" stroke-linecap="round"/>
<line x1="447.30" y1="148.40" x2="442.54" y2="150.65" stroke="#1a8fd6" stroke-width="1.8" stroke-linecap="round"/>
<line x1="447.30" y1="148.40" x2="442.54" y2="146.15" stroke="#1a8fd6" stroke-width="1.8" stroke-linecap="round"/>
<line x1="447.30" y1="148.40" x2="447.30" y2="143.90" stroke="#1a8fd6" stroke-width="1.8" stroke-linecap="round"/>
<line x1="447.30" y1="148.40" x2="452.06" y2="146.15" stroke="#1a8fd6" stroke-width="1.8" stroke-linecap="round"/>
<circle cx="447.30" cy="148.40" r="3.4" fill="url(#sp8)"/>
<circle cx="456.95" cy="150.22" r="2.55" fill="url(#sp4)"/>
<circle cx="450.84" cy="152.29" r="2.55" fill="url(#sp4)"/>
<circle cx="443.76" cy="152.29" r="2.55" fill="url(#sp4)"/>
<circle cx="438.49" cy="153.00" r="2.55" fill="url(#sp4)"/>
<circle cx="454.11" cy="155.95" r="2.55" fill="url(#sp4)"/>
<circle cx="442.70" cy="157.67" r="2.55" fill="url(#sp4)"/>
<circle cx="448.66" cy="158.80" r="2.55" fill="url(#sp4)"/>
<circle cx="436.74" cy="155.90" r="2.55" fill="url(#sp4)"/>
<circle cx="442.70" cy="157.03" r="2.55" fill="url(#sp4)"/>
<circle cx="431.29" cy="158.75" r="2.55" fill="url(#sp4)"/>
<circle cx="446.91" cy="161.70" r="2.55" fill="url(#sp4)"/>
<circle cx="434.56" cy="162.41" r="2.55" fill="url(#sp4)"/>
<circle cx="441.64" cy="162.41" r="2.55" fill="url(#sp4)"/>
<circle cx="428.45" cy="164.48" r="2.55" fill="url(#sp4)"/>
<line x1="438.10" y1="166.30" x2="442.86" y2="168.55" stroke="#1a8fd6" stroke-width="1.8" stroke-linecap="round"/>
<line x1="438.10" y1="166.30" x2="438.10" y2="170.80" stroke="#1a8fd6" stroke-width="1.8" stroke-linecap="round"/>
<line x1="438.10" y1="166.30" x2="433.34" y2="168.55" stroke="#1a8fd6" stroke-width="1.8" stroke-linecap="round"/>
<line x1="438.10" y1="166.30" x2="433.34" y2="164.05" stroke="#1a8fd6" stroke-width="1.8" stroke-linecap="round"/>
<line x1="438.10" y1="166.30" x2="438.10" y2="161.80" stroke="#1a8fd6" stroke-width="1.8" stroke-linecap="round"/>
<line x1="438.10" y1="166.30" x2="442.86" y2="164.05" stroke="#1a8fd6" stroke-width="1.8" stroke-linecap="round"/>
<circle cx="438.10" cy="166.30" r="3.4" fill="url(#sp8)"/>
<circle cx="447.75" cy="168.12" r="2.55" fill="url(#sp4)"/>
<circle cx="441.64" cy="170.19" r="2.55" fill="url(#sp4)"/>
<circle cx="434.56" cy="170.19" r="2.55" fill="url(#sp4)"/>
<circle cx="429.29" cy="170.90" r="2.55" fill="url(#sp4)"/>
<circle cx="444.91" cy="173.85" r="2.55" fill="url(#sp4)"/>
<circle cx="433.50" cy="175.57" r="2.55" fill="url(#sp4)"/>
<circle cx="439.46" cy="176.70" r="2.55" fill="url(#sp4)"/>
<circle cx="457.24" cy="155.90" r="2.55" fill="url(#sp4)"/>
<circle cx="463.20" cy="157.03" r="2.55" fill="url(#sp4)"/>
<circle cx="451.79" cy="158.75" r="2.55" fill="url(#sp4)"/>
<circle cx="467.41" cy="161.70" r="2.55" fill="url(#sp4)"/>
<circle cx="455.06" cy="162.41" r="2.55" fill="url(#sp4)"/>
<circle cx="462.14" cy="162.41" r="2.55" fill="url(#sp4)"/>
<circle cx="448.95" cy="164.48" r="2.55" fill="url(#sp4)"/>
<line x1="458.60" y1="166.30" x2="463.36" y2="168.55" stroke="#1a8fd6" stroke-width="1.8" stroke-linecap="round"/>
<line x1="458.60" y1="166.30" x2="458.60" y2="170.80" stroke="#1a8fd6" stroke-width="1.8" stroke-linecap="round"/>
<line x1="458.60" y1="166.30" x2="453.84" y2="168.55" stroke="#1a8fd6" stroke-width="1.8" stroke-linecap="round"/>
<line x1="458.60" y1="166.30" x2="453.84" y2="164.05" stroke="#1a8fd6" stroke-width="1.8" stroke-linecap="round"/>
<line x1="458.60" y1="166.30" x2="458.60" y2="161.80" stroke="#1a8fd6" stroke-width="1.8" stroke-linecap="round"/>
<line x1="458.60" y1="166.30" x2="463.36" y2="164.05" stroke="#1a8fd6" stroke-width="1.8" stroke-linecap="round"/>
<circle cx="458.60" cy="166.30" r="3.4" fill="url(#sp8)"/>
<circle cx="468.25" cy="168.12" r="2.55" fill="url(#sp4)"/>
<circle cx="462.14" cy="170.19" r="2.55" fill="url(#sp4)"/>
<circle cx="455.06" cy="170.19" r="2.55" fill="url(#sp4)"/>
<circle cx="449.79" cy="170.90" r="2.55" fill="url(#sp4)"/>
<circle cx="465.41" cy="173.85" r="2.55" fill="url(#sp4)"/>
<circle cx="454.00" cy="175.57" r="2.55" fill="url(#sp4)"/>
<circle cx="459.96" cy="176.70" r="2.55" fill="url(#sp4)"/>
<line x1="563.00" y1="141.39" x2="561.00" y2="146.39" stroke="#e8784e" stroke-width="1.2" stroke-linecap="round"/>
<line x1="616.39" y1="123.27" x2="614.39" y2="128.27" stroke="#e8784e" stroke-width="1.2" stroke-linecap="round"/>
<line x1="551.20" y1="132.44" x2="558.10" y2="134.42" stroke="#e8784e" stroke-width="1.2" stroke-linecap="round"/>
<line x1="609.49" y1="121.29" x2="616.39" y2="123.27" stroke="#e8784e" stroke-width="1.2" stroke-linecap="round"/>
<line x1="583.69" y1="147.32" x2="581.70" y2="152.32" stroke="#e8784e" stroke-width="1.2" stroke-linecap="round"/>
<line x1="588.60" y1="154.30" x2="597.50" y2="151.28" stroke="#e8784e" stroke-width="1.2" stroke-linecap="round"/>
<line x1="583.69" y1="147.32" x2="592.59" y2="144.30" stroke="#e8784e" stroke-width="1.2" stroke-linecap="round"/>
<line x1="611.49" y1="116.29" x2="609.49" y2="121.29" stroke="#e8784e" stroke-width="1.2" stroke-linecap="round"/>
<line x1="581.70" y1="152.32" x2="588.60" y2="154.30" stroke="#e8784e" stroke-width="1.2" stroke-linecap="round"/>
<line x1="562.10" y1="124.42" x2="569.00" y2="126.40" stroke="#e8784e" stroke-width="1.2" stroke-linecap="round"/>
<line x1="594.59" y1="139.31" x2="603.49" y2="136.29" stroke="#e8784e" stroke-width="1.2" stroke-linecap="round"/>
<line x1="552.10" y1="149.41" x2="550.11" y2="154.41" stroke="#e8784e" stroke-width="1.2" stroke-linecap="round"/>
<line x1="564.10" y1="119.42" x2="573.00" y2="116.40" stroke="#e8784e" stroke-width="1.2" stroke-linecap="round"/>
<line x1="584.80" y1="125.35" x2="582.80" y2="130.35" stroke="#e8784e" stroke-width="1.2" stroke-linecap="round"/>
<line x1="573.00" y1="116.40" x2="579.90" y2="118.38" stroke="#e8784e" stroke-width="1.2" stroke-linecap="round"/>
<line x1="588.80" y1="115.36" x2="595.69" y2="117.34" stroke="#e8784e" stroke-width="1.2" stroke-linecap="round"/>
<line x1="589.69" y1="132.33" x2="587.69" y2="137.33" stroke="#e8784e" stroke-width="1.2" stroke-linecap="round"/>
<line x1="604.59" y1="114.32" x2="611.49" y2="116.29" stroke="#e8784e" stroke-width="1.2" stroke-linecap="round"/>
<line x1="582.80" y1="130.35" x2="589.69" y2="132.33" stroke="#e8784e" stroke-width="1.2" stroke-linecap="round"/>
<line x1="550.11" y1="154.41" x2="557.01" y2="156.38" stroke="#e8784e" stroke-width="1.2" stroke-linecap="round"/>
<line x1="599.49" y1="146.28" x2="597.50" y2="151.28" stroke="#e8784e" stroke-width="1.2" stroke-linecap="round"/>
<line x1="589.69" y1="132.33" x2="598.59" y2="129.31" stroke="#e8784e" stroke-width="1.2" stroke-linecap="round"/>
<line x1="594.59" y1="139.31" x2="592.59" y2="144.30" stroke="#e8784e" stroke-width="1.2" stroke-linecap="round"/>
<line x1="573.90" y1="133.37" x2="571.90" y2="138.37" stroke="#e8784e" stroke-width="1.2" stroke-linecap="round"/>
<line x1="577.90" y1="123.38" x2="584.80" y2="125.35" stroke="#e8784e" stroke-width="1.2" stroke-linecap="round"/>
<line x1="561.00" y1="146.39" x2="567.90" y2="148.37" stroke="#e8784e" stroke-width="1.2" stroke-linecap="round"/>
<line x1="553.20" y1="127.44" x2="551.20" y2="132.44" stroke="#e8784e" stroke-width="1.2" stroke-linecap="round"/>
<line x1="587.69" y1="137.33" x2="594.59" y2="139.31" stroke="#e8784e" stroke-width="1.2" stroke-linecap="round"/>
<line x1="610.39" y1="138.26" x2="619.29" y2="135.24" stroke="#e8784e" stroke-width="1.2" stroke-linecap="round"/>
<line x1="576.80" y1="145.35" x2="583.69" y2="147.32" stroke="#e8784e" stroke-width="1.2" stroke-linecap="round"/>
<line x1="603.49" y1="136.29" x2="610.39" y2="138.26" stroke="#e8784e" stroke-width="1.2" stroke-linecap="round"/>
<line x1="592.59" y1="144.30" x2="599.49" y2="146.28" stroke="#e8784e" stroke-width="1.2" stroke-linecap="round"/>
<line x1="579.90" y1="118.38" x2="588.80" y2="115.36" stroke="#e8784e" stroke-width="1.2" stroke-linecap="round"/>
<line x1="567.00" y1="131.40" x2="573.90" y2="133.37" stroke="#e8784e" stroke-width="1.2" stroke-linecap="round"/>
<line x1="610.39" y1="138.26" x2="608.39" y2="143.26" stroke="#e8784e" stroke-width="1.2" stroke-linecap="round"/>
<line x1="595.69" y1="117.34" x2="593.69" y2="122.34" stroke="#e8784e" stroke-width="1.2" stroke-linecap="round"/>
<line x1="593.69" y1="122.34" x2="600.59" y2="124.31" stroke="#e8784e" stroke-width="1.2" stroke-linecap="round"/>
<line x1="578.80" y1="140.35" x2="587.69" y2="137.33" stroke="#e8784e" stroke-width="1.2" stroke-linecap="round"/>
<line x1="552.10" y1="149.41" x2="561.00" y2="146.39" stroke="#e8784e" stroke-width="1.2" stroke-linecap="round"/>
<line x1="605.49" y1="131.29" x2="614.39" y2="128.27" stroke="#e8784e" stroke-width="1.2" stroke-linecap="round"/>
<line x1="547.20" y1="142.43" x2="545.20" y2="147.43" stroke="#e8784e" stroke-width="1.2" stroke-linecap="round"/>
<line x1="578.80" y1="140.35" x2="576.80" y2="145.35" stroke="#e8784e" stroke-width="1.2" stroke-linecap="round"/>
<line x1="584.80" y1="125.35" x2="593.69" y2="122.34" stroke="#e8784e" stroke-width="1.2" stroke-linecap="round"/>
<line x1="599.49" y1="146.28" x2="608.39" y2="143.26" stroke="#e8784e" stroke-width="1.2" stroke-linecap="round"/>
<line x1="565.91" y1="153.36" x2="572.81" y2="155.34" stroke="#e8784e" stroke-width="1.2" stroke-linecap="round"/>
<line x1="598.59" y1="129.31" x2="605.49" y2="131.29" stroke="#e8784e" stroke-width="1.2" stroke-linecap="round"/>
<line x1="621.29" y1="130.25" x2="619.29" y2="135.24" stroke="#e8784e" stroke-width="1.2" stroke-linecap="round"/>
<line x1="579.90" y1="118.38" x2="577.90" y2="123.38" stroke="#e8784e" stroke-width="1.2" stroke-linecap="round"/>
<line x1="547.20" y1="142.43" x2="556.10" y2="139.41" stroke="#e8784e" stroke-width="1.2" stroke-linecap="round"/>
<line x1="558.10" y1="134.42" x2="567.00" y2="131.40" stroke="#e8784e" stroke-width="1.2" stroke-linecap="round"/>
<line x1="563.00" y1="141.39" x2="571.90" y2="138.37" stroke="#e8784e" stroke-width="1.2" stroke-linecap="round"/>
<line x1="600.59" y1="124.31" x2="598.59" y2="129.31" stroke="#e8784e" stroke-width="1.2" stroke-linecap="round"/>
<line x1="567.90" y1="148.37" x2="576.80" y2="145.35" stroke="#e8784e" stroke-width="1.2" stroke-linecap="round"/>
<line x1="557.01" y1="156.38" x2="565.91" y2="153.36" stroke="#e8784e" stroke-width="1.2" stroke-linecap="round"/>
<line x1="558.10" y1="134.42" x2="556.10" y2="139.41" stroke="#e8784e" stroke-width="1.2" stroke-linecap="round"/>
<line x1="569.00" y1="126.40" x2="577.90" y2="123.38" stroke="#e8784e" stroke-width="1.2" stroke-linecap="round"/>
<line x1="572.81" y1="155.34" x2="581.70" y2="152.32" stroke="#e8784e" stroke-width="1.2" stroke-linecap="round"/>
<line x1="569.00" y1="126.40" x2="567.00" y2="131.40" stroke="#e8784e" stroke-width="1.2" stroke-linecap="round"/>
<line x1="556.10" y1="139.41" x2="563.00" y2="141.39" stroke="#e8784e" stroke-width="1.2" stroke-linecap="round"/>
<line x1="614.39" y1="128.27" x2="621.29" y2="130.25" stroke="#e8784e" stroke-width="1.2" stroke-linecap="round"/>
<line x1="595.69" y1="117.34" x2="604.59" y2="114.32" stroke="#e8784e" stroke-width="1.2" stroke-linecap="round"/>
<line x1="600.59" y1="124.31" x2="609.49" y2="121.29" stroke="#e8784e" stroke-width="1.2" stroke-linecap="round"/>
<line x1="553.20" y1="127.44" x2="562.10" y2="124.42" stroke="#e8784e" stroke-width="1.2" stroke-linecap="round"/>
<line x1="573.90" y1="133.37" x2="582.80" y2="130.35" stroke="#e8784e" stroke-width="1.2" stroke-linecap="round"/>
<line x1="605.49" y1="131.29" x2="603.49" y2="136.29" stroke="#e8784e" stroke-width="1.2" stroke-linecap="round"/>
<line x1="567.90" y1="148.37" x2="565.91" y2="153.36" stroke="#e8784e" stroke-width="1.2" stroke-linecap="round"/>
<line x1="571.90" y1="138.37" x2="578.80" y2="140.35" stroke="#e8784e" stroke-width="1.2" stroke-linecap="round"/>
<line x1="564.10" y1="119.42" x2="562.10" y2="124.42" stroke="#e8784e" stroke-width="1.2" stroke-linecap="round"/>
<line x1="545.20" y1="147.43" x2="552.10" y2="149.41" stroke="#e8784e" stroke-width="1.2" stroke-linecap="round"/>
<circle cx="604.59" cy="114.32" r="2.75" fill="url(#sp9)"/>
<circle cx="588.80" cy="115.36" r="2.75" fill="url(#sp9)"/>
<circle cx="611.49" cy="116.29" r="2.75" fill="url(#sp10)"/>
<circle cx="573.00" cy="116.40" r="2.75" fill="url(#sp9)"/>
<circle cx="595.69" cy="117.34" r="2.75" fill="url(#sp10)"/>
<circle cx="579.90" cy="118.38" r="2.75" fill="url(#sp10)"/>
<circle cx="564.10" cy="119.42" r="2.75" fill="url(#sp10)"/>
<circle cx="609.49" cy="121.29" r="2.75" fill="url(#sp9)"/>
<circle cx="593.69" cy="122.34" r="2.75" fill="url(#sp9)"/>
<circle cx="616.39" cy="123.27" r="2.75" fill="url(#sp10)"/>
<circle cx="577.90" cy="123.38" r="2.75" fill="url(#sp9)"/>
<circle cx="600.59" cy="124.31" r="2.75" fill="url(#sp10)"/>
<circle cx="562.10" cy="124.42" r="2.75" fill="url(#sp9)"/>
<circle cx="584.80" cy="125.35" r="2.75" fill="url(#sp10)"/>
<circle cx="569.00" cy="126.40" r="2.75" fill="url(#sp10)"/>
<circle cx="553.20" cy="127.44" r="2.75" fill="url(#sp10)"/>
<circle cx="614.39" cy="128.27" r="2.75" fill="url(#sp9)"/>
<circle cx="598.59" cy="129.31" r="2.75" fill="url(#sp9)"/>
<circle cx="621.29" cy="130.25" r="2.75" fill="url(#sp10)"/>
<circle cx="582.80" cy="130.35" r="2.75" fill="url(#sp9)"/>
<circle cx="605.49" cy="131.29" r="2.75" fill="url(#sp10)"/>
<circle cx="567.00" cy="131.40" r="2.75" fill="url(#sp9)"/>
<circle cx="589.69" cy="132.33" r="2.75" fill="url(#sp10)"/>
<circle cx="551.20" cy="132.44" r="2.75" fill="url(#sp9)"/>
<circle cx="573.90" cy="133.37" r="2.75" fill="url(#sp10)"/>
<circle cx="558.10" cy="134.42" r="2.75" fill="url(#sp10)"/>
<circle cx="619.29" cy="135.24" r="2.75" fill="url(#sp9)"/>
<circle cx="603.49" cy="136.29" r="2.75" fill="url(#sp9)"/>
<circle cx="587.69" cy="137.33" r="2.75" fill="url(#sp9)"/>
<circle cx="610.39" cy="138.26" r="2.75" fill="url(#sp10)"/>
<circle cx="571.90" cy="138.37" r="2.75" fill="url(#sp9)"/>
<circle cx="594.59" cy="139.31" r="2.75" fill="url(#sp10)"/>
<circle cx="556.10" cy="139.41" r="2.75" fill="url(#sp9)"/>
<circle cx="578.80" cy="140.35" r="2.75" fill="url(#sp10)"/>
<circle cx="563.00" cy="141.39" r="2.75" fill="url(#sp10)"/>
<circle cx="547.20" cy="142.43" r="2.75" fill="url(#sp10)"/>
<circle cx="608.39" cy="143.26" r="2.75" fill="url(#sp9)"/>
<circle cx="592.59" cy="144.30" r="2.75" fill="url(#sp9)"/>
<circle cx="576.80" cy="145.35" r="2.75" fill="url(#sp9)"/>
<circle cx="599.49" cy="146.28" r="2.75" fill="url(#sp10)"/>
<circle cx="561.00" cy="146.39" r="2.75" fill="url(#sp9)"/>
<circle cx="583.69" cy="147.32" r="2.75" fill="url(#sp10)"/>
<circle cx="545.20" cy="147.43" r="2.75" fill="url(#sp9)"/>
<circle cx="567.90" cy="148.37" r="2.75" fill="url(#sp10)"/>
<circle cx="552.10" cy="149.41" r="2.75" fill="url(#sp10)"/>
<circle cx="597.50" cy="151.28" r="2.75" fill="url(#sp9)"/>
<circle cx="581.70" cy="152.32" r="2.75" fill="url(#sp9)"/>
<circle cx="565.91" cy="153.36" r="2.75" fill="url(#sp9)"/>
<circle cx="588.60" cy="154.30" r="2.75" fill="url(#sp10)"/>
<circle cx="550.11" cy="154.41" r="2.75" fill="url(#sp9)"/>
<circle cx="572.81" cy="155.34" r="2.75" fill="url(#sp10)"/>
<circle cx="557.01" cy="156.38" r="2.75" fill="url(#sp10)"/>
<text x="331.90" y="135.60" font-size="12.2" fill="#d5532c" textLength="71.60" lengthAdjust="spacingAndGlyphs">TiS<tspan font-size="0.72em" dy="3">3</tspan><tspan dy="-3"> structure</tspan></text>
<text x="432.30" y="126.50" font-size="12.2" fill="#8d3283" textLength="95.60" lengthAdjust="spacingAndGlyphs">Boron Nitride (BN)</text>
<text x="183.60" y="165.00" font-size="12.2" fill="#2c62a3" textLength="68.60" lengthAdjust="spacingAndGlyphs">Zn, Ti and Hf</text>
<text x="183.60" y="178.90" font-size="12.2" fill="#2c62a3" textLength="93.30" lengthAdjust="spacingAndGlyphs">Tri-chalcogenides</text>
<text x="286.60" y="198.40" font-size="12.2" fill="#8d3283" textLength="55.00" lengthAdjust="spacingAndGlyphs">ReSe<tspan font-size="0.72em" dy="3">2</tspan><tspan dy="-3"> like</tspan></text>
<text x="286.60" y="212.30" font-size="12.2" fill="#8d3283" textLength="46.00" lengthAdjust="spacingAndGlyphs">structure</text>
<text x="469.00" y="203.20" font-size="12.2" fill="#2c62a3" textLength="18.50" lengthAdjust="spacingAndGlyphs">Re-</text>
<text x="469.00" y="217.60" font-size="12.2" fill="#2c62a3" textLength="84.70" lengthAdjust="spacingAndGlyphs">dichalcogenides</text>
<text x="183.60" y="234.40" font-size="12.2" fill="#8d3283" textLength="18.00" lengthAdjust="spacingAndGlyphs">Sn-</text>
<text x="183.60" y="248.20" font-size="12.2" fill="#8d3283" textLength="84.70" lengthAdjust="spacingAndGlyphs">dichalcogenides</text>
<text x="422.00" y="236.40" font-size="12.2" fill="#8d3283" textLength="96.40" lengthAdjust="spacingAndGlyphs">SnS<tspan font-size="0.72em" dy="3">2</tspan><tspan dy="-3"> like structure</tspan></text>
<text x="310.40" y="262.50" font-size="12.2" fill="#d5532c" textLength="94.60" lengthAdjust="spacingAndGlyphs">InSe like structure</text>
<text x="544.20" y="256.70" font-size="12.2" fill="#2c62a3" textLength="66.50" lengthAdjust="spacingAndGlyphs">Ga and InSe</text>
<text x="544.20" y="270.70" font-size="12.2" fill="#2c62a3" textLength="99.30" lengthAdjust="spacingAndGlyphs">monochalcogenide</text>
<text x="544.20" y="284.60" font-size="12.2" fill="#2c62a3">s</text>
<text x="275.30" y="304.60" font-size="12.2" fill="#2c62a3" textLength="92.90" lengthAdjust="spacingAndGlyphs">SnS like structure</text>
<text x="488.00" y="305.50" font-size="11" fill="#3a3a3a" textLength="27.00" lengthAdjust="spacingAndGlyphs">In<tspan font-size="0.72em" dy="3">2</tspan><tspan dy="-3">Se</tspan><tspan font-size="0.72em" dy="3">3</tspan></text>
<rect x="483.8" y="285.5" width="40.7" height="16.5" fill="#fff"/>
<text x="489.00" y="297.30" font-size="12.2" fill="#2c62a3" textLength="33.00" lengthAdjust="spacingAndGlyphs">In<tspan font-size="0.72em" dy="3">2</tspan><tspan dy="-3">Se</tspan><tspan font-size="0.72em" dy="3">3</tspan></text>
<text x="254.30" y="325.60" font-size="12.2" fill="#8d3283" text-anchor="end" textLength="36.50" lengthAdjust="spacingAndGlyphs">Sn, Ge</text>
<text x="254.30" y="339.90" font-size="12.2" fill="#8d3283" text-anchor="end" textLength="105.20" lengthAdjust="spacingAndGlyphs">monochalcogenides</text>
<text x="58.50" y="388.00" font-size="12.2" fill="#d5532c" textLength="107.30" lengthAdjust="spacingAndGlyphs">Graphene, Stanene,</text>
<text x="58.50" y="402.20" font-size="12.2" fill="#d5532c" textLength="42.00" lengthAdjust="spacingAndGlyphs">Silicene</text>
<text x="181.00" y="382.00" font-size="12.2" fill="#2c62a3" textLength="122.80" lengthAdjust="spacingAndGlyphs">Black Phosphorus (BP)</text>
<text x="456.80" y="364.90" font-size="12.2" fill="#d5532c" textLength="130.40" lengthAdjust="spacingAndGlyphs">W &amp; Mo dichalcogenides</text>
<text x="449.00" y="400.70" font-size="12.2" fill="#8d3283" textLength="105.30" lengthAdjust="spacingAndGlyphs">MoSe<tspan font-size="0.72em" dy="3">2</tspan><tspan dy="-3"> like structure</tspan></text>
<rect x="3.2" y="541.3" width="679.8" height="509" rx="22" ry="22" fill="none" stroke="#8b0a8b" stroke-width="2.2"/>
<text x="18.30" y="567.80" font-size="28" fill="#000" font-weight="bold" textLength="33.60" lengthAdjust="spacingAndGlyphs">(b)</text>
<rect x="103.32" y="829.60" width="13.60" height="153.00" fill="url(#gGr)" stroke="#22a8ae" stroke-width="1.1"/>
<rect x="118.97" y="784.60" width="13.60" height="198.00" fill="url(#gGr)" stroke="#22a8ae" stroke-width="1.1"/>
<rect x="134.62" y="750.50" width="13.60" height="232.10" fill="url(#gGr)" stroke="#22a8ae" stroke-width="1.1"/>
<rect x="150.27" y="803.80" width="13.60" height="178.80" fill="url(#gGr)" stroke="#22a8ae" stroke-width="1.1"/>
<rect x="165.91" y="758.40" width="13.60" height="224.20" fill="url(#gGr)" stroke="#22a8ae" stroke-width="1.1"/>
<rect x="181.56" y="727.20" width="13.60" height="255.40" fill="url(#gGr)" stroke="#22a8ae" stroke-width="1.1"/>
<rect x="197.21" y="866.90" width="13.60" height="115.70" fill="url(#gGr)" stroke="#22a8ae" stroke-width="1.1"/>
<rect x="212.85" y="799.70" width="13.60" height="182.90" fill="url(#gGr)" stroke="#22a8ae" stroke-width="1.1"/>
<rect x="228.50" y="863.20" width="13.60" height="119.40" fill="url(#gGr)" stroke="#22a8ae" stroke-width="1.1"/>
<rect x="244.15" y="796.00" width="13.60" height="186.60" fill="url(#gGr)" stroke="#22a8ae" stroke-width="1.1"/>
<rect x="259.80" y="914.60" width="13.60" height="68.00" fill="url(#gGr)" stroke="#22a8ae" stroke-width="1.1"/>
<rect x="275.44" y="831.00" width="13.60" height="151.60" fill="url(#gGr)" stroke="#22a8ae" stroke-width="1.1"/>
<rect x="291.09" y="804.40" width="13.60" height="178.20" fill="url(#gGr)" stroke="#22a8ae" stroke-width="1.1"/>
<rect x="306.74" y="768.20" width="13.60" height="214.40" fill="url(#gGr)" stroke="#22a8ae" stroke-width="1.1"/>
<rect x="322.38" y="834.00" width="13.60" height="148.60" fill="url(#gGr)" stroke="#22a8ae" stroke-width="1.1"/>
<rect x="338.03" y="806.10" width="13.60" height="176.50" fill="url(#gGr)" stroke="#22a8ae" stroke-width="1.1"/>
<rect x="353.68" y="768.50" width="13.60" height="214.10" fill="url(#gGr)" stroke="#22a8ae" stroke-width="1.1"/>
<rect x="369.33" y="739.60" width="13.60" height="243.00" fill="url(#gGr)" stroke="#22a8ae" stroke-width="1.1"/>
<rect x="384.97" y="844.70" width="13.60" height="137.90" fill="url(#gGr)" stroke="#22a8ae" stroke-width="1.1"/>
<rect x="400.62" y="791.70" width="13.60" height="190.90" fill="url(#gGr)" stroke="#22a8ae" stroke-width="1.1"/>
<rect x="416.27" y="806.80" width="13.60" height="175.80" fill="url(#gGr)" stroke="#22a8ae" stroke-width="1.1"/>
<rect x="431.92" y="761.80" width="13.60" height="220.80" fill="url(#gGr)" stroke="#22a8ae" stroke-width="1.1"/>
<rect x="447.56" y="769.90" width="13.60" height="212.70" fill="url(#gGr)" stroke="#22a8ae" stroke-width="1.1"/>
<rect x="463.21" y="778.30" width="13.60" height="204.30" fill="url(#gGr)" stroke="#22a8ae" stroke-width="1.1"/>
<rect x="478.86" y="833.40" width="13.60" height="149.20" fill="url(#gGr)" stroke="#22a8ae" stroke-width="1.1"/>
<rect x="494.50" y="774.60" width="13.60" height="208.00" fill="url(#gGr)" stroke="#22a8ae" stroke-width="1.1"/>
<rect x="510.15" y="795.60" width="13.60" height="187.00" fill="url(#gGr)" stroke="#22a8ae" stroke-width="1.1"/>
<rect x="525.80" y="745.20" width="13.60" height="237.40" fill="url(#gGr)" stroke="#22a8ae" stroke-width="1.1"/>
<rect x="541.45" y="755.50" width="13.60" height="227.10" fill="url(#gGr)" stroke="#22a8ae" stroke-width="1.1"/>
<rect x="557.09" y="725.30" width="13.60" height="257.30" fill="url(#gGr)" stroke="#22a8ae" stroke-width="1.1"/>
<rect x="572.74" y="821.40" width="13.60" height="161.20" fill="url(#gGr)" stroke="#22a8ae" stroke-width="1.1"/>
<rect x="588.39" y="790.80" width="13.60" height="191.80" fill="url(#gGr)" stroke="#22a8ae" stroke-width="1.1"/>
<rect x="604.03" y="754.50" width="13.60" height="228.10" fill="url(#gGr)" stroke="#22a8ae" stroke-width="1.1"/>
<rect x="619.68" y="746.80" width="13.60" height="235.80" fill="url(#gGr)" stroke="#22a8ae" stroke-width="1.1"/>
<rect x="635.33" y="729.70" width="13.60" height="252.90" fill="url(#gGr)" stroke="#22a8ae" stroke-width="1.1"/>
<rect x="650.98" y="719.60" width="13.60" height="263.00" fill="url(#gGr)" stroke="#22a8ae" stroke-width="1.1"/>
<rect x="104.32" y="589.40" width="11.60" height="126.00" fill="url(#gOr)" stroke="#a9a23c" stroke-width="1.1"/>
<rect x="119.97" y="589.40" width="11.60" height="98.90" fill="url(#gOr)" stroke="#a9a23c" stroke-width="1.1"/>
<rect x="135.62" y="589.40" width="11.60" height="91.40" fill="url(#gOr)" stroke="#a9a23c" stroke-width="1.1"/>
<rect x="151.27" y="589.40" width="11.60" height="102.90" fill="url(#gOr)" stroke="#a9a23c" stroke-width="1.1"/>
<rect x="166.91" y="589.40" width="11.60" height="74.40" fill="url(#gOr)" stroke="#a9a23c" stroke-width="1.1"/>
<rect x="182.56" y="589.40" width="11.60" height="81.40" fill="url(#gOr)" stroke="#a9a23c" stroke-width="1.1"/>
<rect x="198.21" y="589.40" width="11.60" height="200.60" fill="url(#gOr)" stroke="#a9a23c" stroke-width="1.1"/>
<rect x="213.85" y="589.40" width="11.60" height="189.50" fill="url(#gOr)" stroke="#a9a23c" stroke-width="1.1"/>
<rect x="229.50" y="589.40" width="11.60" height="185.80" fill="url(#gOr)" stroke="#a9a23c" stroke-width="1.1"/>
<rect x="245.15" y="589.40" width="11.60" height="174.40" fill="url(#gOr)" stroke="#a9a23c" stroke-width="1.1"/>
<rect x="260.80" y="589.40" width="11.60" height="211.30" fill="url(#gOr)" stroke="#a9a23c" stroke-width="1.1"/>
<rect x="276.44" y="589.40" width="11.60" height="200.60" fill="url(#gOr)" stroke="#a9a23c" stroke-width="1.1"/>
<rect x="292.09" y="589.40" width="11.60" height="201.90" fill="url(#gOr)" stroke="#a9a23c" stroke-width="1.1"/>
<rect x="307.74" y="589.40" width="11.60" height="166.70" fill="url(#gOr)" stroke="#a9a23c" stroke-width="1.1"/>
<rect x="102.3" y="589.4" width="563.3000000000001" height="393.20000000000005" fill="none" stroke="#000" stroke-width="2"/>
<line x1="94.30" y1="589.40" x2="102.3" y2="589.40" stroke="#000" stroke-width="2"/>
<text x="88.80" y="596.90" font-size="24.4" fill="#000" font-weight="bold" text-anchor="end" textLength="39.60" lengthAdjust="spacingAndGlyphs">-2.5</text>
<line x1="98.30" y1="607.27" x2="102.3" y2="607.27" stroke="#000" stroke-width="2"/>
<line x1="94.30" y1="625.15" x2="102.3" y2="625.15" stroke="#000" stroke-width="2"/>
<text x="88.80" y="632.65" font-size="24.4" fill="#000" font-weight="bold" text-anchor="end" textLength="39.60" lengthAdjust="spacingAndGlyphs">-3.0</text>
<line x1="98.30" y1="643.02" x2="102.3" y2="643.02" stroke="#000" stroke-width="2"/>
<line x1="94.30" y1="660.89" x2="102.3" y2="660.89" stroke="#000" stroke-width="2"/>
<text x="88.80" y="668.39" font-size="24.4" fill="#000" font-weight="bold" text-anchor="end" textLength="39.60" lengthAdjust="spacingAndGlyphs">-3.5</text>
<line x1="98.30" y1="678.76" x2="102.3" y2="678.76" stroke="#000" stroke-width="2"/>
<line x1="94.30" y1="696.64" x2="102.3" y2="696.64" stroke="#000" stroke-width="2"/>
<text x="88.80" y="704.14" font-size="24.4" fill="#000" font-weight="bold" text-anchor="end" textLength="39.60" lengthAdjust="spacingAndGlyphs">-4.0</text>
<line x1="98.30" y1="714.51" x2="102.3" y2="714.51" stroke="#000" stroke-width="2"/>
<line x1="94.30" y1="732.38" x2="102.3" y2="732.38" stroke="#000" stroke-width="2"/>
<text x="88.80" y="739.88" font-size="24.4" fill="#000" font-weight="bold" text-anchor="end" textLength="39.60" lengthAdjust="spacingAndGlyphs">-4.5</text>
<line x1="98.30" y1="750.25" x2="102.3" y2="750.25" stroke="#000" stroke-width="2"/>
<line x1="94.30" y1="768.13" x2="102.3" y2="768.13" stroke="#000" stroke-width="2"/>
<text x="88.80" y="775.63" font-size="24.4" fill="#000" font-weight="bold" text-anchor="end" textLength="39.60" lengthAdjust="spacingAndGlyphs">-5.0</text>
<line x1="98.30" y1="786.00" x2="102.3" y2="786.00" stroke="#000" stroke-width="2"/>
<line x1="94.30" y1="803.87" x2="102.3" y2="803.87" stroke="#000" stroke-width="2"/>
<text x="88.80" y="811.37" font-size="24.4" fill="#000" font-weight="bold" text-anchor="end" textLength="39.60" lengthAdjust="spacingAndGlyphs">-5.5</text>
<line x1="98.30" y1="821.75" x2="102.3" y2="821.75" stroke="#000" stroke-width="2"/>
<line x1="94.30" y1="839.62" x2="102.3" y2="839.62" stroke="#000" stroke-width="2"/>
<text x="88.80" y="847.12" font-size="24.4" fill="#000" font-weight="bold" text-anchor="end" textLength="39.60" lengthAdjust="spacingAndGlyphs">-6.0</text>
<line x1="98.30" y1="857.49" x2="102.3" y2="857.49" stroke="#000" stroke-width="2"/>
<line x1="94.30" y1="875.36" x2="102.3" y2="875.36" stroke="#000" stroke-width="2"/>
<text x="88.80" y="882.86" font-size="24.4" fill="#000" font-weight="bold" text-anchor="end" textLength="39.60" lengthAdjust="spacingAndGlyphs">-6.5</text>
<line x1="98.30" y1="893.24" x2="102.3" y2="893.24" stroke="#000" stroke-width="2"/>
<line x1="94.30" y1="911.11" x2="102.3" y2="911.11" stroke="#000" stroke-width="2"/>
<text x="88.80" y="918.61" font-size="24.4" fill="#000" font-weight="bold" text-anchor="end" textLength="39.60" lengthAdjust="spacingAndGlyphs">-7.0</text>
<line x1="98.30" y1="928.98" x2="102.3" y2="928.98" stroke="#000" stroke-width="2"/>
<line x1="94.30" y1="946.85" x2="102.3" y2="946.85" stroke="#000" stroke-width="2"/>
<text x="88.80" y="954.35" font-size="24.4" fill="#000" font-weight="bold" text-anchor="end" textLength="39.60" lengthAdjust="spacingAndGlyphs">-7.5</text>
<line x1="98.30" y1="964.73" x2="102.3" y2="964.73" stroke="#000" stroke-width="2"/>
<line x1="94.30" y1="982.60" x2="102.3" y2="982.60" stroke="#000" stroke-width="2"/>
<text x="88.80" y="990.10" font-size="24.4" fill="#000" font-weight="bold" text-anchor="end" textLength="39.60" lengthAdjust="spacingAndGlyphs">-8.0</text>
<line x1="110.12" y1="982.6" x2="110.12" y2="990.80" stroke="#000" stroke-width="2"/>
<line x1="125.77" y1="982.6" x2="125.77" y2="990.80" stroke="#000" stroke-width="2"/>
<line x1="141.42" y1="982.6" x2="141.42" y2="990.80" stroke="#000" stroke-width="2"/>
<line x1="157.07" y1="982.6" x2="157.07" y2="990.80" stroke="#000" stroke-width="2"/>
<line x1="172.71" y1="982.6" x2="172.71" y2="990.80" stroke="#000" stroke-width="2"/>
<line x1="188.36" y1="982.6" x2="188.36" y2="990.80" stroke="#000" stroke-width="2"/>
<line x1="204.01" y1="982.6" x2="204.01" y2="990.80" stroke="#000" stroke-width="2"/>
<line x1="219.65" y1="982.6" x2="219.65" y2="990.80" stroke="#000" stroke-width="2"/>
<line x1="235.30" y1="982.6" x2="235.30" y2="990.80" stroke="#000" stroke-width="2"/>
<line x1="250.95" y1="982.6" x2="250.95" y2="990.80" stroke="#000" stroke-width="2"/>
<line x1="266.60" y1="982.6" x2="266.60" y2="990.80" stroke="#000" stroke-width="2"/>
<line x1="282.24" y1="982.6" x2="282.24" y2="990.80" stroke="#000" stroke-width="2"/>
<line x1="297.89" y1="982.6" x2="297.89" y2="990.80" stroke="#000" stroke-width="2"/>
<line x1="313.54" y1="982.6" x2="313.54" y2="990.80" stroke="#000" stroke-width="2"/>
<line x1="329.18" y1="982.6" x2="329.18" y2="990.80" stroke="#000" stroke-width="2"/>
<line x1="344.83" y1="982.6" x2="344.83" y2="990.80" stroke="#000" stroke-width="2"/>
<line x1="360.48" y1="982.6" x2="360.48" y2="990.80" stroke="#000" stroke-width="2"/>
<line x1="376.13" y1="982.6" x2="376.13" y2="990.80" stroke="#000" stroke-width="2"/>
<line x1="391.77" y1="982.6" x2="391.77" y2="990.80" stroke="#000" stroke-width="2"/>
<line x1="407.42" y1="982.6" x2="407.42" y2="990.80" stroke="#000" stroke-width="2"/>
<line x1="423.07" y1="982.6" x2="423.07" y2="990.80" stroke="#000" stroke-width="2"/>
<line x1="438.72" y1="982.6" x2="438.72" y2="990.80" stroke="#000" stroke-width="2"/>
<line x1="454.36" y1="982.6" x2="454.36" y2="990.80" stroke="#000" stroke-width="2"/>
<line x1="470.01" y1="982.6" x2="470.01" y2="990.80" stroke="#000" stroke-width="2"/>
<line x1="485.66" y1="982.6" x2="485.66" y2="990.80" stroke="#000" stroke-width="2"/>
<line x1="501.30" y1="982.6" x2="501.30" y2="990.80" stroke="#000" stroke-width="2"/>
<line x1="516.95" y1="982.6" x2="516.95" y2="990.80" stroke="#000" stroke-width="2"/>
<line x1="532.60" y1="982.6" x2="532.60" y2="990.80" stroke="#000" stroke-width="2"/>
<line x1="548.25" y1="982.6" x2="548.25" y2="990.80" stroke="#000" stroke-width="2"/>
<line x1="563.89" y1="982.6" x2="563.89" y2="990.80" stroke="#000" stroke-width="2"/>
<line x1="579.54" y1="982.6" x2="579.54" y2="990.80" stroke="#000" stroke-width="2"/>
<line x1="595.19" y1="982.6" x2="595.19" y2="990.80" stroke="#000" stroke-width="2"/>
<line x1="610.83" y1="982.6" x2="610.83" y2="990.80" stroke="#000" stroke-width="2"/>
<line x1="626.48" y1="982.6" x2="626.48" y2="990.80" stroke="#000" stroke-width="2"/>
<line x1="642.13" y1="982.6" x2="642.13" y2="990.80" stroke="#000" stroke-width="2"/>
<line x1="657.78" y1="982.6" x2="657.78" y2="990.80" stroke="#000" stroke-width="2"/>
<text x="0" y="0" font-size="13.6" font-weight="bold" text-anchor="end" transform="translate(113.32 1001.60) rotate(-45)">MoS2-H</text>
<text x="0" y="0" font-size="13.6" font-weight="bold" text-anchor="end" transform="translate(128.97 1001.60) rotate(-45)">MoSe2-H</text>
<text x="0" y="0" font-size="13.6" font-weight="bold" text-anchor="end" transform="translate(144.62 1001.60) rotate(-45)">MoTe2-H</text>
<text x="0" y="0" font-size="13.6" font-weight="bold" text-anchor="end" transform="translate(160.27 1001.60) rotate(-45)">WS2-H</text>
<text x="0" y="0" font-size="13.6" font-weight="bold" text-anchor="end" transform="translate(175.91 1001.60) rotate(-45)">WSe2-H</text>
<text x="0" y="0" font-size="13.6" font-weight="bold" text-anchor="end" transform="translate(191.56 1001.60) rotate(-45)">WTe2-H</text>
<text x="0" y="0" font-size="13.6" font-weight="bold" text-anchor="end" transform="translate(207.21 1001.60) rotate(-45)">ZrS2-T</text>
<text x="0" y="0" font-size="13.6" font-weight="bold" text-anchor="end" transform="translate(222.85 1001.60) rotate(-45)">ZrSe2-T</text>
<text x="0" y="0" font-size="13.6" font-weight="bold" text-anchor="end" transform="translate(238.50 1001.60) rotate(-45)">HfS2-T</text>
<text x="0" y="0" font-size="13.6" font-weight="bold" text-anchor="end" transform="translate(254.15 1001.60) rotate(-45)">HfSe2-T</text>
<text x="0" y="0" font-size="13.6" font-weight="bold" text-anchor="end" transform="translate(269.80 1001.60) rotate(-45)">SnS2-T</text>
<text x="0" y="0" font-size="13.6" font-weight="bold" text-anchor="end" transform="translate(285.44 1001.60) rotate(-45)">SnSe2-T</text>
<text x="0" y="0" font-size="13.6" font-weight="bold" text-anchor="end" transform="translate(301.09 1001.60) rotate(-45)">VSe2-H</text>
<text x="0" y="0" font-size="13.6" font-weight="bold" text-anchor="end" transform="translate(316.74 1001.60) rotate(-45)">VTe2-H</text>
<text x="0" y="0" font-size="13.6" font-weight="bold" text-anchor="end" transform="translate(332.38 1001.60) rotate(-45)">VS2-H</text>
<text x="0" y="0" font-size="13.6" font-weight="bold" text-anchor="end" transform="translate(348.03 1001.60) rotate(-45)">VS2-T</text>
<text x="0" y="0" font-size="13.6" font-weight="bold" text-anchor="end" transform="translate(363.68 1001.60) rotate(-45)">VSe2-T</text>
<text x="0" y="0" font-size="13.6" font-weight="bold" text-anchor="end" transform="translate(379.33 1001.60) rotate(-45)">VTe2-T</text>
<text x="0" y="0" font-size="13.6" font-weight="bold" text-anchor="end" transform="translate(394.97 1001.60) rotate(-45)">NbS2-H</text>
<text x="0" y="0" font-size="13.6" font-weight="bold" text-anchor="end" transform="translate(410.62 1001.60) rotate(-45)">NbS2-T</text>
<text x="0" y="0" font-size="13.6" font-weight="bold" text-anchor="end" transform="translate(426.27 1001.60) rotate(-45)">NbSe2-H</text>
<text x="0" y="0" font-size="13.6" font-weight="bold" text-anchor="end" transform="translate(441.92 1001.60) rotate(-45)">NbSe2-T</text>
<text x="0" y="0" font-size="13.6" font-weight="bold" text-anchor="end" transform="translate(457.56 1001.60) rotate(-45)">NbTe2-H</text>
<text x="0" y="0" font-size="13.6" font-weight="bold" text-anchor="end" transform="translate(473.21 1001.60) rotate(-45)">NbTe2-T</text>
<text x="0" y="0" font-size="13.6" font-weight="bold" text-anchor="end" transform="translate(488.86 1001.60) rotate(-45)">TaS2-H</text>
<text x="0" y="0" font-size="13.6" font-weight="bold" text-anchor="end" transform="translate(504.50 1001.60) rotate(-45)">TaS2-T</text>
<text x="0" y="0" font-size="13.6" font-weight="bold" text-anchor="end" transform="translate(520.15 1001.60) rotate(-45)">TaSe2-H</text>
<text x="0" y="0" font-size="13.6" font-weight="bold" text-anchor="end" transform="translate(535.80 1001.60) rotate(-45)">TaSe2-T</text>
<text x="0" y="0" font-size="13.6" font-weight="bold" text-anchor="end" transform="translate(551.45 1001.60) rotate(-45)">TaTe2-H</text>
<text x="0" y="0" font-size="13.6" font-weight="bold" text-anchor="end" transform="translate(567.09 1001.60) rotate(-45)">TaTe2-T</text>
<text x="0" y="0" font-size="13.6" font-weight="bold" text-anchor="end" transform="translate(582.74 1001.60) rotate(-45)">TiS2-T</text>
<text x="0" y="0" font-size="13.6" font-weight="bold" text-anchor="end" transform="translate(598.39 1001.60) rotate(-45)">TiSe2-T</text>
<text x="0" y="0" font-size="13.6" font-weight="bold" text-anchor="end" transform="translate(614.03 1001.60) rotate(-45)">TiTe2-T</text>
<text x="0" y="0" font-size="13.6" font-weight="bold" text-anchor="end" transform="translate(629.68 1001.60) rotate(-45)">HfTe2-T</text>
<text x="0" y="0" font-size="13.6" font-weight="bold" text-anchor="end" transform="translate(645.33 1001.60) rotate(-45)">MoTe2-T'</text>
<text x="0" y="0" font-size="13.6" font-weight="bold" text-anchor="end" transform="translate(660.98 1001.60) rotate(-45)">WTe2-T'</text>
<text x="0" y="0" font-size="29" text-anchor="middle" transform="translate(30.8 805) rotate(-90)" textLength="144.5" lengthAdjust="spacingAndGlyphs">Energy(eV)</text>
<line x1="327.20" y1="669.0" x2="566.70" y2="669.0" stroke="#163a6e" stroke-width="3.1"/>
<path d="M321.20 669.0 L336.20 661.00 L331.20 669.0 L336.20 677.00 Z" fill="#163a6e"/>
<path d="M572.70 669.0 L557.70 661.00 L562.70 669.0 L557.70 677.00 Z" fill="#163a6e"/>
<line x1="583.10" y1="669.0" x2="657.60" y2="669.0" stroke="#163a6e" stroke-width="3.1"/>
<path d="M577.10 669.0 L592.10 661.00 L587.10 669.0 L592.10 677.00 Z" fill="#163a6e"/>
<path d="M663.60 669.0 L648.60 661.00 L653.60 669.0 L648.60 677.00 Z" fill="#163a6e"/>
<text x="0" y="0" font-size="24.5" font-weight="bold" fill="#e0001b" text-anchor="middle" transform="translate(435.2 639.0) rotate(-29)">Metal</text>
<text x="0" y="0" font-size="20.5" font-weight="bold" fill="#2e8b22" text-anchor="middle" transform="translate(618.5 637.5) rotate(-30.5)">Semimetal</text></svg>
</body></html>
